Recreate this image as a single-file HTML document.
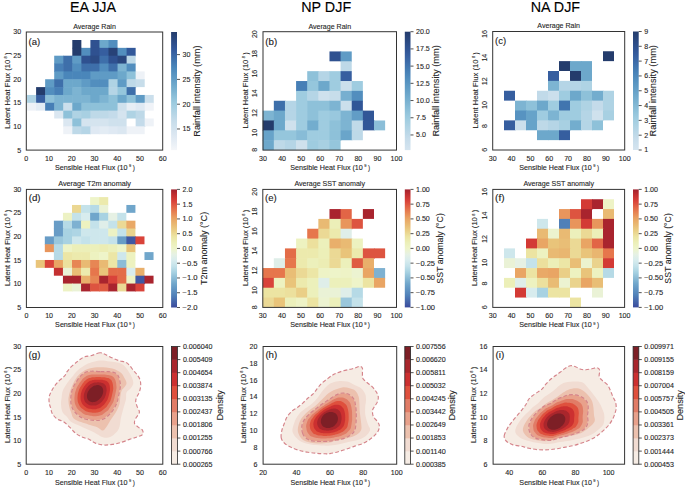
<!DOCTYPE html><html><head><meta charset="utf-8"><style>html,body{margin:0;padding:0;background:#fff;}svg{display:block;}</style></head><body><svg width="685" height="487" viewBox="0 0 685 487" font-family="'Liberation Sans', sans-serif"><rect x="0" y="0" width="685" height="487" fill="#ffffff"/>
<text x="93.00" y="12.30" font-size="14.35" text-anchor="middle" fill="#000000" stroke="#000000" stroke-width="0.1" >EA JJA</text>
<text x="326.20" y="12.30" font-size="14.35" text-anchor="middle" fill="#000000" stroke="#000000" stroke-width="0.1" >NP DJF</text>
<text x="555.40" y="12.30" font-size="14.35" text-anchor="middle" fill="#000000" stroke="#000000" stroke-width="0.1" >NA DJF</text>
<text x="94.50" y="28.90" font-size="6.58" text-anchor="middle" fill="#262626" stroke="#262626" stroke-width="0.1" textLength="42.71" lengthAdjust="spacingAndGlyphs" >Average Rain</text>
<text x="26.30" y="160.60" font-size="6.32" text-anchor="middle" fill="#262626" stroke="#262626" stroke-width="0.1" textLength="3.94" lengthAdjust="spacingAndGlyphs" >0</text>
<text x="49.03" y="160.60" font-size="6.32" text-anchor="middle" fill="#262626" stroke="#262626" stroke-width="0.1" textLength="7.89" lengthAdjust="spacingAndGlyphs" >10</text>
<text x="71.77" y="160.60" font-size="6.32" text-anchor="middle" fill="#262626" stroke="#262626" stroke-width="0.1" textLength="7.89" lengthAdjust="spacingAndGlyphs" >20</text>
<text x="94.50" y="160.60" font-size="6.32" text-anchor="middle" fill="#262626" stroke="#262626" stroke-width="0.1" textLength="7.89" lengthAdjust="spacingAndGlyphs" >30</text>
<text x="117.23" y="160.60" font-size="6.32" text-anchor="middle" fill="#262626" stroke="#262626" stroke-width="0.1" textLength="7.89" lengthAdjust="spacingAndGlyphs" >40</text>
<text x="139.97" y="160.60" font-size="6.32" text-anchor="middle" fill="#262626" stroke="#262626" stroke-width="0.1" textLength="7.89" lengthAdjust="spacingAndGlyphs" >50</text>
<text x="162.70" y="160.60" font-size="6.32" text-anchor="middle" fill="#262626" stroke="#262626" stroke-width="0.1" textLength="7.89" lengthAdjust="spacingAndGlyphs" >60</text>
<g><text x="55.00" y="170.00" font-size="6.32" fill="#262626" stroke="#262626" stroke-width="0.1" textLength="72.60" lengthAdjust="spacingAndGlyphs">Sensible Heat Flux (10</text><text x="129.00" y="167.47" font-size="3.92" fill="#262626" stroke="#262626" stroke-width="0.1">9</text><text x="132.70" y="170.00" font-size="6.32" fill="#262626" stroke="#262626" stroke-width="0.1">)</text></g>
<text x="21.20" y="152.50" font-size="6.32" text-anchor="end" fill="#262626" stroke="#262626" stroke-width="0.1" textLength="3.94" lengthAdjust="spacingAndGlyphs" >5</text>
<text x="21.20" y="128.88" font-size="6.32" text-anchor="end" fill="#262626" stroke="#262626" stroke-width="0.1" textLength="7.89" lengthAdjust="spacingAndGlyphs" >10</text>
<text x="21.20" y="105.26" font-size="6.32" text-anchor="end" fill="#262626" stroke="#262626" stroke-width="0.1" textLength="7.89" lengthAdjust="spacingAndGlyphs" >15</text>
<text x="21.20" y="81.64" font-size="6.32" text-anchor="end" fill="#262626" stroke="#262626" stroke-width="0.1" textLength="7.89" lengthAdjust="spacingAndGlyphs" >20</text>
<text x="21.20" y="58.02" font-size="6.32" text-anchor="end" fill="#262626" stroke="#262626" stroke-width="0.1" textLength="7.89" lengthAdjust="spacingAndGlyphs" >25</text>
<text x="21.20" y="34.40" font-size="6.32" text-anchor="end" fill="#262626" stroke="#262626" stroke-width="0.1" textLength="7.89" lengthAdjust="spacingAndGlyphs" >30</text>
<g transform="rotate(-90 9.80 91.05)"><text x="-27.85" y="91.05" font-size="6.32" fill="#262626" stroke="#262626" stroke-width="0.1" textLength="68.90" lengthAdjust="spacingAndGlyphs">Latent Heat Flux (10</text><text x="42.45" y="88.52" font-size="3.92" fill="#262626" stroke="#262626" stroke-width="0.1">8</text><text x="46.15" y="91.05" font-size="6.32" fill="#262626" stroke="#262626" stroke-width="0.1">)</text></g>
<text x="28.60" y="44.80" font-size="8.40" text-anchor="start" fill="#1a1a1a" stroke="#1a1a1a" stroke-width="0.1" textLength="11.70" lengthAdjust="spacingAndGlyphs" >(a)</text>
<rect x="72.30" y="40.00" width="9.05" height="8.45" fill="#243c6c"/>
<rect x="90.40" y="40.00" width="9.65" height="8.45" fill="#2f5190"/>
<rect x="99.45" y="40.00" width="9.65" height="8.45" fill="#6da8cb"/>
<rect x="108.50" y="40.00" width="9.05" height="8.45" fill="#528ebe"/>
<rect x="72.30" y="47.85" width="9.65" height="8.45" fill="#243c6c"/>
<rect x="81.35" y="47.85" width="9.65" height="8.45" fill="#528ebe"/>
<rect x="90.40" y="47.85" width="9.65" height="8.45" fill="#2f5190"/>
<rect x="99.45" y="47.85" width="9.65" height="8.45" fill="#365e9f"/>
<rect x="108.50" y="47.85" width="9.65" height="8.45" fill="#274277"/>
<rect x="117.55" y="47.85" width="9.65" height="8.45" fill="#528ebe"/>
<rect x="126.60" y="47.85" width="9.05" height="8.45" fill="#32589a"/>
<rect x="54.20" y="55.70" width="9.65" height="8.45" fill="#5f9bc5"/>
<rect x="63.25" y="55.70" width="9.65" height="8.45" fill="#3e6faa"/>
<rect x="72.30" y="55.70" width="9.65" height="8.45" fill="#5f9bc5"/>
<rect x="81.35" y="55.70" width="9.65" height="8.45" fill="#2f5190"/>
<rect x="90.40" y="55.70" width="9.65" height="8.45" fill="#2c4b85"/>
<rect x="99.45" y="55.70" width="9.65" height="8.45" fill="#3e6faa"/>
<rect x="108.50" y="55.70" width="9.65" height="8.45" fill="#2f5190"/>
<rect x="117.55" y="55.70" width="9.65" height="8.45" fill="#2a477e"/>
<rect x="126.60" y="55.70" width="9.05" height="8.45" fill="#bed9e8"/>
<rect x="54.20" y="63.55" width="9.65" height="8.45" fill="#477fb6"/>
<rect x="63.25" y="63.55" width="9.65" height="8.45" fill="#3e6faa"/>
<rect x="72.30" y="63.55" width="9.65" height="8.45" fill="#528ebe"/>
<rect x="81.35" y="63.55" width="9.65" height="8.45" fill="#3e6faa"/>
<rect x="90.40" y="63.55" width="9.65" height="8.45" fill="#3e6faa"/>
<rect x="99.45" y="63.55" width="9.65" height="8.45" fill="#528ebe"/>
<rect x="108.50" y="63.55" width="9.65" height="8.45" fill="#3e6faa"/>
<rect x="117.55" y="63.55" width="9.65" height="8.45" fill="#7db4d2"/>
<rect x="126.60" y="63.55" width="9.05" height="8.45" fill="#528ebe"/>
<rect x="54.20" y="71.40" width="9.65" height="8.45" fill="#5f9bc5"/>
<rect x="63.25" y="71.40" width="9.65" height="8.45" fill="#4a86ba"/>
<rect x="72.30" y="71.40" width="9.65" height="8.45" fill="#4a86ba"/>
<rect x="81.35" y="71.40" width="9.65" height="8.45" fill="#4a86ba"/>
<rect x="90.40" y="71.40" width="9.65" height="8.45" fill="#5f9bc5"/>
<rect x="99.45" y="71.40" width="9.65" height="8.45" fill="#5f9bc5"/>
<rect x="108.50" y="71.40" width="9.65" height="8.45" fill="#5f9bc5"/>
<rect x="117.55" y="71.40" width="9.65" height="8.45" fill="#6da8cb"/>
<rect x="126.60" y="71.40" width="9.65" height="8.45" fill="#8ec1d9"/>
<rect x="135.65" y="71.40" width="9.05" height="8.45" fill="#eef2f7"/>
<rect x="45.15" y="79.25" width="9.65" height="8.45" fill="#5f9bc5"/>
<rect x="54.20" y="79.25" width="9.65" height="8.45" fill="#3e6faa"/>
<rect x="63.25" y="79.25" width="9.65" height="8.45" fill="#6da8cb"/>
<rect x="72.30" y="79.25" width="9.65" height="8.45" fill="#6da8cb"/>
<rect x="81.35" y="79.25" width="9.65" height="8.45" fill="#5f9bc5"/>
<rect x="90.40" y="79.25" width="9.65" height="8.45" fill="#528ebe"/>
<rect x="99.45" y="79.25" width="9.65" height="8.45" fill="#528ebe"/>
<rect x="108.50" y="79.25" width="9.65" height="8.45" fill="#afd3e4"/>
<rect x="117.55" y="79.25" width="9.65" height="8.45" fill="#5f9bc5"/>
<rect x="126.60" y="79.25" width="9.65" height="8.45" fill="#bed9e8"/>
<rect x="135.65" y="79.25" width="9.05" height="7.85" fill="#c7ddea"/>
<rect x="36.10" y="87.10" width="9.65" height="8.45" fill="#243c6c"/>
<rect x="45.15" y="87.10" width="9.65" height="8.45" fill="#528ebe"/>
<rect x="54.20" y="87.10" width="9.65" height="8.45" fill="#477fb6"/>
<rect x="63.25" y="87.10" width="9.65" height="8.45" fill="#6da8cb"/>
<rect x="72.30" y="87.10" width="9.65" height="8.45" fill="#7db4d2"/>
<rect x="81.35" y="87.10" width="9.65" height="8.45" fill="#6da8cb"/>
<rect x="90.40" y="87.10" width="9.65" height="8.45" fill="#6da8cb"/>
<rect x="99.45" y="87.10" width="9.65" height="8.45" fill="#6da8cb"/>
<rect x="108.50" y="87.10" width="9.65" height="8.45" fill="#b5d5e6"/>
<rect x="117.55" y="87.10" width="9.65" height="8.45" fill="#95c6dc"/>
<rect x="126.60" y="87.10" width="9.05" height="8.45" fill="#3e6faa"/>
<rect x="27.05" y="94.95" width="9.65" height="8.45" fill="#afd3e4"/>
<rect x="36.10" y="94.95" width="9.65" height="8.45" fill="#365e9f"/>
<rect x="45.15" y="94.95" width="9.65" height="8.45" fill="#8ec1d9"/>
<rect x="54.20" y="94.95" width="9.65" height="8.45" fill="#7db4d2"/>
<rect x="63.25" y="94.95" width="9.65" height="8.45" fill="#7db4d2"/>
<rect x="72.30" y="94.95" width="9.65" height="8.45" fill="#7db4d2"/>
<rect x="81.35" y="94.95" width="9.65" height="8.45" fill="#7db4d2"/>
<rect x="90.40" y="94.95" width="9.65" height="8.45" fill="#6da8cb"/>
<rect x="99.45" y="94.95" width="9.65" height="8.45" fill="#7db4d2"/>
<rect x="108.50" y="94.95" width="9.65" height="8.45" fill="#8ec1d9"/>
<rect x="117.55" y="94.95" width="9.65" height="8.45" fill="#6da8cb"/>
<rect x="126.60" y="94.95" width="9.65" height="8.45" fill="#8ec1d9"/>
<rect x="135.65" y="94.95" width="9.65" height="8.45" fill="#5f9bc5"/>
<rect x="144.70" y="94.95" width="9.05" height="8.45" fill="#cbdfec"/>
<rect x="27.05" y="102.80" width="9.65" height="7.85" fill="#eef2f7"/>
<rect x="36.10" y="102.80" width="9.65" height="7.85" fill="#e3ecf4"/>
<rect x="45.15" y="102.80" width="9.65" height="7.85" fill="#477fb6"/>
<rect x="54.20" y="102.80" width="9.65" height="8.45" fill="#7db4d2"/>
<rect x="63.25" y="102.80" width="9.65" height="8.45" fill="#cbdfec"/>
<rect x="72.30" y="102.80" width="9.65" height="8.45" fill="#6da8cb"/>
<rect x="81.35" y="102.80" width="9.65" height="8.45" fill="#8ec1d9"/>
<rect x="90.40" y="102.80" width="9.65" height="8.45" fill="#8ec1d9"/>
<rect x="99.45" y="102.80" width="9.65" height="8.45" fill="#8ec1d9"/>
<rect x="108.50" y="102.80" width="9.65" height="8.45" fill="#8ec1d9"/>
<rect x="117.55" y="102.80" width="9.65" height="8.45" fill="#cfe1ed"/>
<rect x="126.60" y="102.80" width="9.65" height="8.45" fill="#e7eef5"/>
<rect x="135.65" y="102.80" width="9.65" height="8.45" fill="#dfe9f3"/>
<rect x="144.70" y="102.80" width="9.05" height="7.85" fill="#f0f3f8"/>
<rect x="54.20" y="110.65" width="9.65" height="7.85" fill="#dbe7f1"/>
<rect x="63.25" y="110.65" width="9.65" height="8.45" fill="#8ec1d9"/>
<rect x="72.30" y="110.65" width="9.65" height="8.45" fill="#afd3e4"/>
<rect x="81.35" y="110.65" width="9.65" height="8.45" fill="#a8d0e2"/>
<rect x="90.40" y="110.65" width="9.65" height="8.45" fill="#bed9e8"/>
<rect x="99.45" y="110.65" width="9.65" height="8.45" fill="#bed9e8"/>
<rect x="108.50" y="110.65" width="9.65" height="8.45" fill="#c4dbea"/>
<rect x="117.55" y="110.65" width="9.65" height="8.45" fill="#d5e4ef"/>
<rect x="126.60" y="110.65" width="9.65" height="7.85" fill="#afd3e4"/>
<rect x="135.65" y="110.65" width="9.05" height="8.45" fill="#bed9e8"/>
<rect x="63.25" y="118.50" width="9.65" height="8.45" fill="#dbe7f1"/>
<rect x="72.30" y="118.50" width="9.65" height="8.45" fill="#8ec1d9"/>
<rect x="81.35" y="118.50" width="9.65" height="8.45" fill="#d5e4ef"/>
<rect x="90.40" y="118.50" width="9.65" height="8.45" fill="#d5e4ef"/>
<rect x="99.45" y="118.50" width="9.65" height="8.45" fill="#d5e4ef"/>
<rect x="108.50" y="118.50" width="9.65" height="8.45" fill="#cfe1ed"/>
<rect x="117.55" y="118.50" width="9.05" height="8.45" fill="#cfe1ed"/>
<rect x="135.65" y="118.50" width="9.65" height="8.45" fill="#c4dbea"/>
<rect x="144.70" y="118.50" width="9.05" height="7.85" fill="#eef2f7"/>
<rect x="63.25" y="126.35" width="9.65" height="7.85" fill="#eef2f7"/>
<rect x="72.30" y="126.35" width="9.65" height="7.85" fill="#bed9e8"/>
<rect x="81.35" y="126.35" width="9.65" height="7.85" fill="#b5d5e6"/>
<rect x="90.40" y="126.35" width="9.65" height="7.85" fill="#dfe9f3"/>
<rect x="99.45" y="126.35" width="9.65" height="7.85" fill="#e3ecf4"/>
<rect x="108.50" y="126.35" width="9.65" height="7.85" fill="#dfe9f3"/>
<rect x="117.55" y="126.35" width="9.65" height="7.85" fill="#dbe7f1"/>
<rect x="126.60" y="126.35" width="9.65" height="7.85" fill="#eef2f7"/>
<rect x="135.65" y="126.35" width="9.05" height="7.85" fill="#eef2f7"/>
<rect x="26.30" y="32.00" width="136.40" height="118.10" fill="none" stroke="#333333" stroke-width="1"/>
<linearGradient id="g_a" x1="0" y1="1" x2="0" y2="0"><stop offset="0.000" stop-color="#f4f6f9"/><stop offset="0.050" stop-color="#eaf0f6"/><stop offset="0.100" stop-color="#e1eaf3"/><stop offset="0.150" stop-color="#d8e5f0"/><stop offset="0.200" stop-color="#cfe1ed"/><stop offset="0.250" stop-color="#c6dcea"/><stop offset="0.300" stop-color="#b8d6e6"/><stop offset="0.350" stop-color="#aad1e3"/><stop offset="0.400" stop-color="#9ccbdf"/><stop offset="0.450" stop-color="#8dc0d9"/><stop offset="0.500" stop-color="#7db4d2"/><stop offset="0.550" stop-color="#6ea9cc"/><stop offset="0.600" stop-color="#629dc6"/><stop offset="0.650" stop-color="#5692c0"/><stop offset="0.700" stop-color="#4a86ba"/><stop offset="0.750" stop-color="#4277b0"/><stop offset="0.800" stop-color="#3b68a6"/><stop offset="0.850" stop-color="#33599c"/><stop offset="0.900" stop-color="#2e4f8c"/><stop offset="0.950" stop-color="#29467c"/><stop offset="1.000" stop-color="#243c6c"/></linearGradient>
<rect x="171.10" y="32.00" width="5.90" height="118.10" fill="url(#g_a)"/>
<line x1="177.00" y1="128.98" x2="180.00" y2="128.98" stroke="#262626" stroke-width="0.8"/>
<text x="182.50" y="131.38" font-size="6.32" text-anchor="start" fill="#262626" stroke="#262626" stroke-width="0.1" textLength="7.89" lengthAdjust="spacingAndGlyphs" >15</text>
<line x1="177.00" y1="104.19" x2="180.00" y2="104.19" stroke="#262626" stroke-width="0.8"/>
<text x="182.50" y="106.59" font-size="6.32" text-anchor="start" fill="#262626" stroke="#262626" stroke-width="0.1" textLength="7.89" lengthAdjust="spacingAndGlyphs" >20</text>
<line x1="177.00" y1="79.40" x2="180.00" y2="79.40" stroke="#262626" stroke-width="0.8"/>
<text x="182.50" y="81.80" font-size="6.32" text-anchor="start" fill="#262626" stroke="#262626" stroke-width="0.1" textLength="7.89" lengthAdjust="spacingAndGlyphs" >25</text>
<line x1="177.00" y1="54.61" x2="180.00" y2="54.61" stroke="#262626" stroke-width="0.8"/>
<text x="182.50" y="57.01" font-size="6.32" text-anchor="start" fill="#262626" stroke="#262626" stroke-width="0.1" textLength="7.89" lengthAdjust="spacingAndGlyphs" >30</text>
<text x="199.60" y="91.05" font-size="8.16" text-anchor="middle" fill="#262626" stroke="#262626" stroke-width="0.1" textLength="91.34" lengthAdjust="spacingAndGlyphs" transform="rotate(-90 199.60 91.05)" >Rainfall intensity (mm)</text>
<text x="329.75" y="28.60" font-size="6.58" text-anchor="middle" fill="#262626" stroke="#262626" stroke-width="0.1" textLength="42.71" lengthAdjust="spacingAndGlyphs" >Average Rain</text>
<text x="263.00" y="160.60" font-size="6.32" text-anchor="middle" fill="#262626" stroke="#262626" stroke-width="0.1" textLength="7.89" lengthAdjust="spacingAndGlyphs" >30</text>
<text x="282.07" y="160.60" font-size="6.32" text-anchor="middle" fill="#262626" stroke="#262626" stroke-width="0.1" textLength="7.89" lengthAdjust="spacingAndGlyphs" >40</text>
<text x="301.14" y="160.60" font-size="6.32" text-anchor="middle" fill="#262626" stroke="#262626" stroke-width="0.1" textLength="7.89" lengthAdjust="spacingAndGlyphs" >50</text>
<text x="320.21" y="160.60" font-size="6.32" text-anchor="middle" fill="#262626" stroke="#262626" stroke-width="0.1" textLength="7.89" lengthAdjust="spacingAndGlyphs" >60</text>
<text x="339.29" y="160.60" font-size="6.32" text-anchor="middle" fill="#262626" stroke="#262626" stroke-width="0.1" textLength="7.89" lengthAdjust="spacingAndGlyphs" >70</text>
<text x="358.36" y="160.60" font-size="6.32" text-anchor="middle" fill="#262626" stroke="#262626" stroke-width="0.1" textLength="7.89" lengthAdjust="spacingAndGlyphs" >80</text>
<text x="377.43" y="160.60" font-size="6.32" text-anchor="middle" fill="#262626" stroke="#262626" stroke-width="0.1" textLength="7.89" lengthAdjust="spacingAndGlyphs" >90</text>
<text x="396.50" y="160.60" font-size="6.32" text-anchor="middle" fill="#262626" stroke="#262626" stroke-width="0.1" textLength="11.83" lengthAdjust="spacingAndGlyphs" >100</text>
<g><text x="290.25" y="170.00" font-size="6.32" fill="#262626" stroke="#262626" stroke-width="0.1" textLength="72.60" lengthAdjust="spacingAndGlyphs">Sensible Heat Flux (10</text><text x="364.25" y="167.47" font-size="3.92" fill="#262626" stroke="#262626" stroke-width="0.1">9</text><text x="367.95" y="170.00" font-size="6.32" fill="#262626" stroke="#262626" stroke-width="0.1">)</text></g>
<text x="257.30" y="149.90" font-size="6.32" text-anchor="middle" fill="#262626" stroke="#262626" stroke-width="0.1" textLength="3.94" lengthAdjust="spacingAndGlyphs" transform="rotate(-90 257.30 149.90)" >8</text>
<text x="257.30" y="132.82" font-size="6.32" text-anchor="middle" fill="#262626" stroke="#262626" stroke-width="0.1" textLength="7.89" lengthAdjust="spacingAndGlyphs" transform="rotate(-90 257.30 132.82)" >10</text>
<text x="257.30" y="113.08" font-size="6.32" text-anchor="middle" fill="#262626" stroke="#262626" stroke-width="0.1" textLength="7.89" lengthAdjust="spacingAndGlyphs" transform="rotate(-90 257.30 113.08)" >12</text>
<text x="257.30" y="93.35" font-size="6.32" text-anchor="middle" fill="#262626" stroke="#262626" stroke-width="0.1" textLength="7.89" lengthAdjust="spacingAndGlyphs" transform="rotate(-90 257.30 93.35)" >14</text>
<text x="257.30" y="73.62" font-size="6.32" text-anchor="middle" fill="#262626" stroke="#262626" stroke-width="0.1" textLength="7.89" lengthAdjust="spacingAndGlyphs" transform="rotate(-90 257.30 73.62)" >16</text>
<text x="257.30" y="53.88" font-size="6.32" text-anchor="middle" fill="#262626" stroke="#262626" stroke-width="0.1" textLength="7.89" lengthAdjust="spacingAndGlyphs" transform="rotate(-90 257.30 53.88)" >18</text>
<text x="257.30" y="34.15" font-size="6.32" text-anchor="middle" fill="#262626" stroke="#262626" stroke-width="0.1" textLength="7.89" lengthAdjust="spacingAndGlyphs" transform="rotate(-90 257.30 34.15)" >20</text>
<g transform="rotate(-90 248.00 90.90)"><text x="210.35" y="90.90" font-size="6.32" fill="#262626" stroke="#262626" stroke-width="0.1" textLength="68.90" lengthAdjust="spacingAndGlyphs">Latent Heat Flux (10</text><text x="280.65" y="88.37" font-size="3.92" fill="#262626" stroke="#262626" stroke-width="0.1">8</text><text x="284.35" y="90.90" font-size="6.32" fill="#262626" stroke="#262626" stroke-width="0.1">)</text></g>
<text x="265.30" y="44.50" font-size="8.40" text-anchor="start" fill="#1a1a1a" stroke="#1a1a1a" stroke-width="0.1" textLength="11.89" lengthAdjust="spacingAndGlyphs" >(b)</text>
<rect x="329.48" y="51.43" width="11.73" height="9.87" fill="#2f5190"/>
<rect x="340.61" y="51.43" width="11.13" height="10.47" fill="#5f9bc5"/>
<rect x="340.61" y="61.30" width="11.13" height="10.47" fill="#bed9e8"/>
<rect x="307.22" y="71.16" width="11.73" height="10.47" fill="#8ec1d9"/>
<rect x="318.35" y="71.16" width="11.73" height="10.47" fill="#b5d5e6"/>
<rect x="329.48" y="71.16" width="11.73" height="10.47" fill="#9fcce0"/>
<rect x="340.61" y="71.16" width="11.13" height="10.47" fill="#365e9f"/>
<rect x="296.09" y="81.03" width="11.73" height="10.47" fill="#477fb6"/>
<rect x="307.22" y="81.03" width="11.73" height="10.47" fill="#95c6dc"/>
<rect x="318.35" y="81.03" width="11.73" height="10.47" fill="#6da8cb"/>
<rect x="329.48" y="81.03" width="11.73" height="10.47" fill="#9fcce0"/>
<rect x="340.61" y="81.03" width="11.73" height="10.47" fill="#cbdfec"/>
<rect x="351.74" y="81.03" width="11.13" height="10.47" fill="#9fcce0"/>
<rect x="296.09" y="90.90" width="11.73" height="10.47" fill="#9fcce0"/>
<rect x="307.22" y="90.90" width="11.73" height="10.47" fill="#b5d5e6"/>
<rect x="318.35" y="90.90" width="11.73" height="10.47" fill="#cfe1ed"/>
<rect x="329.48" y="90.90" width="11.73" height="10.47" fill="#c7ddea"/>
<rect x="340.61" y="90.90" width="11.73" height="10.47" fill="#77afd0"/>
<rect x="351.74" y="90.90" width="11.13" height="10.47" fill="#528ebe"/>
<rect x="273.83" y="100.76" width="11.73" height="10.47" fill="#3e6faa"/>
<rect x="284.96" y="100.76" width="11.73" height="10.47" fill="#b5d5e6"/>
<rect x="296.09" y="100.76" width="11.73" height="10.47" fill="#9fcce0"/>
<rect x="307.22" y="100.76" width="11.73" height="10.47" fill="#8ec1d9"/>
<rect x="318.35" y="100.76" width="11.73" height="10.47" fill="#8ec1d9"/>
<rect x="329.48" y="100.76" width="11.73" height="10.47" fill="#7db4d2"/>
<rect x="340.61" y="100.76" width="11.73" height="10.47" fill="#cbdfec"/>
<rect x="351.74" y="100.76" width="11.13" height="10.47" fill="#315697"/>
<rect x="262.70" y="110.63" width="11.73" height="10.47" fill="#7db4d2"/>
<rect x="273.83" y="110.63" width="11.73" height="10.47" fill="#6da8cb"/>
<rect x="284.96" y="110.63" width="11.73" height="10.47" fill="#b5d5e6"/>
<rect x="296.09" y="110.63" width="11.73" height="10.47" fill="#9fcce0"/>
<rect x="307.22" y="110.63" width="11.73" height="10.47" fill="#8ec1d9"/>
<rect x="318.35" y="110.63" width="11.73" height="10.47" fill="#9fcce0"/>
<rect x="329.48" y="110.63" width="11.73" height="10.47" fill="#99c8de"/>
<rect x="340.61" y="110.63" width="11.73" height="10.47" fill="#7db4d2"/>
<rect x="351.74" y="110.63" width="11.73" height="10.47" fill="#629dc6"/>
<rect x="362.87" y="110.63" width="11.13" height="10.47" fill="#315697"/>
<rect x="262.70" y="120.49" width="11.73" height="10.47" fill="#243c6c"/>
<rect x="273.83" y="120.49" width="11.73" height="10.47" fill="#6da8cb"/>
<rect x="284.96" y="120.49" width="11.73" height="10.47" fill="#cfe1ed"/>
<rect x="296.09" y="120.49" width="11.73" height="10.47" fill="#9fcce0"/>
<rect x="307.22" y="120.49" width="11.73" height="10.47" fill="#73adce"/>
<rect x="318.35" y="120.49" width="11.73" height="10.47" fill="#9fcce0"/>
<rect x="329.48" y="120.49" width="11.73" height="10.47" fill="#8ec1d9"/>
<rect x="340.61" y="120.49" width="11.73" height="10.47" fill="#7db4d2"/>
<rect x="351.74" y="120.49" width="11.73" height="10.47" fill="#c1dae9"/>
<rect x="362.87" y="120.49" width="11.73" height="9.87" fill="#315697"/>
<rect x="374.00" y="120.49" width="11.13" height="9.87" fill="#8bbed8"/>
<rect x="262.70" y="130.36" width="11.73" height="10.47" fill="#67a3c9"/>
<rect x="273.83" y="130.36" width="11.73" height="10.47" fill="#95c6dc"/>
<rect x="284.96" y="130.36" width="11.73" height="10.47" fill="#95c6dc"/>
<rect x="296.09" y="130.36" width="11.73" height="10.47" fill="#88bcd7"/>
<rect x="307.22" y="130.36" width="11.73" height="10.47" fill="#9fcce0"/>
<rect x="318.35" y="130.36" width="11.73" height="10.47" fill="#9fcce0"/>
<rect x="329.48" y="130.36" width="11.73" height="10.47" fill="#8ec1d9"/>
<rect x="340.61" y="130.36" width="11.73" height="9.87" fill="#6aa5ca"/>
<rect x="351.74" y="130.36" width="11.13" height="9.87" fill="#bed9e8"/>
<rect x="262.70" y="140.23" width="11.73" height="9.87" fill="#6da8cb"/>
<rect x="273.83" y="140.23" width="11.73" height="9.87" fill="#bed9e8"/>
<rect x="284.96" y="140.23" width="11.73" height="9.87" fill="#b5d5e6"/>
<rect x="296.09" y="140.23" width="11.73" height="9.87" fill="#cfe1ed"/>
<rect x="307.22" y="140.23" width="11.73" height="9.87" fill="#9fcce0"/>
<rect x="318.35" y="140.23" width="11.73" height="9.87" fill="#a8d0e2"/>
<rect x="329.48" y="140.23" width="11.13" height="9.87" fill="#95c6dc"/>
<rect x="263.00" y="31.70" width="133.50" height="118.40" fill="none" stroke="#333333" stroke-width="1"/>
<linearGradient id="g_b" x1="0" y1="1" x2="0" y2="0"><stop offset="0.000" stop-color="#d5e4ef"/><stop offset="0.050" stop-color="#cde0ed"/><stop offset="0.100" stop-color="#c6dcea"/><stop offset="0.150" stop-color="#bad7e7"/><stop offset="0.200" stop-color="#afd3e4"/><stop offset="0.250" stop-color="#a3cee1"/><stop offset="0.300" stop-color="#97c7dd"/><stop offset="0.350" stop-color="#8abed8"/><stop offset="0.400" stop-color="#7db4d2"/><stop offset="0.450" stop-color="#71abcd"/><stop offset="0.500" stop-color="#66a1c8"/><stop offset="0.550" stop-color="#5c98c3"/><stop offset="0.600" stop-color="#528ebe"/><stop offset="0.650" stop-color="#4983b8"/><stop offset="0.700" stop-color="#4277b0"/><stop offset="0.750" stop-color="#3c6aa8"/><stop offset="0.800" stop-color="#365e9f"/><stop offset="0.850" stop-color="#305494"/><stop offset="0.900" stop-color="#2c4c87"/><stop offset="0.950" stop-color="#284479"/><stop offset="1.000" stop-color="#243c6c"/></linearGradient>
<rect x="404.80" y="31.70" width="5.70" height="118.40" fill="url(#g_b)"/>
<line x1="410.50" y1="134.96" x2="413.50" y2="134.96" stroke="#262626" stroke-width="0.8"/>
<text x="416.00" y="137.36" font-size="6.32" text-anchor="start" fill="#262626" stroke="#262626" stroke-width="0.1" textLength="9.86" lengthAdjust="spacingAndGlyphs" >5.0</text>
<line x1="410.50" y1="117.75" x2="413.50" y2="117.75" stroke="#262626" stroke-width="0.8"/>
<text x="416.00" y="120.15" font-size="6.32" text-anchor="start" fill="#262626" stroke="#262626" stroke-width="0.1" textLength="9.86" lengthAdjust="spacingAndGlyphs" >7.5</text>
<line x1="410.50" y1="100.54" x2="413.50" y2="100.54" stroke="#262626" stroke-width="0.8"/>
<text x="416.00" y="102.94" font-size="6.32" text-anchor="start" fill="#262626" stroke="#262626" stroke-width="0.1" textLength="13.81" lengthAdjust="spacingAndGlyphs" >10.0</text>
<line x1="410.50" y1="83.33" x2="413.50" y2="83.33" stroke="#262626" stroke-width="0.8"/>
<text x="416.00" y="85.73" font-size="6.32" text-anchor="start" fill="#262626" stroke="#262626" stroke-width="0.1" textLength="13.81" lengthAdjust="spacingAndGlyphs" >12.5</text>
<line x1="410.50" y1="66.12" x2="413.50" y2="66.12" stroke="#262626" stroke-width="0.8"/>
<text x="416.00" y="68.52" font-size="6.32" text-anchor="start" fill="#262626" stroke="#262626" stroke-width="0.1" textLength="13.81" lengthAdjust="spacingAndGlyphs" >15.0</text>
<line x1="410.50" y1="48.91" x2="413.50" y2="48.91" stroke="#262626" stroke-width="0.8"/>
<text x="416.00" y="51.31" font-size="6.32" text-anchor="start" fill="#262626" stroke="#262626" stroke-width="0.1" textLength="13.81" lengthAdjust="spacingAndGlyphs" >17.5</text>
<line x1="410.50" y1="31.70" x2="413.50" y2="31.70" stroke="#262626" stroke-width="0.8"/>
<text x="416.00" y="34.10" font-size="6.32" text-anchor="start" fill="#262626" stroke="#262626" stroke-width="0.1" textLength="13.81" lengthAdjust="spacingAndGlyphs" >20.0</text>
<text x="439.20" y="90.90" font-size="8.16" text-anchor="middle" fill="#262626" stroke="#262626" stroke-width="0.1" textLength="91.34" lengthAdjust="spacingAndGlyphs" transform="rotate(-90 439.20 90.90)" >Rainfall intensity (mm)</text>
<text x="558.70" y="28.40" font-size="6.58" text-anchor="middle" fill="#262626" stroke="#262626" stroke-width="0.1" textLength="42.71" lengthAdjust="spacingAndGlyphs" >Average Rain</text>
<text x="492.70" y="160.50" font-size="6.32" text-anchor="middle" fill="#262626" stroke="#262626" stroke-width="0.1" textLength="7.89" lengthAdjust="spacingAndGlyphs" >30</text>
<text x="511.56" y="160.50" font-size="6.32" text-anchor="middle" fill="#262626" stroke="#262626" stroke-width="0.1" textLength="7.89" lengthAdjust="spacingAndGlyphs" >40</text>
<text x="530.41" y="160.50" font-size="6.32" text-anchor="middle" fill="#262626" stroke="#262626" stroke-width="0.1" textLength="7.89" lengthAdjust="spacingAndGlyphs" >50</text>
<text x="549.27" y="160.50" font-size="6.32" text-anchor="middle" fill="#262626" stroke="#262626" stroke-width="0.1" textLength="7.89" lengthAdjust="spacingAndGlyphs" >60</text>
<text x="568.13" y="160.50" font-size="6.32" text-anchor="middle" fill="#262626" stroke="#262626" stroke-width="0.1" textLength="7.89" lengthAdjust="spacingAndGlyphs" >70</text>
<text x="586.99" y="160.50" font-size="6.32" text-anchor="middle" fill="#262626" stroke="#262626" stroke-width="0.1" textLength="7.89" lengthAdjust="spacingAndGlyphs" >80</text>
<text x="605.84" y="160.50" font-size="6.32" text-anchor="middle" fill="#262626" stroke="#262626" stroke-width="0.1" textLength="7.89" lengthAdjust="spacingAndGlyphs" >90</text>
<text x="624.70" y="160.50" font-size="6.32" text-anchor="middle" fill="#262626" stroke="#262626" stroke-width="0.1" textLength="11.83" lengthAdjust="spacingAndGlyphs" >100</text>
<g><text x="519.20" y="169.90" font-size="6.32" fill="#262626" stroke="#262626" stroke-width="0.1" textLength="72.60" lengthAdjust="spacingAndGlyphs">Sensible Heat Flux (10</text><text x="593.20" y="167.37" font-size="3.92" fill="#262626" stroke="#262626" stroke-width="0.1">9</text><text x="596.90" y="169.90" font-size="6.32" fill="#262626" stroke="#262626" stroke-width="0.1">)</text></g>
<text x="487.00" y="149.80" font-size="6.32" text-anchor="middle" fill="#262626" stroke="#262626" stroke-width="0.1" textLength="3.94" lengthAdjust="spacingAndGlyphs" transform="rotate(-90 487.00 149.80)" >6</text>
<text x="487.00" y="126.10" font-size="6.32" text-anchor="middle" fill="#262626" stroke="#262626" stroke-width="0.1" textLength="3.94" lengthAdjust="spacingAndGlyphs" transform="rotate(-90 487.00 126.10)" >8</text>
<text x="487.00" y="105.05" font-size="6.32" text-anchor="middle" fill="#262626" stroke="#262626" stroke-width="0.1" textLength="7.89" lengthAdjust="spacingAndGlyphs" transform="rotate(-90 487.00 105.05)" >10</text>
<text x="487.00" y="81.35" font-size="6.32" text-anchor="middle" fill="#262626" stroke="#262626" stroke-width="0.1" textLength="7.89" lengthAdjust="spacingAndGlyphs" transform="rotate(-90 487.00 81.35)" >12</text>
<text x="487.00" y="57.65" font-size="6.32" text-anchor="middle" fill="#262626" stroke="#262626" stroke-width="0.1" textLength="7.89" lengthAdjust="spacingAndGlyphs" transform="rotate(-90 487.00 57.65)" >14</text>
<text x="487.00" y="33.95" font-size="6.32" text-anchor="middle" fill="#262626" stroke="#262626" stroke-width="0.1" textLength="7.89" lengthAdjust="spacingAndGlyphs" transform="rotate(-90 487.00 33.95)" >16</text>
<g transform="rotate(-90 477.50 90.75)"><text x="439.85" y="90.75" font-size="6.32" fill="#262626" stroke="#262626" stroke-width="0.1" textLength="68.90" lengthAdjust="spacingAndGlyphs">Latent Heat Flux (10</text><text x="510.15" y="88.22" font-size="3.92" fill="#262626" stroke="#262626" stroke-width="0.1">8</text><text x="513.85" y="90.75" font-size="6.32" fill="#262626" stroke="#262626" stroke-width="0.1">)</text></g>
<text x="495.00" y="44.30" font-size="8.40" text-anchor="start" fill="#1a1a1a" stroke="#1a1a1a" stroke-width="0.1" textLength="11.17" lengthAdjust="spacingAndGlyphs" >(c)</text>
<rect x="603.00" y="51.25" width="11.00" height="9.88" fill="#243c6c"/>
<rect x="559.00" y="61.12" width="11.60" height="9.88" fill="#243c6c"/>
<rect x="570.00" y="61.12" width="11.60" height="10.47" fill="#6da8cb"/>
<rect x="581.00" y="61.12" width="11.00" height="10.47" fill="#6da8cb"/>
<rect x="548.00" y="71.00" width="11.00" height="10.47" fill="#365e9f"/>
<rect x="570.00" y="71.00" width="11.60" height="10.47" fill="#243c6c"/>
<rect x="581.00" y="71.00" width="11.00" height="10.47" fill="#6da8cb"/>
<rect x="548.00" y="80.88" width="11.60" height="10.47" fill="#7db4d2"/>
<rect x="559.00" y="80.88" width="11.60" height="10.47" fill="#b5d5e6"/>
<rect x="570.00" y="80.88" width="11.60" height="10.47" fill="#b5d5e6"/>
<rect x="581.00" y="80.88" width="11.00" height="10.47" fill="#afd3e4"/>
<rect x="504.00" y="90.75" width="11.00" height="9.88" fill="#365e9f"/>
<rect x="537.00" y="90.75" width="11.60" height="10.47" fill="#c1dae9"/>
<rect x="548.00" y="90.75" width="11.60" height="10.47" fill="#cbdfec"/>
<rect x="559.00" y="90.75" width="11.60" height="10.47" fill="#9fcce0"/>
<rect x="570.00" y="90.75" width="11.60" height="10.47" fill="#6da8cb"/>
<rect x="581.00" y="90.75" width="11.60" height="10.47" fill="#8ec1d9"/>
<rect x="592.00" y="90.75" width="11.60" height="10.47" fill="#73adce"/>
<rect x="603.00" y="90.75" width="11.00" height="10.47" fill="#afd3e4"/>
<rect x="515.00" y="100.62" width="11.60" height="10.47" fill="#7db4d2"/>
<rect x="526.00" y="100.62" width="11.60" height="10.47" fill="#8ec1d9"/>
<rect x="537.00" y="100.62" width="11.60" height="10.47" fill="#6da8cb"/>
<rect x="548.00" y="100.62" width="11.60" height="10.47" fill="#9fcce0"/>
<rect x="559.00" y="100.62" width="11.60" height="10.47" fill="#4175af"/>
<rect x="570.00" y="100.62" width="11.60" height="10.47" fill="#9fcce0"/>
<rect x="581.00" y="100.62" width="11.60" height="10.47" fill="#afd3e4"/>
<rect x="592.00" y="100.62" width="11.60" height="10.47" fill="#c4dbea"/>
<rect x="603.00" y="100.62" width="11.00" height="10.47" fill="#afd3e4"/>
<rect x="515.00" y="110.50" width="11.60" height="10.47" fill="#5793c1"/>
<rect x="526.00" y="110.50" width="11.60" height="10.47" fill="#67a3c9"/>
<rect x="537.00" y="110.50" width="11.60" height="10.47" fill="#9fcce0"/>
<rect x="548.00" y="110.50" width="11.60" height="10.47" fill="#7db4d2"/>
<rect x="559.00" y="110.50" width="11.60" height="10.47" fill="#9fcce0"/>
<rect x="570.00" y="110.50" width="11.60" height="10.47" fill="#9fcce0"/>
<rect x="581.00" y="110.50" width="11.60" height="10.47" fill="#b5d5e6"/>
<rect x="592.00" y="110.50" width="11.60" height="10.47" fill="#cfe1ed"/>
<rect x="603.00" y="110.50" width="11.00" height="9.88" fill="#a8d0e2"/>
<rect x="504.00" y="120.38" width="11.60" height="9.88" fill="#365e9f"/>
<rect x="515.00" y="120.38" width="11.60" height="9.88" fill="#cbdfec"/>
<rect x="526.00" y="120.38" width="11.60" height="9.88" fill="#67a3c9"/>
<rect x="537.00" y="120.38" width="11.60" height="10.47" fill="#bed9e8"/>
<rect x="548.00" y="120.38" width="11.60" height="10.47" fill="#b5d5e6"/>
<rect x="559.00" y="120.38" width="11.60" height="10.47" fill="#a8d0e2"/>
<rect x="570.00" y="120.38" width="11.60" height="9.88" fill="#73adce"/>
<rect x="581.00" y="120.38" width="11.60" height="9.88" fill="#b5d5e6"/>
<rect x="592.00" y="120.38" width="11.00" height="9.88" fill="#8ec1d9"/>
<rect x="537.00" y="130.25" width="11.60" height="9.88" fill="#6da8cb"/>
<rect x="548.00" y="130.25" width="11.60" height="9.88" fill="#6da8cb"/>
<rect x="559.00" y="130.25" width="11.00" height="9.88" fill="#365e9f"/>
<rect x="492.70" y="31.50" width="132.00" height="118.50" fill="none" stroke="#333333" stroke-width="1"/>
<linearGradient id="g_c" x1="0" y1="1" x2="0" y2="0"><stop offset="0.000" stop-color="#d5e4ef"/><stop offset="0.050" stop-color="#cde0ed"/><stop offset="0.100" stop-color="#c6dcea"/><stop offset="0.150" stop-color="#bad7e7"/><stop offset="0.200" stop-color="#afd3e4"/><stop offset="0.250" stop-color="#a3cee1"/><stop offset="0.300" stop-color="#97c7dd"/><stop offset="0.350" stop-color="#8abed8"/><stop offset="0.400" stop-color="#7db4d2"/><stop offset="0.450" stop-color="#71abcd"/><stop offset="0.500" stop-color="#66a1c8"/><stop offset="0.550" stop-color="#5c98c3"/><stop offset="0.600" stop-color="#528ebe"/><stop offset="0.650" stop-color="#4983b8"/><stop offset="0.700" stop-color="#4277b0"/><stop offset="0.750" stop-color="#3c6aa8"/><stop offset="0.800" stop-color="#365e9f"/><stop offset="0.850" stop-color="#305494"/><stop offset="0.900" stop-color="#2c4c87"/><stop offset="0.950" stop-color="#284479"/><stop offset="1.000" stop-color="#243c6c"/></linearGradient>
<rect x="633.00" y="31.50" width="5.70" height="118.50" fill="url(#g_c)"/>
<line x1="638.70" y1="150.00" x2="641.70" y2="150.00" stroke="#262626" stroke-width="0.8"/>
<text x="644.20" y="152.40" font-size="6.32" text-anchor="start" fill="#262626" stroke="#262626" stroke-width="0.1" textLength="3.94" lengthAdjust="spacingAndGlyphs" >1</text>
<line x1="638.70" y1="135.19" x2="641.70" y2="135.19" stroke="#262626" stroke-width="0.8"/>
<text x="644.20" y="137.59" font-size="6.32" text-anchor="start" fill="#262626" stroke="#262626" stroke-width="0.1" textLength="3.94" lengthAdjust="spacingAndGlyphs" >2</text>
<line x1="638.70" y1="120.38" x2="641.70" y2="120.38" stroke="#262626" stroke-width="0.8"/>
<text x="644.20" y="122.78" font-size="6.32" text-anchor="start" fill="#262626" stroke="#262626" stroke-width="0.1" textLength="3.94" lengthAdjust="spacingAndGlyphs" >3</text>
<line x1="638.70" y1="105.56" x2="641.70" y2="105.56" stroke="#262626" stroke-width="0.8"/>
<text x="644.20" y="107.96" font-size="6.32" text-anchor="start" fill="#262626" stroke="#262626" stroke-width="0.1" textLength="3.94" lengthAdjust="spacingAndGlyphs" >4</text>
<line x1="638.70" y1="90.75" x2="641.70" y2="90.75" stroke="#262626" stroke-width="0.8"/>
<text x="644.20" y="93.15" font-size="6.32" text-anchor="start" fill="#262626" stroke="#262626" stroke-width="0.1" textLength="3.94" lengthAdjust="spacingAndGlyphs" >5</text>
<line x1="638.70" y1="75.94" x2="641.70" y2="75.94" stroke="#262626" stroke-width="0.8"/>
<text x="644.20" y="78.34" font-size="6.32" text-anchor="start" fill="#262626" stroke="#262626" stroke-width="0.1" textLength="3.94" lengthAdjust="spacingAndGlyphs" >6</text>
<line x1="638.70" y1="61.12" x2="641.70" y2="61.12" stroke="#262626" stroke-width="0.8"/>
<text x="644.20" y="63.52" font-size="6.32" text-anchor="start" fill="#262626" stroke="#262626" stroke-width="0.1" textLength="3.94" lengthAdjust="spacingAndGlyphs" >7</text>
<line x1="638.70" y1="46.31" x2="641.70" y2="46.31" stroke="#262626" stroke-width="0.8"/>
<text x="644.20" y="48.71" font-size="6.32" text-anchor="start" fill="#262626" stroke="#262626" stroke-width="0.1" textLength="3.94" lengthAdjust="spacingAndGlyphs" >8</text>
<line x1="638.70" y1="31.50" x2="641.70" y2="31.50" stroke="#262626" stroke-width="0.8"/>
<text x="644.20" y="33.90" font-size="6.32" text-anchor="start" fill="#262626" stroke="#262626" stroke-width="0.1" textLength="3.94" lengthAdjust="spacingAndGlyphs" >9</text>
<text x="656.30" y="90.75" font-size="8.16" text-anchor="middle" fill="#262626" stroke="#262626" stroke-width="0.1" textLength="91.34" lengthAdjust="spacingAndGlyphs" transform="rotate(-90 656.30 90.75)" >Rainfall intensity (mm)</text>
<text x="94.60" y="186.30" font-size="6.58" text-anchor="middle" fill="#262626" stroke="#262626" stroke-width="0.1" textLength="72.75" lengthAdjust="spacingAndGlyphs" >Average T2m anomaly</text>
<text x="26.40" y="318.00" font-size="6.32" text-anchor="middle" fill="#262626" stroke="#262626" stroke-width="0.1" textLength="3.94" lengthAdjust="spacingAndGlyphs" >0</text>
<text x="49.13" y="318.00" font-size="6.32" text-anchor="middle" fill="#262626" stroke="#262626" stroke-width="0.1" textLength="7.89" lengthAdjust="spacingAndGlyphs" >10</text>
<text x="71.87" y="318.00" font-size="6.32" text-anchor="middle" fill="#262626" stroke="#262626" stroke-width="0.1" textLength="7.89" lengthAdjust="spacingAndGlyphs" >20</text>
<text x="94.60" y="318.00" font-size="6.32" text-anchor="middle" fill="#262626" stroke="#262626" stroke-width="0.1" textLength="7.89" lengthAdjust="spacingAndGlyphs" >30</text>
<text x="117.33" y="318.00" font-size="6.32" text-anchor="middle" fill="#262626" stroke="#262626" stroke-width="0.1" textLength="7.89" lengthAdjust="spacingAndGlyphs" >40</text>
<text x="140.07" y="318.00" font-size="6.32" text-anchor="middle" fill="#262626" stroke="#262626" stroke-width="0.1" textLength="7.89" lengthAdjust="spacingAndGlyphs" >50</text>
<text x="162.80" y="318.00" font-size="6.32" text-anchor="middle" fill="#262626" stroke="#262626" stroke-width="0.1" textLength="7.89" lengthAdjust="spacingAndGlyphs" >60</text>
<g><text x="55.10" y="327.40" font-size="6.32" fill="#262626" stroke="#262626" stroke-width="0.1" textLength="72.60" lengthAdjust="spacingAndGlyphs">Sensible Heat Flux (10</text><text x="129.10" y="324.87" font-size="3.92" fill="#262626" stroke="#262626" stroke-width="0.1">9</text><text x="132.80" y="327.40" font-size="6.32" fill="#262626" stroke="#262626" stroke-width="0.1">)</text></g>
<text x="21.30" y="309.90" font-size="6.32" text-anchor="end" fill="#262626" stroke="#262626" stroke-width="0.1" textLength="3.94" lengthAdjust="spacingAndGlyphs" >5</text>
<text x="21.30" y="286.28" font-size="6.32" text-anchor="end" fill="#262626" stroke="#262626" stroke-width="0.1" textLength="7.89" lengthAdjust="spacingAndGlyphs" >10</text>
<text x="21.30" y="262.66" font-size="6.32" text-anchor="end" fill="#262626" stroke="#262626" stroke-width="0.1" textLength="7.89" lengthAdjust="spacingAndGlyphs" >15</text>
<text x="21.30" y="239.04" font-size="6.32" text-anchor="end" fill="#262626" stroke="#262626" stroke-width="0.1" textLength="7.89" lengthAdjust="spacingAndGlyphs" >20</text>
<text x="21.30" y="215.42" font-size="6.32" text-anchor="end" fill="#262626" stroke="#262626" stroke-width="0.1" textLength="7.89" lengthAdjust="spacingAndGlyphs" >25</text>
<text x="21.30" y="191.80" font-size="6.32" text-anchor="end" fill="#262626" stroke="#262626" stroke-width="0.1" textLength="7.89" lengthAdjust="spacingAndGlyphs" >30</text>
<g transform="rotate(-90 9.80 248.45)"><text x="-27.85" y="248.45" font-size="6.32" fill="#262626" stroke="#262626" stroke-width="0.1" textLength="68.90" lengthAdjust="spacingAndGlyphs">Latent Heat Flux (10</text><text x="42.45" y="245.92" font-size="3.92" fill="#262626" stroke="#262626" stroke-width="0.1">8</text><text x="46.15" y="248.45" font-size="6.32" fill="#262626" stroke="#262626" stroke-width="0.1">)</text></g>
<text x="28.70" y="201.20" font-size="8.40" text-anchor="start" fill="#1a1a1a" stroke="#1a1a1a" stroke-width="0.1" textLength="11.89" lengthAdjust="spacingAndGlyphs" >(d)</text>
<rect x="90.12" y="197.10" width="9.66" height="8.46" fill="#eef4c9"/>
<rect x="99.18" y="197.10" width="9.06" height="8.46" fill="#eceaad"/>
<rect x="72.00" y="204.96" width="9.66" height="8.46" fill="#ebd792"/>
<rect x="81.06" y="204.96" width="9.66" height="8.46" fill="#c4e2ea"/>
<rect x="90.12" y="204.96" width="9.66" height="8.46" fill="#b6dae6"/>
<rect x="99.18" y="204.96" width="9.06" height="8.46" fill="#eaf2d6"/>
<rect x="126.36" y="204.96" width="9.06" height="7.86" fill="#70a6cb"/>
<rect x="62.94" y="212.82" width="9.66" height="8.46" fill="#edf2c4"/>
<rect x="72.00" y="212.82" width="9.66" height="8.46" fill="#c4e2ea"/>
<rect x="81.06" y="212.82" width="9.66" height="8.46" fill="#d8ecee"/>
<rect x="90.12" y="212.82" width="9.66" height="8.46" fill="#70a6cb"/>
<rect x="99.18" y="212.82" width="9.66" height="8.46" fill="#a8d2e2"/>
<rect x="108.24" y="212.82" width="9.66" height="8.46" fill="#e6f1e4"/>
<rect x="117.30" y="212.82" width="9.06" height="8.46" fill="#c4e2ea"/>
<rect x="53.88" y="220.68" width="9.66" height="8.46" fill="#689cc6"/>
<rect x="62.94" y="220.68" width="9.66" height="8.46" fill="#b6dae6"/>
<rect x="72.00" y="220.68" width="9.66" height="8.46" fill="#7eb1d1"/>
<rect x="81.06" y="220.68" width="9.66" height="8.46" fill="#edf2c0"/>
<rect x="90.12" y="220.68" width="9.66" height="8.46" fill="#c4e2ea"/>
<rect x="99.18" y="220.68" width="9.66" height="8.46" fill="#dfeee9"/>
<rect x="108.24" y="220.68" width="9.66" height="8.46" fill="#c4e2ea"/>
<rect x="117.30" y="220.68" width="9.66" height="8.46" fill="#ebd995"/>
<rect x="126.36" y="220.68" width="9.06" height="8.46" fill="#e9a967"/>
<rect x="53.88" y="228.54" width="9.66" height="8.46" fill="#689cc6"/>
<rect x="62.94" y="228.54" width="9.66" height="8.46" fill="#a8d2e2"/>
<rect x="72.00" y="228.54" width="9.66" height="8.46" fill="#aed5e4"/>
<rect x="81.06" y="228.54" width="9.66" height="8.46" fill="#cee7ec"/>
<rect x="90.12" y="228.54" width="9.66" height="8.46" fill="#cee7ec"/>
<rect x="99.18" y="228.54" width="9.66" height="8.46" fill="#cee7ec"/>
<rect x="108.24" y="228.54" width="9.66" height="8.46" fill="#edf2c4"/>
<rect x="117.30" y="228.54" width="9.66" height="8.46" fill="#c4e2ea"/>
<rect x="126.36" y="228.54" width="9.06" height="8.46" fill="#ead38d"/>
<rect x="44.82" y="236.40" width="9.66" height="8.46" fill="#689cc6"/>
<rect x="53.88" y="236.40" width="9.66" height="8.46" fill="#9ac7dc"/>
<rect x="62.94" y="236.40" width="9.66" height="8.46" fill="#a8d2e2"/>
<rect x="72.00" y="236.40" width="9.66" height="8.46" fill="#cee7ec"/>
<rect x="81.06" y="236.40" width="9.66" height="8.46" fill="#c4e2ea"/>
<rect x="90.12" y="236.40" width="9.66" height="8.46" fill="#cee7ec"/>
<rect x="99.18" y="236.40" width="9.66" height="8.46" fill="#cee7ec"/>
<rect x="108.24" y="236.40" width="9.66" height="8.46" fill="#c4e2ea"/>
<rect x="117.30" y="236.40" width="9.66" height="8.46" fill="#689cc6"/>
<rect x="126.36" y="236.40" width="9.66" height="8.46" fill="#4058a3"/>
<rect x="135.42" y="236.40" width="9.06" height="7.86" fill="#d9433a"/>
<rect x="44.82" y="244.26" width="9.66" height="7.86" fill="#e8955c"/>
<rect x="53.88" y="244.26" width="9.66" height="8.46" fill="#b6dae6"/>
<rect x="62.94" y="244.26" width="9.66" height="8.46" fill="#eef3c6"/>
<rect x="72.00" y="244.26" width="9.66" height="8.46" fill="#ecefb8"/>
<rect x="81.06" y="244.26" width="9.66" height="8.46" fill="#ecefb8"/>
<rect x="90.12" y="244.26" width="9.66" height="8.46" fill="#ecf0bb"/>
<rect x="99.18" y="244.26" width="9.66" height="8.46" fill="#ecedb4"/>
<rect x="108.24" y="244.26" width="9.66" height="8.46" fill="#ecf0bb"/>
<rect x="117.30" y="244.26" width="9.66" height="8.46" fill="#eef4c9"/>
<rect x="126.36" y="244.26" width="9.06" height="8.46" fill="#e9c47a"/>
<rect x="53.88" y="252.12" width="9.66" height="8.46" fill="#b6dae6"/>
<rect x="62.94" y="252.12" width="9.66" height="8.46" fill="#ece6a6"/>
<rect x="72.00" y="252.12" width="9.66" height="8.46" fill="#eceaad"/>
<rect x="81.06" y="252.12" width="9.66" height="8.46" fill="#eceaad"/>
<rect x="90.12" y="252.12" width="9.66" height="8.46" fill="#edf2c0"/>
<rect x="99.18" y="252.12" width="9.66" height="8.46" fill="#eef4c9"/>
<rect x="108.24" y="252.12" width="9.66" height="8.46" fill="#ece6a6"/>
<rect x="117.30" y="252.12" width="9.66" height="8.46" fill="#cee7ec"/>
<rect x="126.36" y="252.12" width="9.06" height="8.46" fill="#edf2c0"/>
<rect x="144.48" y="252.12" width="9.06" height="7.86" fill="#70a6cb"/>
<rect x="35.76" y="259.98" width="9.66" height="7.86" fill="#e9c47a"/>
<rect x="44.82" y="259.98" width="9.66" height="7.86" fill="#d9433a"/>
<rect x="53.88" y="259.98" width="9.66" height="8.46" fill="#e9a564"/>
<rect x="62.94" y="259.98" width="9.66" height="8.46" fill="#ece09d"/>
<rect x="72.00" y="259.98" width="9.66" height="8.46" fill="#e78654"/>
<rect x="81.06" y="259.98" width="9.66" height="8.46" fill="#e9ba73"/>
<rect x="90.12" y="259.98" width="9.66" height="8.46" fill="#e78654"/>
<rect x="99.18" y="259.98" width="9.66" height="8.46" fill="#e9ba73"/>
<rect x="108.24" y="259.98" width="9.66" height="8.46" fill="#ece6a6"/>
<rect x="117.30" y="259.98" width="9.66" height="8.46" fill="#8cbcd6"/>
<rect x="126.36" y="259.98" width="9.06" height="8.46" fill="#edf2c0"/>
<rect x="53.88" y="267.84" width="9.66" height="7.86" fill="#c43031"/>
<rect x="62.94" y="267.84" width="9.66" height="8.46" fill="#eaf2d6"/>
<rect x="72.00" y="267.84" width="9.66" height="8.46" fill="#e9be76"/>
<rect x="81.06" y="267.84" width="9.66" height="8.46" fill="#eceaad"/>
<rect x="90.12" y="267.84" width="9.66" height="8.46" fill="#e6764c"/>
<rect x="99.18" y="267.84" width="9.66" height="8.46" fill="#e9c47a"/>
<rect x="108.24" y="267.84" width="9.66" height="8.46" fill="#e36c48"/>
<rect x="117.30" y="267.84" width="9.66" height="8.46" fill="#e36c48"/>
<rect x="126.36" y="267.84" width="9.66" height="8.46" fill="#d8ecee"/>
<rect x="135.42" y="267.84" width="9.06" height="8.46" fill="#e9af6b"/>
<rect x="62.94" y="275.70" width="9.66" height="8.46" fill="#a9242e"/>
<rect x="72.00" y="275.70" width="9.66" height="8.46" fill="#a9242e"/>
<rect x="81.06" y="275.70" width="9.66" height="8.46" fill="#e9af6b"/>
<rect x="90.12" y="275.70" width="9.66" height="8.46" fill="#e78654"/>
<rect x="99.18" y="275.70" width="9.66" height="8.46" fill="#a9242e"/>
<rect x="108.24" y="275.70" width="9.66" height="8.46" fill="#d9433a"/>
<rect x="117.30" y="275.70" width="9.66" height="8.46" fill="#e36c48"/>
<rect x="126.36" y="275.70" width="9.66" height="8.46" fill="#edf2c4"/>
<rect x="135.42" y="275.70" width="9.66" height="8.46" fill="#4058a3"/>
<rect x="144.48" y="275.70" width="9.06" height="7.86" fill="#a9242e"/>
<rect x="62.94" y="283.56" width="9.66" height="7.86" fill="#edf2c4"/>
<rect x="72.00" y="283.56" width="9.66" height="7.86" fill="#eaf2d6"/>
<rect x="81.06" y="283.56" width="9.66" height="7.86" fill="#a9242e"/>
<rect x="90.12" y="283.56" width="9.66" height="7.86" fill="#dd5440"/>
<rect x="99.18" y="283.56" width="9.66" height="7.86" fill="#df5b42"/>
<rect x="108.24" y="283.56" width="9.66" height="7.86" fill="#a9242e"/>
<rect x="117.30" y="283.56" width="9.66" height="7.86" fill="#ebd995"/>
<rect x="126.36" y="283.56" width="9.66" height="7.86" fill="#a9242e"/>
<rect x="135.42" y="283.56" width="9.06" height="7.86" fill="#d9433a"/>
<rect x="26.40" y="189.40" width="136.40" height="118.10" fill="none" stroke="#333333" stroke-width="1"/>
<linearGradient id="g_d" x1="0" y1="1" x2="0" y2="0"><stop offset="0.000" stop-color="#3a4a9c"/><stop offset="0.050" stop-color="#4565aa"/><stop offset="0.100" stop-color="#5080b8"/><stop offset="0.150" stop-color="#6093c2"/><stop offset="0.200" stop-color="#70a6cb"/><stop offset="0.250" stop-color="#8cbcd6"/><stop offset="0.300" stop-color="#a8d2e2"/><stop offset="0.350" stop-color="#c4e2ea"/><stop offset="0.400" stop-color="#d8ecee"/><stop offset="0.450" stop-color="#e6f1e4"/><stop offset="0.500" stop-color="#eef4c9"/><stop offset="0.550" stop-color="#ecefb8"/><stop offset="0.600" stop-color="#ece4a2"/><stop offset="0.650" stop-color="#eacf87"/><stop offset="0.700" stop-color="#e9ba73"/><stop offset="0.750" stop-color="#e9a564"/><stop offset="0.800" stop-color="#e78654"/><stop offset="0.850" stop-color="#e26546"/><stop offset="0.900" stop-color="#d9433a"/><stop offset="0.950" stop-color="#c43031"/><stop offset="1.000" stop-color="#a2222e"/></linearGradient>
<rect x="171.10" y="189.40" width="5.90" height="118.10" fill="url(#g_d)"/>
<line x1="177.00" y1="307.50" x2="180.00" y2="307.50" stroke="#262626" stroke-width="0.8"/>
<text x="182.50" y="309.90" font-size="6.32" text-anchor="start" fill="#262626" stroke="#262626" stroke-width="0.1" textLength="15.06" lengthAdjust="spacingAndGlyphs" >−2.0</text>
<line x1="177.00" y1="292.74" x2="180.00" y2="292.74" stroke="#262626" stroke-width="0.8"/>
<text x="182.50" y="295.14" font-size="6.32" text-anchor="start" fill="#262626" stroke="#262626" stroke-width="0.1" textLength="15.06" lengthAdjust="spacingAndGlyphs" >−1.5</text>
<line x1="177.00" y1="277.98" x2="180.00" y2="277.98" stroke="#262626" stroke-width="0.8"/>
<text x="182.50" y="280.38" font-size="6.32" text-anchor="start" fill="#262626" stroke="#262626" stroke-width="0.1" textLength="15.06" lengthAdjust="spacingAndGlyphs" >−1.0</text>
<line x1="177.00" y1="263.21" x2="180.00" y2="263.21" stroke="#262626" stroke-width="0.8"/>
<text x="182.50" y="265.61" font-size="6.32" text-anchor="start" fill="#262626" stroke="#262626" stroke-width="0.1" textLength="15.06" lengthAdjust="spacingAndGlyphs" >−0.5</text>
<line x1="177.00" y1="248.45" x2="180.00" y2="248.45" stroke="#262626" stroke-width="0.8"/>
<text x="182.50" y="250.85" font-size="6.32" text-anchor="start" fill="#262626" stroke="#262626" stroke-width="0.1" textLength="9.86" lengthAdjust="spacingAndGlyphs" >0.0</text>
<line x1="177.00" y1="233.69" x2="180.00" y2="233.69" stroke="#262626" stroke-width="0.8"/>
<text x="182.50" y="236.09" font-size="6.32" text-anchor="start" fill="#262626" stroke="#262626" stroke-width="0.1" textLength="9.86" lengthAdjust="spacingAndGlyphs" >0.5</text>
<line x1="177.00" y1="218.93" x2="180.00" y2="218.93" stroke="#262626" stroke-width="0.8"/>
<text x="182.50" y="221.33" font-size="6.32" text-anchor="start" fill="#262626" stroke="#262626" stroke-width="0.1" textLength="9.86" lengthAdjust="spacingAndGlyphs" >1.0</text>
<line x1="177.00" y1="204.16" x2="180.00" y2="204.16" stroke="#262626" stroke-width="0.8"/>
<text x="182.50" y="206.56" font-size="6.32" text-anchor="start" fill="#262626" stroke="#262626" stroke-width="0.1" textLength="9.86" lengthAdjust="spacingAndGlyphs" >1.5</text>
<line x1="177.00" y1="189.40" x2="180.00" y2="189.40" stroke="#262626" stroke-width="0.8"/>
<text x="182.50" y="191.80" font-size="6.32" text-anchor="start" fill="#262626" stroke="#262626" stroke-width="0.1" textLength="9.86" lengthAdjust="spacingAndGlyphs" >2.0</text>
<text x="207.50" y="248.45" font-size="8.16" text-anchor="middle" fill="#262626" stroke="#262626" stroke-width="0.1" textLength="73.20" lengthAdjust="spacingAndGlyphs" transform="rotate(-90 207.50 248.45)" >T2m anomaly (°C)</text>
<text x="329.65" y="186.30" font-size="6.58" text-anchor="middle" fill="#262626" stroke="#262626" stroke-width="0.1" textLength="70.55" lengthAdjust="spacingAndGlyphs" >Average SST anomaly</text>
<text x="262.80" y="317.90" font-size="6.32" text-anchor="middle" fill="#262626" stroke="#262626" stroke-width="0.1" textLength="7.89" lengthAdjust="spacingAndGlyphs" >30</text>
<text x="281.90" y="317.90" font-size="6.32" text-anchor="middle" fill="#262626" stroke="#262626" stroke-width="0.1" textLength="7.89" lengthAdjust="spacingAndGlyphs" >40</text>
<text x="301.00" y="317.90" font-size="6.32" text-anchor="middle" fill="#262626" stroke="#262626" stroke-width="0.1" textLength="7.89" lengthAdjust="spacingAndGlyphs" >50</text>
<text x="320.10" y="317.90" font-size="6.32" text-anchor="middle" fill="#262626" stroke="#262626" stroke-width="0.1" textLength="7.89" lengthAdjust="spacingAndGlyphs" >60</text>
<text x="339.20" y="317.90" font-size="6.32" text-anchor="middle" fill="#262626" stroke="#262626" stroke-width="0.1" textLength="7.89" lengthAdjust="spacingAndGlyphs" >70</text>
<text x="358.30" y="317.90" font-size="6.32" text-anchor="middle" fill="#262626" stroke="#262626" stroke-width="0.1" textLength="7.89" lengthAdjust="spacingAndGlyphs" >80</text>
<text x="377.40" y="317.90" font-size="6.32" text-anchor="middle" fill="#262626" stroke="#262626" stroke-width="0.1" textLength="7.89" lengthAdjust="spacingAndGlyphs" >90</text>
<text x="396.50" y="317.90" font-size="6.32" text-anchor="middle" fill="#262626" stroke="#262626" stroke-width="0.1" textLength="11.83" lengthAdjust="spacingAndGlyphs" >100</text>
<g><text x="290.15" y="327.30" font-size="6.32" fill="#262626" stroke="#262626" stroke-width="0.1" textLength="72.60" lengthAdjust="spacingAndGlyphs">Sensible Heat Flux (10</text><text x="364.15" y="324.77" font-size="3.92" fill="#262626" stroke="#262626" stroke-width="0.1">9</text><text x="367.85" y="327.30" font-size="6.32" fill="#262626" stroke="#262626" stroke-width="0.1">)</text></g>
<text x="257.10" y="307.20" font-size="6.32" text-anchor="middle" fill="#262626" stroke="#262626" stroke-width="0.1" textLength="3.94" lengthAdjust="spacingAndGlyphs" transform="rotate(-90 257.10 307.20)" >8</text>
<text x="257.10" y="290.18" font-size="6.32" text-anchor="middle" fill="#262626" stroke="#262626" stroke-width="0.1" textLength="7.89" lengthAdjust="spacingAndGlyphs" transform="rotate(-90 257.10 290.18)" >10</text>
<text x="257.10" y="270.52" font-size="6.32" text-anchor="middle" fill="#262626" stroke="#262626" stroke-width="0.1" textLength="7.89" lengthAdjust="spacingAndGlyphs" transform="rotate(-90 257.10 270.52)" >12</text>
<text x="257.10" y="250.85" font-size="6.32" text-anchor="middle" fill="#262626" stroke="#262626" stroke-width="0.1" textLength="7.89" lengthAdjust="spacingAndGlyphs" transform="rotate(-90 257.10 250.85)" >14</text>
<text x="257.10" y="231.18" font-size="6.32" text-anchor="middle" fill="#262626" stroke="#262626" stroke-width="0.1" textLength="7.89" lengthAdjust="spacingAndGlyphs" transform="rotate(-90 257.10 231.18)" >16</text>
<text x="257.10" y="211.52" font-size="6.32" text-anchor="middle" fill="#262626" stroke="#262626" stroke-width="0.1" textLength="7.89" lengthAdjust="spacingAndGlyphs" transform="rotate(-90 257.10 211.52)" >18</text>
<text x="257.10" y="191.85" font-size="6.32" text-anchor="middle" fill="#262626" stroke="#262626" stroke-width="0.1" textLength="7.89" lengthAdjust="spacingAndGlyphs" transform="rotate(-90 257.10 191.85)" >20</text>
<g transform="rotate(-90 248.00 248.40)"><text x="210.35" y="248.40" font-size="6.32" fill="#262626" stroke="#262626" stroke-width="0.1" textLength="68.90" lengthAdjust="spacingAndGlyphs">Latent Heat Flux (10</text><text x="280.65" y="245.87" font-size="3.92" fill="#262626" stroke="#262626" stroke-width="0.1">8</text><text x="284.35" y="248.40" font-size="6.32" fill="#262626" stroke="#262626" stroke-width="0.1">)</text></g>
<text x="265.10" y="201.20" font-size="8.40" text-anchor="start" fill="#1a1a1a" stroke="#1a1a1a" stroke-width="0.1" textLength="11.72" lengthAdjust="spacingAndGlyphs" >(e)</text>
<rect x="329.48" y="209.07" width="11.73" height="10.43" fill="#a9242e"/>
<rect x="340.61" y="209.07" width="11.13" height="10.43" fill="#e26546"/>
<rect x="362.87" y="209.07" width="11.13" height="9.83" fill="#a9242e"/>
<rect x="318.35" y="218.90" width="11.73" height="10.43" fill="#e9ba73"/>
<rect x="329.48" y="218.90" width="11.73" height="10.43" fill="#ecefb8"/>
<rect x="340.61" y="218.90" width="11.73" height="10.43" fill="#e8955c"/>
<rect x="351.74" y="218.90" width="11.13" height="9.83" fill="#dd5440"/>
<rect x="307.22" y="228.73" width="11.73" height="10.43" fill="#e6764c"/>
<rect x="318.35" y="228.73" width="11.73" height="10.43" fill="#ebd995"/>
<rect x="329.48" y="228.73" width="11.73" height="10.43" fill="#eceaad"/>
<rect x="340.61" y="228.73" width="11.13" height="10.43" fill="#dfeee9"/>
<rect x="296.09" y="238.56" width="11.73" height="10.43" fill="#edf2c0"/>
<rect x="307.22" y="238.56" width="11.73" height="10.43" fill="#ece09d"/>
<rect x="318.35" y="238.56" width="11.73" height="10.43" fill="#ecf0bb"/>
<rect x="329.48" y="238.56" width="11.73" height="10.43" fill="#e9af6b"/>
<rect x="340.61" y="238.56" width="11.73" height="10.43" fill="#e9ba73"/>
<rect x="351.74" y="238.56" width="11.13" height="10.43" fill="#edf2c0"/>
<rect x="284.96" y="248.40" width="11.73" height="10.43" fill="#e36c48"/>
<rect x="296.09" y="248.40" width="11.73" height="10.43" fill="#eceaad"/>
<rect x="307.22" y="248.40" width="11.73" height="10.43" fill="#eceaad"/>
<rect x="318.35" y="248.40" width="11.73" height="10.43" fill="#ecefb8"/>
<rect x="329.48" y="248.40" width="11.73" height="10.43" fill="#ebd995"/>
<rect x="340.61" y="248.40" width="11.73" height="10.43" fill="#e9c47a"/>
<rect x="351.74" y="248.40" width="11.73" height="10.43" fill="#eceaad"/>
<rect x="362.87" y="248.40" width="11.73" height="10.43" fill="#dd5440"/>
<rect x="374.00" y="248.40" width="11.13" height="9.83" fill="#dd5440"/>
<rect x="273.83" y="258.23" width="11.73" height="10.43" fill="#dfeee9"/>
<rect x="284.96" y="258.23" width="11.73" height="10.43" fill="#e6764c"/>
<rect x="296.09" y="258.23" width="11.73" height="10.43" fill="#eceaad"/>
<rect x="307.22" y="258.23" width="11.73" height="10.43" fill="#ecf0bb"/>
<rect x="318.35" y="258.23" width="11.73" height="10.43" fill="#ecedb4"/>
<rect x="329.48" y="258.23" width="11.73" height="10.43" fill="#ebd995"/>
<rect x="340.61" y="258.23" width="11.73" height="10.43" fill="#ecf0bb"/>
<rect x="351.74" y="258.23" width="11.73" height="10.43" fill="#df5b42"/>
<rect x="362.87" y="258.23" width="11.13" height="10.43" fill="#e9af6b"/>
<rect x="262.70" y="268.06" width="11.73" height="10.43" fill="#e6764c"/>
<rect x="273.83" y="268.06" width="11.73" height="10.43" fill="#e6764c"/>
<rect x="284.96" y="268.06" width="11.73" height="10.43" fill="#e9be76"/>
<rect x="296.09" y="268.06" width="11.73" height="10.43" fill="#ebd995"/>
<rect x="307.22" y="268.06" width="11.73" height="10.43" fill="#ece6a6"/>
<rect x="318.35" y="268.06" width="11.73" height="10.43" fill="#eef3c6"/>
<rect x="329.48" y="268.06" width="11.73" height="10.43" fill="#eef4c9"/>
<rect x="340.61" y="268.06" width="11.73" height="10.43" fill="#eef3c6"/>
<rect x="351.74" y="268.06" width="11.73" height="10.43" fill="#ecf3d1"/>
<rect x="362.87" y="268.06" width="11.73" height="10.43" fill="#e9a564"/>
<rect x="374.00" y="268.06" width="11.13" height="10.43" fill="#7eb1d1"/>
<rect x="262.70" y="277.90" width="11.73" height="10.43" fill="#d9433a"/>
<rect x="273.83" y="277.90" width="11.73" height="10.43" fill="#edf2c0"/>
<rect x="284.96" y="277.90" width="11.73" height="10.43" fill="#e9c47a"/>
<rect x="296.09" y="277.90" width="11.73" height="10.43" fill="#eceaad"/>
<rect x="307.22" y="277.90" width="11.73" height="10.43" fill="#ecf0bb"/>
<rect x="318.35" y="277.90" width="11.73" height="10.43" fill="#dfeee9"/>
<rect x="329.48" y="277.90" width="11.73" height="10.43" fill="#ecf0bb"/>
<rect x="340.61" y="277.90" width="11.73" height="10.43" fill="#ecf0bb"/>
<rect x="351.74" y="277.90" width="11.73" height="10.43" fill="#eef4c9"/>
<rect x="362.87" y="277.90" width="11.73" height="9.83" fill="#ece4a2"/>
<rect x="374.00" y="277.90" width="11.13" height="9.83" fill="#e9a564"/>
<rect x="262.70" y="287.73" width="11.73" height="10.43" fill="#ece4a2"/>
<rect x="273.83" y="287.73" width="11.73" height="10.43" fill="#ece4a2"/>
<rect x="284.96" y="287.73" width="11.73" height="10.43" fill="#ece09d"/>
<rect x="296.09" y="287.73" width="11.73" height="10.43" fill="#eacf87"/>
<rect x="307.22" y="287.73" width="11.73" height="10.43" fill="#ecf0bb"/>
<rect x="318.35" y="287.73" width="11.73" height="10.43" fill="#eaf2d6"/>
<rect x="329.48" y="287.73" width="11.73" height="10.43" fill="#eaf2d6"/>
<rect x="340.61" y="287.73" width="11.73" height="10.43" fill="#dfeee9"/>
<rect x="351.74" y="287.73" width="11.13" height="10.43" fill="#b6dae6"/>
<rect x="262.70" y="297.56" width="11.73" height="9.83" fill="#ebd995"/>
<rect x="273.83" y="297.56" width="11.73" height="9.83" fill="#e9c47a"/>
<rect x="284.96" y="297.56" width="11.73" height="9.83" fill="#ecf0bb"/>
<rect x="296.09" y="297.56" width="11.73" height="9.83" fill="#eef3c6"/>
<rect x="307.22" y="297.56" width="11.73" height="9.83" fill="#ece4a2"/>
<rect x="318.35" y="297.56" width="11.73" height="9.83" fill="#ecf3d1"/>
<rect x="329.48" y="297.56" width="11.73" height="9.83" fill="#ecf0bb"/>
<rect x="340.61" y="297.56" width="11.73" height="9.83" fill="#9ac7dc"/>
<rect x="351.74" y="297.56" width="11.13" height="9.83" fill="#c4e2ea"/>
<rect x="262.80" y="189.40" width="133.70" height="118.00" fill="none" stroke="#333333" stroke-width="1"/>
<linearGradient id="g_e" x1="0" y1="1" x2="0" y2="0"><stop offset="0.000" stop-color="#3a4a9c"/><stop offset="0.050" stop-color="#4565aa"/><stop offset="0.100" stop-color="#5080b8"/><stop offset="0.150" stop-color="#6093c2"/><stop offset="0.200" stop-color="#70a6cb"/><stop offset="0.250" stop-color="#8cbcd6"/><stop offset="0.300" stop-color="#a8d2e2"/><stop offset="0.350" stop-color="#c4e2ea"/><stop offset="0.400" stop-color="#d8ecee"/><stop offset="0.450" stop-color="#e6f1e4"/><stop offset="0.500" stop-color="#eef4c9"/><stop offset="0.550" stop-color="#ecefb8"/><stop offset="0.600" stop-color="#ece4a2"/><stop offset="0.650" stop-color="#eacf87"/><stop offset="0.700" stop-color="#e9ba73"/><stop offset="0.750" stop-color="#e9a564"/><stop offset="0.800" stop-color="#e78654"/><stop offset="0.850" stop-color="#e26546"/><stop offset="0.900" stop-color="#d9433a"/><stop offset="0.950" stop-color="#c43031"/><stop offset="1.000" stop-color="#a2222e"/></linearGradient>
<rect x="404.80" y="189.40" width="5.70" height="118.00" fill="url(#g_e)"/>
<line x1="410.50" y1="307.40" x2="413.50" y2="307.40" stroke="#262626" stroke-width="0.8"/>
<text x="416.00" y="309.80" font-size="6.32" text-anchor="start" fill="#262626" stroke="#262626" stroke-width="0.1" textLength="19.00" lengthAdjust="spacingAndGlyphs" >−1.00</text>
<line x1="410.50" y1="292.65" x2="413.50" y2="292.65" stroke="#262626" stroke-width="0.8"/>
<text x="416.00" y="295.05" font-size="6.32" text-anchor="start" fill="#262626" stroke="#262626" stroke-width="0.1" textLength="19.00" lengthAdjust="spacingAndGlyphs" >−0.75</text>
<line x1="410.50" y1="277.90" x2="413.50" y2="277.90" stroke="#262626" stroke-width="0.8"/>
<text x="416.00" y="280.30" font-size="6.32" text-anchor="start" fill="#262626" stroke="#262626" stroke-width="0.1" textLength="19.00" lengthAdjust="spacingAndGlyphs" >−0.50</text>
<line x1="410.50" y1="263.15" x2="413.50" y2="263.15" stroke="#262626" stroke-width="0.8"/>
<text x="416.00" y="265.55" font-size="6.32" text-anchor="start" fill="#262626" stroke="#262626" stroke-width="0.1" textLength="19.00" lengthAdjust="spacingAndGlyphs" >−0.25</text>
<line x1="410.50" y1="248.40" x2="413.50" y2="248.40" stroke="#262626" stroke-width="0.8"/>
<text x="416.00" y="250.80" font-size="6.32" text-anchor="start" fill="#262626" stroke="#262626" stroke-width="0.1" textLength="13.81" lengthAdjust="spacingAndGlyphs" >0.00</text>
<line x1="410.50" y1="233.65" x2="413.50" y2="233.65" stroke="#262626" stroke-width="0.8"/>
<text x="416.00" y="236.05" font-size="6.32" text-anchor="start" fill="#262626" stroke="#262626" stroke-width="0.1" textLength="13.81" lengthAdjust="spacingAndGlyphs" >0.25</text>
<line x1="410.50" y1="218.90" x2="413.50" y2="218.90" stroke="#262626" stroke-width="0.8"/>
<text x="416.00" y="221.30" font-size="6.32" text-anchor="start" fill="#262626" stroke="#262626" stroke-width="0.1" textLength="13.81" lengthAdjust="spacingAndGlyphs" >0.50</text>
<line x1="410.50" y1="204.15" x2="413.50" y2="204.15" stroke="#262626" stroke-width="0.8"/>
<text x="416.00" y="206.55" font-size="6.32" text-anchor="start" fill="#262626" stroke="#262626" stroke-width="0.1" textLength="13.81" lengthAdjust="spacingAndGlyphs" >0.75</text>
<line x1="410.50" y1="189.40" x2="413.50" y2="189.40" stroke="#262626" stroke-width="0.8"/>
<text x="416.00" y="191.80" font-size="6.32" text-anchor="start" fill="#262626" stroke="#262626" stroke-width="0.1" textLength="13.81" lengthAdjust="spacingAndGlyphs" >1.00</text>
<text x="443.00" y="248.40" font-size="8.16" text-anchor="middle" fill="#262626" stroke="#262626" stroke-width="0.1" textLength="70.48" lengthAdjust="spacingAndGlyphs" transform="rotate(-90 443.00 248.40)" >SST anomaly (°C)</text>
<text x="558.70" y="186.30" font-size="6.58" text-anchor="middle" fill="#262626" stroke="#262626" stroke-width="0.1" textLength="70.55" lengthAdjust="spacingAndGlyphs" >Average SST anomaly</text>
<text x="492.80" y="317.90" font-size="6.32" text-anchor="middle" fill="#262626" stroke="#262626" stroke-width="0.1" textLength="7.89" lengthAdjust="spacingAndGlyphs" >30</text>
<text x="511.63" y="317.90" font-size="6.32" text-anchor="middle" fill="#262626" stroke="#262626" stroke-width="0.1" textLength="7.89" lengthAdjust="spacingAndGlyphs" >40</text>
<text x="530.46" y="317.90" font-size="6.32" text-anchor="middle" fill="#262626" stroke="#262626" stroke-width="0.1" textLength="7.89" lengthAdjust="spacingAndGlyphs" >50</text>
<text x="549.29" y="317.90" font-size="6.32" text-anchor="middle" fill="#262626" stroke="#262626" stroke-width="0.1" textLength="7.89" lengthAdjust="spacingAndGlyphs" >60</text>
<text x="568.11" y="317.90" font-size="6.32" text-anchor="middle" fill="#262626" stroke="#262626" stroke-width="0.1" textLength="7.89" lengthAdjust="spacingAndGlyphs" >70</text>
<text x="586.94" y="317.90" font-size="6.32" text-anchor="middle" fill="#262626" stroke="#262626" stroke-width="0.1" textLength="7.89" lengthAdjust="spacingAndGlyphs" >80</text>
<text x="605.77" y="317.90" font-size="6.32" text-anchor="middle" fill="#262626" stroke="#262626" stroke-width="0.1" textLength="7.89" lengthAdjust="spacingAndGlyphs" >90</text>
<text x="624.60" y="317.90" font-size="6.32" text-anchor="middle" fill="#262626" stroke="#262626" stroke-width="0.1" textLength="11.83" lengthAdjust="spacingAndGlyphs" >100</text>
<g><text x="519.20" y="327.30" font-size="6.32" fill="#262626" stroke="#262626" stroke-width="0.1" textLength="72.60" lengthAdjust="spacingAndGlyphs">Sensible Heat Flux (10</text><text x="593.20" y="324.77" font-size="3.92" fill="#262626" stroke="#262626" stroke-width="0.1">9</text><text x="596.90" y="327.30" font-size="6.32" fill="#262626" stroke="#262626" stroke-width="0.1">)</text></g>
<text x="487.10" y="307.20" font-size="6.32" text-anchor="middle" fill="#262626" stroke="#262626" stroke-width="0.1" textLength="3.94" lengthAdjust="spacingAndGlyphs" transform="rotate(-90 487.10 307.20)" >6</text>
<text x="487.10" y="283.60" font-size="6.32" text-anchor="middle" fill="#262626" stroke="#262626" stroke-width="0.1" textLength="3.94" lengthAdjust="spacingAndGlyphs" transform="rotate(-90 487.10 283.60)" >8</text>
<text x="487.10" y="262.65" font-size="6.32" text-anchor="middle" fill="#262626" stroke="#262626" stroke-width="0.1" textLength="7.89" lengthAdjust="spacingAndGlyphs" transform="rotate(-90 487.10 262.65)" >10</text>
<text x="487.10" y="239.05" font-size="6.32" text-anchor="middle" fill="#262626" stroke="#262626" stroke-width="0.1" textLength="7.89" lengthAdjust="spacingAndGlyphs" transform="rotate(-90 487.10 239.05)" >12</text>
<text x="487.10" y="215.45" font-size="6.32" text-anchor="middle" fill="#262626" stroke="#262626" stroke-width="0.1" textLength="7.89" lengthAdjust="spacingAndGlyphs" transform="rotate(-90 487.10 215.45)" >14</text>
<text x="487.10" y="191.85" font-size="6.32" text-anchor="middle" fill="#262626" stroke="#262626" stroke-width="0.1" textLength="7.89" lengthAdjust="spacingAndGlyphs" transform="rotate(-90 487.10 191.85)" >16</text>
<g transform="rotate(-90 477.50 248.40)"><text x="439.85" y="248.40" font-size="6.32" fill="#262626" stroke="#262626" stroke-width="0.1" textLength="68.90" lengthAdjust="spacingAndGlyphs">Latent Heat Flux (10</text><text x="510.15" y="245.87" font-size="3.92" fill="#262626" stroke="#262626" stroke-width="0.1">8</text><text x="513.85" y="248.40" font-size="6.32" fill="#262626" stroke="#262626" stroke-width="0.1">)</text></g>
<text x="495.10" y="201.20" font-size="8.40" text-anchor="start" fill="#1a1a1a" stroke="#1a1a1a" stroke-width="0.1" textLength="9.51" lengthAdjust="spacingAndGlyphs" >(f)</text>
<rect x="581.00" y="199.23" width="11.60" height="10.43" fill="#d33a35"/>
<rect x="592.00" y="199.23" width="11.60" height="9.83" fill="#a9242e"/>
<rect x="603.00" y="199.23" width="11.00" height="10.43" fill="#eef3c6"/>
<rect x="559.00" y="209.07" width="11.60" height="10.43" fill="#e8955c"/>
<rect x="570.00" y="209.07" width="11.60" height="10.43" fill="#dd5440"/>
<rect x="581.00" y="209.07" width="11.00" height="10.43" fill="#a9242e"/>
<rect x="603.00" y="209.07" width="11.00" height="10.43" fill="#e9ba73"/>
<rect x="537.00" y="218.90" width="11.00" height="10.43" fill="#cee7ec"/>
<rect x="559.00" y="218.90" width="11.60" height="10.43" fill="#5080b8"/>
<rect x="570.00" y="218.90" width="11.60" height="10.43" fill="#e8955c"/>
<rect x="581.00" y="218.90" width="11.60" height="10.43" fill="#d33a35"/>
<rect x="592.00" y="218.90" width="11.60" height="10.43" fill="#e8955c"/>
<rect x="603.00" y="218.90" width="11.00" height="10.43" fill="#a9242e"/>
<rect x="537.00" y="228.73" width="11.60" height="10.43" fill="#e9ba73"/>
<rect x="548.00" y="228.73" width="11.60" height="10.43" fill="#ecf3ce"/>
<rect x="559.00" y="228.73" width="11.60" height="10.43" fill="#e9ba73"/>
<rect x="570.00" y="228.73" width="11.60" height="10.43" fill="#ecf0bb"/>
<rect x="581.00" y="228.73" width="11.60" height="10.43" fill="#ebd995"/>
<rect x="592.00" y="228.73" width="11.60" height="10.43" fill="#ecefb8"/>
<rect x="603.00" y="228.73" width="11.00" height="10.43" fill="#a9242e"/>
<rect x="526.00" y="238.56" width="11.60" height="10.43" fill="#d33a35"/>
<rect x="537.00" y="238.56" width="11.60" height="10.43" fill="#e9a564"/>
<rect x="548.00" y="238.56" width="11.60" height="10.43" fill="#e9c47a"/>
<rect x="559.00" y="238.56" width="11.60" height="10.43" fill="#e9be76"/>
<rect x="570.00" y="238.56" width="11.60" height="10.43" fill="#ebd995"/>
<rect x="581.00" y="238.56" width="11.60" height="10.43" fill="#e9a564"/>
<rect x="592.00" y="238.56" width="11.60" height="10.43" fill="#e26546"/>
<rect x="603.00" y="238.56" width="11.00" height="10.43" fill="#a9242e"/>
<rect x="504.00" y="248.40" width="11.00" height="10.43" fill="#cee7ec"/>
<rect x="526.00" y="248.40" width="11.60" height="10.43" fill="#ece4a2"/>
<rect x="537.00" y="248.40" width="11.60" height="10.43" fill="#edf2c0"/>
<rect x="548.00" y="248.40" width="11.60" height="10.43" fill="#e9ba73"/>
<rect x="559.00" y="248.40" width="11.60" height="10.43" fill="#e9b670"/>
<rect x="570.00" y="248.40" width="11.60" height="10.43" fill="#ebd995"/>
<rect x="581.00" y="248.40" width="11.60" height="10.43" fill="#e9c47a"/>
<rect x="592.00" y="248.40" width="11.60" height="10.43" fill="#e9b670"/>
<rect x="603.00" y="248.40" width="11.00" height="10.43" fill="#e6764c"/>
<rect x="504.00" y="258.23" width="11.60" height="9.83" fill="#eaf2d6"/>
<rect x="515.00" y="258.23" width="11.60" height="10.43" fill="#e6f1e4"/>
<rect x="526.00" y="258.23" width="11.60" height="10.43" fill="#c4e2ea"/>
<rect x="537.00" y="258.23" width="11.60" height="10.43" fill="#ece09d"/>
<rect x="548.00" y="258.23" width="11.60" height="10.43" fill="#ecefb8"/>
<rect x="559.00" y="258.23" width="11.60" height="10.43" fill="#ece6a6"/>
<rect x="570.00" y="258.23" width="11.60" height="10.43" fill="#e9be76"/>
<rect x="581.00" y="258.23" width="11.60" height="10.43" fill="#ecf3ce"/>
<rect x="592.00" y="258.23" width="11.60" height="10.43" fill="#ead38d"/>
<rect x="603.00" y="258.23" width="11.00" height="10.43" fill="#d33a35"/>
<rect x="515.00" y="268.06" width="11.60" height="10.43" fill="#e9a564"/>
<rect x="526.00" y="268.06" width="11.60" height="10.43" fill="#ece4a2"/>
<rect x="537.00" y="268.06" width="11.60" height="10.43" fill="#e9a967"/>
<rect x="548.00" y="268.06" width="11.60" height="10.43" fill="#e9a564"/>
<rect x="559.00" y="268.06" width="11.60" height="10.43" fill="#eacf87"/>
<rect x="570.00" y="268.06" width="11.60" height="10.43" fill="#edf2c0"/>
<rect x="581.00" y="268.06" width="11.60" height="10.43" fill="#e9c47a"/>
<rect x="592.00" y="268.06" width="11.60" height="10.43" fill="#edf2c0"/>
<rect x="603.00" y="268.06" width="11.00" height="9.83" fill="#b6dae6"/>
<rect x="504.00" y="277.90" width="11.60" height="9.83" fill="#ecefb8"/>
<rect x="515.00" y="277.90" width="11.60" height="10.43" fill="#dfeee9"/>
<rect x="526.00" y="277.90" width="11.60" height="10.43" fill="#edf2c0"/>
<rect x="537.00" y="277.90" width="11.60" height="10.43" fill="#ece09d"/>
<rect x="548.00" y="277.90" width="11.60" height="10.43" fill="#e9bc74"/>
<rect x="559.00" y="277.90" width="11.60" height="10.43" fill="#ecf3d1"/>
<rect x="570.00" y="277.90" width="11.60" height="9.83" fill="#ead38d"/>
<rect x="581.00" y="277.90" width="11.60" height="9.83" fill="#e9a564"/>
<rect x="592.00" y="277.90" width="11.00" height="10.43" fill="#e9be76"/>
<rect x="515.00" y="287.73" width="11.60" height="9.83" fill="#d33a35"/>
<rect x="526.00" y="287.73" width="11.60" height="9.83" fill="#d8ecee"/>
<rect x="537.00" y="287.73" width="11.60" height="9.83" fill="#a8d2e2"/>
<rect x="548.00" y="287.73" width="11.60" height="9.83" fill="#ece4a2"/>
<rect x="559.00" y="287.73" width="11.00" height="9.83" fill="#ece4a2"/>
<rect x="592.00" y="287.73" width="11.00" height="9.83" fill="#eaf2d6"/>
<rect x="570.00" y="297.56" width="11.00" height="9.83" fill="#ece4a2"/>
<rect x="492.80" y="189.40" width="131.80" height="118.00" fill="none" stroke="#333333" stroke-width="1"/>
<linearGradient id="g_f" x1="0" y1="1" x2="0" y2="0"><stop offset="0.000" stop-color="#3a4a9c"/><stop offset="0.050" stop-color="#4565aa"/><stop offset="0.100" stop-color="#5080b8"/><stop offset="0.150" stop-color="#6093c2"/><stop offset="0.200" stop-color="#70a6cb"/><stop offset="0.250" stop-color="#8cbcd6"/><stop offset="0.300" stop-color="#a8d2e2"/><stop offset="0.350" stop-color="#c4e2ea"/><stop offset="0.400" stop-color="#d8ecee"/><stop offset="0.450" stop-color="#e6f1e4"/><stop offset="0.500" stop-color="#eef4c9"/><stop offset="0.550" stop-color="#ecefb8"/><stop offset="0.600" stop-color="#ece4a2"/><stop offset="0.650" stop-color="#eacf87"/><stop offset="0.700" stop-color="#e9ba73"/><stop offset="0.750" stop-color="#e9a564"/><stop offset="0.800" stop-color="#e78654"/><stop offset="0.850" stop-color="#e26546"/><stop offset="0.900" stop-color="#d9433a"/><stop offset="0.950" stop-color="#c43031"/><stop offset="1.000" stop-color="#a2222e"/></linearGradient>
<rect x="633.00" y="189.40" width="5.70" height="118.00" fill="url(#g_f)"/>
<line x1="638.70" y1="307.40" x2="641.70" y2="307.40" stroke="#262626" stroke-width="0.8"/>
<text x="644.20" y="309.80" font-size="6.32" text-anchor="start" fill="#262626" stroke="#262626" stroke-width="0.1" textLength="19.00" lengthAdjust="spacingAndGlyphs" >−1.00</text>
<line x1="638.70" y1="292.65" x2="641.70" y2="292.65" stroke="#262626" stroke-width="0.8"/>
<text x="644.20" y="295.05" font-size="6.32" text-anchor="start" fill="#262626" stroke="#262626" stroke-width="0.1" textLength="19.00" lengthAdjust="spacingAndGlyphs" >−0.75</text>
<line x1="638.70" y1="277.90" x2="641.70" y2="277.90" stroke="#262626" stroke-width="0.8"/>
<text x="644.20" y="280.30" font-size="6.32" text-anchor="start" fill="#262626" stroke="#262626" stroke-width="0.1" textLength="19.00" lengthAdjust="spacingAndGlyphs" >−0.50</text>
<line x1="638.70" y1="263.15" x2="641.70" y2="263.15" stroke="#262626" stroke-width="0.8"/>
<text x="644.20" y="265.55" font-size="6.32" text-anchor="start" fill="#262626" stroke="#262626" stroke-width="0.1" textLength="19.00" lengthAdjust="spacingAndGlyphs" >−0.25</text>
<line x1="638.70" y1="248.40" x2="641.70" y2="248.40" stroke="#262626" stroke-width="0.8"/>
<text x="644.20" y="250.80" font-size="6.32" text-anchor="start" fill="#262626" stroke="#262626" stroke-width="0.1" textLength="13.81" lengthAdjust="spacingAndGlyphs" >0.00</text>
<line x1="638.70" y1="233.65" x2="641.70" y2="233.65" stroke="#262626" stroke-width="0.8"/>
<text x="644.20" y="236.05" font-size="6.32" text-anchor="start" fill="#262626" stroke="#262626" stroke-width="0.1" textLength="13.81" lengthAdjust="spacingAndGlyphs" >0.25</text>
<line x1="638.70" y1="218.90" x2="641.70" y2="218.90" stroke="#262626" stroke-width="0.8"/>
<text x="644.20" y="221.30" font-size="6.32" text-anchor="start" fill="#262626" stroke="#262626" stroke-width="0.1" textLength="13.81" lengthAdjust="spacingAndGlyphs" >0.50</text>
<line x1="638.70" y1="204.15" x2="641.70" y2="204.15" stroke="#262626" stroke-width="0.8"/>
<text x="644.20" y="206.55" font-size="6.32" text-anchor="start" fill="#262626" stroke="#262626" stroke-width="0.1" textLength="13.81" lengthAdjust="spacingAndGlyphs" >0.75</text>
<line x1="638.70" y1="189.40" x2="641.70" y2="189.40" stroke="#262626" stroke-width="0.8"/>
<text x="644.20" y="191.80" font-size="6.32" text-anchor="start" fill="#262626" stroke="#262626" stroke-width="0.1" textLength="13.81" lengthAdjust="spacingAndGlyphs" >1.00</text>
<text x="671.00" y="248.40" font-size="8.16" text-anchor="middle" fill="#262626" stroke="#262626" stroke-width="0.1" textLength="70.48" lengthAdjust="spacingAndGlyphs" transform="rotate(-90 671.00 248.40)" >SST anomaly (°C)</text>
<text x="26.20" y="475.30" font-size="6.32" text-anchor="middle" fill="#262626" stroke="#262626" stroke-width="0.1" textLength="3.94" lengthAdjust="spacingAndGlyphs" >0</text>
<text x="48.97" y="475.30" font-size="6.32" text-anchor="middle" fill="#262626" stroke="#262626" stroke-width="0.1" textLength="7.89" lengthAdjust="spacingAndGlyphs" >10</text>
<text x="71.73" y="475.30" font-size="6.32" text-anchor="middle" fill="#262626" stroke="#262626" stroke-width="0.1" textLength="7.89" lengthAdjust="spacingAndGlyphs" >20</text>
<text x="94.50" y="475.30" font-size="6.32" text-anchor="middle" fill="#262626" stroke="#262626" stroke-width="0.1" textLength="7.89" lengthAdjust="spacingAndGlyphs" >30</text>
<text x="117.27" y="475.30" font-size="6.32" text-anchor="middle" fill="#262626" stroke="#262626" stroke-width="0.1" textLength="7.89" lengthAdjust="spacingAndGlyphs" >40</text>
<text x="140.03" y="475.30" font-size="6.32" text-anchor="middle" fill="#262626" stroke="#262626" stroke-width="0.1" textLength="7.89" lengthAdjust="spacingAndGlyphs" >50</text>
<text x="162.80" y="475.30" font-size="6.32" text-anchor="middle" fill="#262626" stroke="#262626" stroke-width="0.1" textLength="7.89" lengthAdjust="spacingAndGlyphs" >60</text>
<g><text x="55.00" y="484.90" font-size="6.32" fill="#262626" stroke="#262626" stroke-width="0.1" textLength="72.60" lengthAdjust="spacingAndGlyphs">Sensible Heat Flux (10</text><text x="129.00" y="482.37" font-size="3.92" fill="#262626" stroke="#262626" stroke-width="0.1">9</text><text x="132.70" y="484.90" font-size="6.32" fill="#262626" stroke="#262626" stroke-width="0.1">)</text></g>
<text x="21.10" y="466.60" font-size="6.32" text-anchor="end" fill="#262626" stroke="#262626" stroke-width="0.1" textLength="3.94" lengthAdjust="spacingAndGlyphs" >5</text>
<text x="21.10" y="443.06" font-size="6.32" text-anchor="end" fill="#262626" stroke="#262626" stroke-width="0.1" textLength="7.89" lengthAdjust="spacingAndGlyphs" >10</text>
<text x="21.10" y="419.52" font-size="6.32" text-anchor="end" fill="#262626" stroke="#262626" stroke-width="0.1" textLength="7.89" lengthAdjust="spacingAndGlyphs" >15</text>
<text x="21.10" y="395.98" font-size="6.32" text-anchor="end" fill="#262626" stroke="#262626" stroke-width="0.1" textLength="7.89" lengthAdjust="spacingAndGlyphs" >20</text>
<text x="21.10" y="372.44" font-size="6.32" text-anchor="end" fill="#262626" stroke="#262626" stroke-width="0.1" textLength="7.89" lengthAdjust="spacingAndGlyphs" >25</text>
<text x="21.10" y="348.90" font-size="6.32" text-anchor="end" fill="#262626" stroke="#262626" stroke-width="0.1" textLength="7.89" lengthAdjust="spacingAndGlyphs" >30</text>
<g transform="rotate(-90 9.80 405.35)"><text x="-27.85" y="405.35" font-size="6.32" fill="#262626" stroke="#262626" stroke-width="0.1" textLength="68.90" lengthAdjust="spacingAndGlyphs">Latent Heat Flux (10</text><text x="42.45" y="402.82" font-size="3.92" fill="#262626" stroke="#262626" stroke-width="0.1">8</text><text x="46.15" y="405.35" font-size="6.32" fill="#262626" stroke="#262626" stroke-width="0.1">)</text></g>
<text x="28.50" y="358.30" font-size="8.40" text-anchor="start" fill="#1a1a1a" stroke="#1a1a1a" stroke-width="0.1" textLength="11.89" lengthAdjust="spacingAndGlyphs" >(g)</text>
<path d="M100.00,352.80 C97.80,353.00 94.30,354.83 91.70,355.50 C89.10,356.17 86.45,356.07 84.40,356.80 C82.35,357.53 80.85,358.88 79.40,359.90 C77.95,360.92 77.13,361.68 75.70,362.90 C74.27,364.12 72.23,365.75 70.80,367.20 C69.37,368.65 68.13,370.15 67.10,371.60 C66.07,373.05 65.83,374.47 64.60,375.90 C63.37,377.33 61.33,378.57 59.70,380.20 C58.07,381.83 56.23,383.75 54.80,385.70 C53.37,387.65 52.03,390.05 51.10,391.90 C50.17,393.75 49.52,394.95 49.20,396.80 C48.88,398.65 48.98,401.23 49.20,403.00 C49.42,404.77 49.98,405.63 50.50,407.40 C51.02,409.17 51.18,411.65 52.30,413.60 C53.42,415.55 55.35,417.77 57.20,419.10 C59.05,420.43 61.33,420.27 63.40,421.60 C65.47,422.93 67.55,425.15 69.60,427.10 C71.65,429.05 73.65,431.65 75.70,433.30 C77.75,434.95 79.63,435.98 81.90,437.00 C84.17,438.02 87.05,438.38 89.30,439.40 C91.55,440.42 93.00,442.17 95.40,443.10 C97.80,444.03 100.88,444.78 103.70,445.00 C106.52,445.22 109.43,444.82 112.30,444.40 C115.17,443.98 118.02,443.33 120.90,442.50 C123.78,441.67 126.92,440.32 129.60,439.40 C132.28,438.48 134.85,437.82 137.00,437.00 C139.15,436.18 141.58,435.63 142.50,434.50 C143.42,433.37 143.22,431.43 142.50,430.20 C141.78,428.97 139.53,428.23 138.20,427.10 C136.87,425.97 134.92,424.83 134.50,423.40 C134.08,421.97 134.88,420.35 135.70,418.50 C136.52,416.65 139.18,414.35 139.40,412.30 C139.62,410.25 137.62,408.08 137.00,406.20 C136.38,404.32 135.70,402.57 135.70,401.00 C135.70,399.43 136.38,398.32 137.00,396.80 C137.62,395.28 138.78,393.75 139.40,391.90 C140.02,390.05 140.60,387.75 140.70,385.70 C140.80,383.65 140.62,381.45 140.00,379.60 C139.38,377.75 138.12,376.15 137.00,374.60 C135.88,373.05 134.53,371.83 133.30,370.30 C132.07,368.77 130.83,366.73 129.60,365.40 C128.37,364.07 127.75,363.12 125.90,362.30 C124.05,361.48 120.97,361.32 118.50,360.50 C116.03,359.68 113.37,358.43 111.10,357.40 C108.83,356.37 106.75,355.07 104.90,354.30 C103.05,353.53 102.20,352.60 100.00,352.80Z" fill="#f6ece4"/>
<path d="M100.00,360.50 C96.95,360.63 94.30,361.48 91.70,362.30 C89.10,363.12 86.85,363.97 84.40,365.40 C81.95,366.83 79.07,368.95 77.00,370.90 C74.93,372.85 73.65,375.03 72.00,377.10 C70.35,379.17 68.63,381.03 67.10,383.30 C65.57,385.57 63.72,388.25 62.80,390.70 C61.88,393.15 61.90,395.75 61.60,398.00 C61.30,400.25 60.85,401.87 61.00,404.20 C61.15,406.53 61.48,409.87 62.50,412.00 C63.52,414.13 65.63,415.32 67.10,417.00 C68.57,418.68 68.72,420.40 71.30,422.10 C73.88,423.80 78.83,425.50 82.60,427.20 C86.37,428.90 90.52,430.62 93.90,432.30 C97.28,433.98 100.08,436.55 102.90,437.30 C105.72,438.05 108.17,438.20 110.80,436.80 C113.43,435.40 117.00,432.10 118.70,428.90 C120.40,425.70 120.20,421.08 121.00,417.60 C121.80,414.12 122.67,411.05 123.50,408.00 C124.33,404.95 125.50,401.88 126.00,399.30 C126.50,396.72 125.70,394.35 126.50,392.50 C127.30,390.65 129.67,389.73 130.80,388.20 C131.93,386.67 133.20,385.25 133.30,383.30 C133.40,381.35 132.53,378.97 131.40,376.50 C130.27,374.03 128.25,370.67 126.50,368.50 C124.75,366.33 123.65,364.67 120.90,363.50 C118.15,362.33 113.48,362.00 110.00,361.50 C106.52,361.00 103.05,360.37 100.00,360.50Z" fill="#f1dcd2"/>
<path d="M100.00,367.20 C96.17,367.20 92.32,367.67 89.30,368.50 C86.28,369.33 83.95,370.77 81.90,372.20 C79.85,373.63 78.43,375.25 77.00,377.10 C75.57,378.95 74.43,381.03 73.30,383.30 C72.17,385.57 71.00,388.25 70.20,390.70 C69.40,393.15 68.70,395.55 68.50,398.00 C68.30,400.45 68.58,403.07 69.00,405.40 C69.42,407.73 70.05,409.68 71.00,412.00 C71.95,414.32 71.83,417.23 74.70,419.30 C77.57,421.37 84.43,423.08 88.20,424.40 C91.97,425.72 94.85,426.17 97.30,427.20 C99.75,428.23 101.22,430.88 102.90,430.60 C104.58,430.32 106.08,427.30 107.40,425.50 C108.72,423.70 109.37,422.05 110.80,419.80 C112.23,417.55 114.55,414.63 116.00,412.00 C117.45,409.37 118.78,406.53 119.50,404.00 C120.22,401.47 119.95,399.02 120.30,396.80 C120.65,394.58 120.88,392.33 121.60,390.70 C122.32,389.07 123.78,388.23 124.60,387.00 C125.42,385.77 126.50,384.75 126.50,383.30 C126.50,381.85 125.53,380.05 124.60,378.30 C123.67,376.55 122.95,374.43 120.90,372.80 C118.85,371.17 115.78,369.43 112.30,368.50 C108.82,367.57 103.83,367.20 100.00,367.20Z" fill="#ecc1ae"/>
<path d="M118.82,393.60 C118.68,394.29 118.55,394.97 118.41,395.64 C118.27,396.31 118.13,396.97 117.97,397.63 C117.82,398.29 117.64,398.94 117.47,399.59 C117.30,400.25 117.13,400.90 116.96,401.56 C116.79,402.22 116.70,402.92 116.45,403.55 C116.20,404.19 115.80,404.76 115.46,405.35 C115.11,405.94 114.73,406.51 114.37,407.09 C114.00,407.67 113.64,408.25 113.27,408.84 C112.90,409.44 112.52,410.03 112.14,410.64 C111.76,411.25 111.43,411.95 110.97,412.51 C110.51,413.07 109.93,413.52 109.38,413.99 C108.82,414.46 108.23,414.89 107.65,415.34 C107.07,415.80 106.49,416.26 105.89,416.73 C105.28,417.20 104.70,417.76 104.04,418.17 C103.39,418.59 102.70,419.00 101.97,419.22 C101.24,419.45 100.43,419.41 99.67,419.51 C98.91,419.60 98.15,419.69 97.39,419.79 C96.63,419.88 95.87,420.03 95.10,420.07 C94.33,420.10 93.55,420.08 92.79,419.99 C92.03,419.90 91.28,419.68 90.53,419.53 C89.77,419.38 89.03,419.23 88.27,419.07 C87.52,418.92 86.77,418.77 86.00,418.61 C85.23,418.46 84.40,418.40 83.66,418.14 C82.92,417.88 82.22,417.48 81.56,417.06 C80.90,416.63 80.31,416.08 79.70,415.60 C79.08,415.11 78.47,414.64 77.85,414.15 C77.24,413.67 76.58,413.23 76.00,412.70 C75.43,412.17 74.86,411.60 74.42,410.96 C73.97,410.31 73.69,409.53 73.34,408.84 C72.99,408.14 72.60,407.47 72.29,406.77 C71.98,406.06 71.66,405.36 71.49,404.61 C71.32,403.86 71.33,403.04 71.26,402.28 C71.18,401.52 71.07,400.79 71.04,400.05 C71.01,399.31 71.06,398.56 71.10,397.83 C71.15,397.10 71.24,396.39 71.31,395.68 C71.38,394.98 71.39,394.28 71.51,393.60 C71.63,392.92 71.85,392.24 72.03,391.58 C72.22,390.92 72.44,390.28 72.64,389.64 C72.84,389.00 72.99,388.35 73.23,387.74 C73.47,387.13 73.79,386.53 74.10,385.96 C74.41,385.38 74.77,384.83 75.10,384.27 C75.43,383.72 75.76,383.17 76.09,382.62 C76.42,382.07 76.72,381.51 77.07,380.98 C77.43,380.44 77.83,379.95 78.22,379.44 C78.61,378.92 78.99,378.41 79.39,377.89 C79.78,377.37 80.13,376.78 80.59,376.30 C81.04,375.83 81.59,375.45 82.10,375.04 C82.62,374.63 83.16,374.24 83.69,373.84 C84.23,373.43 84.72,372.91 85.31,372.61 C85.91,372.32 86.61,372.23 87.27,372.08 C87.92,371.94 88.59,371.86 89.25,371.76 C89.90,371.65 90.54,371.49 91.19,371.43 C91.84,371.38 92.51,371.40 93.16,371.41 C93.81,371.43 94.46,371.47 95.10,371.50 C95.74,371.53 96.38,371.56 97.03,371.60 C97.67,371.63 98.31,371.66 98.96,371.69 C99.62,371.71 100.28,371.73 100.96,371.73 C101.64,371.74 102.34,371.73 103.06,371.74 C103.78,371.74 104.52,371.74 105.30,371.74 C106.07,371.74 106.91,371.68 107.72,371.74 C108.54,371.79 109.34,371.93 110.18,372.06 C111.02,372.20 111.90,372.34 112.75,372.56 C113.60,372.79 114.52,373.02 115.27,373.43 C116.02,373.84 116.72,374.38 117.24,375.02 C117.77,375.66 118.08,376.50 118.42,377.27 C118.76,378.04 119.08,378.82 119.29,379.63 C119.50,380.44 119.59,381.31 119.70,382.13 C119.80,382.95 119.84,383.78 119.91,384.57 C119.98,385.36 120.15,386.11 120.12,386.90 C120.08,387.68 119.83,388.50 119.69,389.26 C119.54,390.03 119.39,390.77 119.24,391.49 C119.10,392.21 118.96,392.91 118.82,393.60Z" fill="#e8a18b"/>
<path d="M115.43,393.60 C115.31,394.19 115.19,394.77 115.07,395.35 C114.94,395.92 114.81,396.49 114.67,397.05 C114.53,397.61 114.37,398.17 114.22,398.72 C114.06,399.28 113.91,399.83 113.75,400.39 C113.60,400.95 113.50,401.54 113.28,402.08 C113.06,402.61 112.73,403.11 112.43,403.61 C112.13,404.11 111.81,404.59 111.49,405.08 C111.18,405.57 110.87,406.07 110.55,406.57 C110.23,407.06 109.91,407.56 109.57,408.07 C109.24,408.59 108.95,409.17 108.56,409.64 C108.17,410.11 107.68,410.50 107.21,410.90 C106.74,411.30 106.24,411.66 105.75,412.05 C105.26,412.43 104.76,412.83 104.25,413.23 C103.74,413.62 103.24,414.09 102.68,414.44 C102.13,414.79 101.54,415.14 100.93,415.34 C100.31,415.54 99.63,415.54 98.98,415.63 C98.34,415.73 97.70,415.82 97.05,415.91 C96.40,416.00 95.75,416.14 95.10,416.19 C94.45,416.23 93.78,416.22 93.13,416.16 C92.47,416.10 91.83,415.94 91.18,415.83 C90.53,415.72 89.89,415.60 89.24,415.48 C88.59,415.36 87.94,415.24 87.27,415.11 C86.61,414.98 85.90,414.93 85.26,414.71 C84.62,414.49 84.01,414.15 83.44,413.80 C82.87,413.44 82.35,412.98 81.82,412.57 C81.28,412.16 80.75,411.76 80.22,411.34 C79.69,410.92 79.13,410.53 78.64,410.06 C78.15,409.60 77.67,409.10 77.28,408.55 C76.90,407.99 76.65,407.33 76.35,406.73 C76.05,406.13 75.73,405.54 75.47,404.93 C75.21,404.32 74.94,403.71 74.80,403.07 C74.65,402.42 74.66,401.72 74.60,401.06 C74.54,400.41 74.45,399.78 74.43,399.14 C74.41,398.50 74.44,397.86 74.48,397.24 C74.53,396.61 74.61,395.99 74.68,395.39 C74.74,394.78 74.76,394.19 74.87,393.60 C74.98,393.01 75.16,392.44 75.33,391.87 C75.49,391.30 75.68,390.75 75.86,390.21 C76.03,389.66 76.16,389.11 76.38,388.58 C76.59,388.06 76.86,387.55 77.12,387.06 C77.39,386.56 77.69,386.09 77.98,385.62 C78.26,385.14 78.55,384.67 78.83,384.21 C79.11,383.74 79.38,383.26 79.68,382.80 C79.99,382.35 80.33,381.92 80.66,381.49 C81.00,381.05 81.33,380.62 81.67,380.17 C82.01,379.73 82.32,379.24 82.71,378.83 C83.09,378.43 83.56,378.09 84.00,377.74 C84.44,377.39 84.89,377.06 85.35,376.71 C85.81,376.37 86.23,375.92 86.74,375.66 C87.24,375.40 87.84,375.31 88.39,375.17 C88.95,375.03 89.52,374.95 90.07,374.84 C90.63,374.73 91.18,374.58 91.73,374.52 C92.29,374.45 92.86,374.45 93.42,374.44 C93.98,374.43 94.54,374.45 95.10,374.46 C95.66,374.47 96.21,374.48 96.77,374.49 C97.33,374.51 97.89,374.52 98.46,374.54 C99.03,374.55 99.61,374.56 100.20,374.56 C100.79,374.57 101.40,374.57 102.03,374.57 C102.65,374.58 103.29,374.58 103.96,374.60 C104.63,374.61 105.34,374.59 106.04,374.66 C106.73,374.72 107.42,374.85 108.13,374.99 C108.84,375.13 109.59,375.27 110.30,375.48 C111.02,375.70 111.78,375.92 112.41,376.29 C113.04,376.66 113.62,377.13 114.07,377.69 C114.51,378.24 114.79,378.95 115.08,379.61 C115.37,380.27 115.64,380.94 115.82,381.64 C116.00,382.33 116.09,383.07 116.18,383.77 C116.27,384.48 116.31,385.18 116.37,385.86 C116.42,386.54 116.56,387.19 116.53,387.86 C116.49,388.53 116.30,389.23 116.18,389.88 C116.06,390.54 115.92,391.17 115.80,391.79 C115.67,392.41 115.55,393.01 115.43,393.60Z" fill="#e17c66"/>
<path d="M112.37,393.60 C112.26,394.10 112.15,394.59 112.04,395.08 C111.92,395.57 111.81,396.05 111.68,396.52 C111.55,397.00 111.42,397.47 111.28,397.93 C111.14,398.40 110.99,398.86 110.85,399.33 C110.71,399.80 110.61,400.30 110.42,400.74 C110.23,401.19 109.95,401.60 109.69,402.02 C109.44,402.44 109.16,402.85 108.90,403.26 C108.63,403.67 108.37,404.09 108.09,404.50 C107.82,404.92 107.54,405.33 107.25,405.75 C106.97,406.18 106.72,406.65 106.38,407.05 C106.05,407.44 105.65,407.76 105.25,408.10 C104.86,408.44 104.44,408.74 104.03,409.07 C103.62,409.39 103.20,409.72 102.77,410.06 C102.34,410.39 101.92,410.76 101.45,411.06 C100.99,411.35 100.50,411.65 99.98,411.83 C99.47,412.00 98.91,412.03 98.37,412.13 C97.83,412.22 97.29,412.31 96.75,412.40 C96.20,412.49 95.65,412.63 95.10,412.67 C94.55,412.72 93.98,412.73 93.43,412.70 C92.87,412.67 92.32,412.56 91.77,412.48 C91.22,412.40 90.67,412.32 90.11,412.23 C89.55,412.14 88.99,412.04 88.43,411.94 C87.86,411.83 87.25,411.79 86.70,411.61 C86.16,411.43 85.64,411.15 85.14,410.85 C84.65,410.55 84.20,410.18 83.73,409.83 C83.27,409.49 82.81,409.15 82.35,408.79 C81.90,408.43 81.43,408.08 81.02,407.68 C80.61,407.28 80.20,406.85 79.88,406.37 C79.55,405.90 79.33,405.34 79.07,404.82 C78.82,404.31 78.56,403.80 78.35,403.27 C78.13,402.75 77.91,402.22 77.79,401.67 C77.67,401.12 77.67,400.52 77.62,399.96 C77.57,399.40 77.50,398.86 77.49,398.32 C77.48,397.77 77.51,397.23 77.55,396.70 C77.59,396.16 77.66,395.64 77.73,395.12 C77.79,394.60 77.81,394.10 77.91,393.60 C78.01,393.10 78.16,392.61 78.31,392.13 C78.45,391.65 78.61,391.18 78.76,390.72 C78.92,390.26 79.04,389.79 79.22,389.35 C79.40,388.90 79.64,388.47 79.86,388.05 C80.09,387.63 80.34,387.23 80.58,386.83 C80.82,386.43 81.07,386.03 81.31,385.64 C81.55,385.24 81.78,384.84 82.04,384.46 C82.30,384.07 82.59,383.71 82.87,383.34 C83.16,382.97 83.45,382.61 83.74,382.24 C84.03,381.87 84.30,381.46 84.63,381.12 C84.95,380.77 85.34,380.49 85.71,380.19 C86.08,379.89 86.47,379.61 86.85,379.31 C87.24,379.02 87.60,378.65 88.02,378.42 C88.45,378.20 88.94,378.09 89.41,377.96 C89.87,377.83 90.35,377.74 90.82,377.63 C91.29,377.52 91.75,377.38 92.23,377.30 C92.70,377.23 93.18,377.21 93.66,377.18 C94.14,377.15 94.62,377.14 95.10,377.13 C95.58,377.12 96.06,377.12 96.54,377.11 C97.03,377.11 97.51,377.11 98.01,377.11 C98.50,377.11 99.00,377.12 99.52,377.12 C100.03,377.13 100.55,377.13 101.09,377.14 C101.63,377.15 102.18,377.16 102.75,377.19 C103.32,377.21 103.92,377.22 104.51,377.30 C105.10,377.38 105.68,377.50 106.27,377.64 C106.87,377.78 107.50,377.92 108.09,378.12 C108.68,378.33 109.30,378.55 109.82,378.88 C110.34,379.21 110.82,379.62 111.19,380.10 C111.56,380.57 111.81,381.17 112.06,381.73 C112.31,382.28 112.52,382.86 112.68,383.45 C112.83,384.04 112.91,384.66 112.99,385.26 C113.07,385.85 113.11,386.45 113.16,387.03 C113.20,387.61 113.30,388.16 113.28,388.73 C113.25,389.30 113.10,389.89 113.00,390.44 C112.90,391.00 112.79,391.54 112.68,392.06 C112.58,392.59 112.48,393.10 112.37,393.60Z" fill="#df503d"/>
<path d="M109.31,393.60 C109.21,394.01 109.12,394.42 109.01,394.82 C108.91,395.22 108.81,395.61 108.69,396.00 C108.58,396.39 108.46,396.77 108.34,397.15 C108.21,397.53 108.08,397.90 107.95,398.28 C107.82,398.65 107.72,399.05 107.56,399.41 C107.39,399.77 107.16,400.10 106.95,400.44 C106.74,400.78 106.52,401.11 106.30,401.44 C106.08,401.77 105.86,402.11 105.64,402.44 C105.41,402.77 105.17,403.10 104.93,403.43 C104.69,403.76 104.48,404.14 104.20,404.45 C103.93,404.76 103.61,405.03 103.29,405.30 C102.98,405.58 102.64,405.82 102.31,406.08 C101.97,406.35 101.64,406.62 101.29,406.88 C100.95,407.15 100.60,407.44 100.22,407.68 C99.85,407.92 99.45,408.15 99.04,408.31 C98.63,408.47 98.18,408.52 97.75,408.62 C97.31,408.72 96.88,408.80 96.44,408.90 C96.00,408.99 95.55,409.11 95.10,409.16 C94.65,409.22 94.19,409.24 93.73,409.24 C93.28,409.23 92.82,409.18 92.36,409.13 C91.90,409.09 91.44,409.04 90.98,408.98 C90.52,408.92 90.05,408.84 89.58,408.76 C89.11,408.69 88.61,408.65 88.15,408.51 C87.69,408.36 87.26,408.14 86.84,407.90 C86.43,407.67 86.04,407.37 85.65,407.10 C85.26,406.82 84.87,406.54 84.49,406.24 C84.12,405.94 83.74,405.63 83.41,405.29 C83.07,404.95 82.74,404.59 82.47,404.19 C82.21,403.80 82.00,403.35 81.80,402.92 C81.59,402.49 81.39,402.05 81.22,401.61 C81.05,401.17 80.89,400.73 80.79,400.27 C80.69,399.82 80.68,399.32 80.64,398.86 C80.60,398.40 80.56,397.95 80.56,397.50 C80.55,397.05 80.57,396.60 80.61,396.16 C80.65,395.71 80.72,395.28 80.77,394.85 C80.83,394.43 80.86,394.01 80.95,393.60 C81.03,393.19 81.16,392.79 81.29,392.39 C81.41,392.00 81.54,391.61 81.67,391.23 C81.80,390.85 81.91,390.47 82.07,390.11 C82.22,389.74 82.41,389.39 82.60,389.05 C82.79,388.71 82.99,388.37 83.19,388.04 C83.38,387.71 83.59,387.39 83.79,387.07 C83.99,386.75 84.19,386.42 84.40,386.11 C84.62,385.80 84.85,385.50 85.08,385.20 C85.32,384.90 85.56,384.61 85.81,384.31 C86.05,384.01 86.27,383.68 86.54,383.40 C86.81,383.12 87.12,382.88 87.42,382.63 C87.72,382.39 88.04,382.16 88.35,381.92 C88.67,381.67 88.96,381.37 89.31,381.18 C89.65,380.99 90.05,380.88 90.42,380.75 C90.80,380.63 91.18,380.53 91.57,380.42 C91.95,380.31 92.33,380.17 92.72,380.09 C93.11,380.01 93.51,379.97 93.90,379.92 C94.30,379.87 94.70,379.84 95.10,379.80 C95.50,379.77 95.90,379.75 96.31,379.74 C96.72,379.72 97.13,379.70 97.55,379.69 C97.97,379.68 98.40,379.68 98.83,379.68 C99.26,379.68 99.70,379.69 100.16,379.71 C100.61,379.72 101.08,379.73 101.55,379.77 C102.02,379.81 102.51,379.86 102.99,379.94 C103.46,380.03 103.94,380.15 104.42,380.29 C104.90,380.43 105.40,380.57 105.87,380.76 C106.34,380.96 106.82,381.18 107.23,381.47 C107.64,381.76 108.01,382.12 108.32,382.51 C108.62,382.91 108.83,383.38 109.04,383.84 C109.24,384.30 109.41,384.78 109.54,385.27 C109.66,385.75 109.74,386.25 109.81,386.74 C109.88,387.23 109.91,387.72 109.95,388.20 C109.99,388.67 110.05,389.13 110.03,389.60 C110.01,390.07 109.90,390.55 109.83,391.00 C109.75,391.46 109.66,391.90 109.57,392.33 C109.48,392.77 109.40,393.19 109.31,393.60Z" fill="#cc3030"/>
<path d="M106.08,393.60 C106.00,393.92 105.92,394.23 105.83,394.54 C105.74,394.85 105.64,395.15 105.55,395.44 C105.45,395.74 105.35,396.03 105.24,396.32 C105.13,396.60 105.01,396.88 104.89,397.16 C104.78,397.44 104.68,397.74 104.55,398.00 C104.41,398.27 104.23,398.53 104.07,398.78 C103.90,399.03 103.73,399.27 103.56,399.52 C103.39,399.77 103.23,400.03 103.05,400.27 C102.87,400.51 102.68,400.74 102.49,400.99 C102.30,401.23 102.12,401.49 101.91,401.72 C101.70,401.95 101.47,402.15 101.23,402.36 C101.00,402.56 100.74,402.75 100.50,402.95 C100.25,403.14 100.00,403.35 99.74,403.55 C99.48,403.74 99.21,403.95 98.93,404.12 C98.65,404.30 98.36,404.48 98.05,404.61 C97.75,404.75 97.42,404.83 97.10,404.93 C96.77,405.03 96.45,405.11 96.12,405.20 C95.78,405.29 95.44,405.40 95.10,405.47 C94.76,405.53 94.40,405.57 94.05,405.59 C93.70,405.61 93.34,405.61 92.98,405.61 C92.62,405.60 92.26,405.59 91.90,405.55 C91.53,405.52 91.17,405.48 90.80,405.43 C90.42,405.37 90.03,405.35 89.67,405.24 C89.31,405.14 88.97,404.97 88.63,404.80 C88.30,404.63 87.98,404.42 87.67,404.21 C87.35,404.01 87.04,403.80 86.74,403.56 C86.45,403.32 86.17,403.06 85.92,402.78 C85.66,402.51 85.42,402.21 85.21,401.90 C85.00,401.59 84.82,401.25 84.66,400.91 C84.50,400.57 84.37,400.21 84.25,399.86 C84.13,399.51 84.01,399.16 83.94,398.80 C83.87,398.44 83.85,398.07 83.82,397.70 C83.80,397.34 83.78,396.99 83.78,396.63 C83.78,396.28 83.80,395.93 83.83,395.59 C83.87,395.24 83.93,394.90 83.98,394.57 C84.03,394.24 84.07,393.92 84.15,393.60 C84.22,393.28 84.32,392.97 84.42,392.67 C84.52,392.36 84.63,392.07 84.74,391.77 C84.84,391.48 84.94,391.19 85.06,390.91 C85.18,390.63 85.34,390.36 85.48,390.10 C85.63,389.83 85.77,389.58 85.93,389.32 C86.08,389.07 86.24,388.82 86.40,388.58 C86.56,388.33 86.72,388.09 86.89,387.85 C87.06,387.61 87.23,387.38 87.41,387.15 C87.59,386.92 87.79,386.71 87.98,386.48 C88.18,386.26 88.36,386.02 88.56,385.81 C88.77,385.60 89.00,385.40 89.23,385.21 C89.45,385.02 89.70,384.84 89.94,384.65 C90.17,384.47 90.40,384.25 90.66,384.08 C90.92,383.92 91.21,383.82 91.49,383.69 C91.78,383.57 92.06,383.46 92.35,383.35 C92.64,383.24 92.94,383.12 93.24,383.03 C93.54,382.94 93.84,382.87 94.16,382.80 C94.47,382.74 94.78,382.67 95.10,382.62 C95.42,382.57 95.74,382.53 96.07,382.49 C96.40,382.46 96.73,382.42 97.07,382.40 C97.41,382.38 97.76,382.37 98.11,382.37 C98.46,382.38 98.81,382.39 99.17,382.41 C99.53,382.43 99.91,382.45 100.28,382.50 C100.64,382.55 101.02,382.63 101.38,382.72 C101.75,382.82 102.11,382.94 102.47,383.08 C102.83,383.22 103.20,383.36 103.54,383.54 C103.88,383.73 104.21,383.95 104.50,384.20 C104.79,384.45 105.06,384.74 105.29,385.05 C105.51,385.36 105.70,385.72 105.85,386.07 C106.01,386.42 106.13,386.80 106.23,387.17 C106.33,387.55 106.40,387.93 106.46,388.30 C106.51,388.68 106.55,389.06 106.57,389.42 C106.60,389.79 106.63,390.15 106.61,390.52 C106.60,390.88 106.54,391.24 106.49,391.59 C106.43,391.94 106.36,392.29 106.29,392.62 C106.22,392.96 106.16,393.28 106.08,393.60Z" fill="#a9262c"/>
<path d="M101.21,386.32 C101.52,386.58 101.80,386.88 102.04,387.21 C102.29,387.54 102.50,387.91 102.67,388.30 C102.84,388.69 102.98,389.11 103.07,389.55 C103.16,389.98 103.21,390.45 103.22,390.92 C103.24,391.39 103.20,391.88 103.13,392.37 C103.06,392.86 102.95,393.36 102.80,393.86 C102.65,394.35 102.45,394.85 102.23,395.34 C102.00,395.82 101.74,396.31 101.44,396.77 C101.15,397.23 100.82,397.68 100.46,398.10 C100.11,398.52 99.72,398.93 99.32,399.29 C98.92,399.66 98.49,400.01 98.05,400.32 C97.61,400.62 97.15,400.90 96.69,401.14 C96.23,401.37 95.75,401.57 95.28,401.72 C94.81,401.88 94.33,402.00 93.87,402.07 C93.40,402.14 92.94,402.17 92.49,402.15 C92.05,402.14 91.61,402.08 91.20,401.98 C90.78,401.88 90.38,401.73 90.02,401.55 C89.65,401.36 89.30,401.14 88.99,400.88 C88.68,400.62 88.40,400.32 88.16,399.99 C87.91,399.66 87.70,399.29 87.53,398.90 C87.36,398.51 87.22,398.09 87.13,397.65 C87.04,397.22 86.99,396.75 86.98,396.28 C86.96,395.81 87.00,395.32 87.07,394.83 C87.14,394.34 87.25,393.84 87.40,393.34 C87.55,392.85 87.75,392.35 87.97,391.86 C88.20,391.38 88.46,390.89 88.76,390.43 C89.05,389.97 89.38,389.52 89.74,389.10 C90.09,388.68 90.48,388.27 90.88,387.91 C91.28,387.54 91.71,387.19 92.15,386.88 C92.59,386.58 93.05,386.30 93.51,386.06 C93.97,385.83 94.45,385.63 94.92,385.48 C95.39,385.32 95.87,385.20 96.33,385.13 C96.80,385.06 97.26,385.03 97.71,385.05 C98.15,385.06 98.59,385.12 99.00,385.22 C99.42,385.32 99.82,385.47 100.18,385.65 C100.55,385.84 100.90,386.06 101.21,386.32Z" fill="#7d1f26"/>
<path d="M100.00,352.80 C97.80,353.00 94.30,354.83 91.70,355.50 C89.10,356.17 86.45,356.07 84.40,356.80 C82.35,357.53 80.85,358.88 79.40,359.90 C77.95,360.92 77.13,361.68 75.70,362.90 C74.27,364.12 72.23,365.75 70.80,367.20 C69.37,368.65 68.13,370.15 67.10,371.60 C66.07,373.05 65.83,374.47 64.60,375.90 C63.37,377.33 61.33,378.57 59.70,380.20 C58.07,381.83 56.23,383.75 54.80,385.70 C53.37,387.65 52.03,390.05 51.10,391.90 C50.17,393.75 49.52,394.95 49.20,396.80 C48.88,398.65 48.98,401.23 49.20,403.00 C49.42,404.77 49.98,405.63 50.50,407.40 C51.02,409.17 51.18,411.65 52.30,413.60 C53.42,415.55 55.35,417.77 57.20,419.10 C59.05,420.43 61.33,420.27 63.40,421.60 C65.47,422.93 67.55,425.15 69.60,427.10 C71.65,429.05 73.65,431.65 75.70,433.30 C77.75,434.95 79.63,435.98 81.90,437.00 C84.17,438.02 87.05,438.38 89.30,439.40 C91.55,440.42 93.00,442.17 95.40,443.10 C97.80,444.03 100.88,444.78 103.70,445.00 C106.52,445.22 109.43,444.82 112.30,444.40 C115.17,443.98 118.02,443.33 120.90,442.50 C123.78,441.67 126.92,440.32 129.60,439.40 C132.28,438.48 134.85,437.82 137.00,437.00 C139.15,436.18 141.58,435.63 142.50,434.50 C143.42,433.37 143.22,431.43 142.50,430.20 C141.78,428.97 139.53,428.23 138.20,427.10 C136.87,425.97 134.92,424.83 134.50,423.40 C134.08,421.97 134.88,420.35 135.70,418.50 C136.52,416.65 139.18,414.35 139.40,412.30 C139.62,410.25 137.62,408.08 137.00,406.20 C136.38,404.32 135.70,402.57 135.70,401.00 C135.70,399.43 136.38,398.32 137.00,396.80 C137.62,395.28 138.78,393.75 139.40,391.90 C140.02,390.05 140.60,387.75 140.70,385.70 C140.80,383.65 140.62,381.45 140.00,379.60 C139.38,377.75 138.12,376.15 137.00,374.60 C135.88,373.05 134.53,371.83 133.30,370.30 C132.07,368.77 130.83,366.73 129.60,365.40 C128.37,364.07 127.75,363.12 125.90,362.30 C124.05,361.48 120.97,361.32 118.50,360.50 C116.03,359.68 113.37,358.43 111.10,357.40 C108.83,356.37 106.75,355.07 104.90,354.30 C103.05,353.53 102.20,352.60 100.00,352.80Z" fill="none" stroke="#d5848b" stroke-width="1.15" stroke-dasharray="3.8 2.2"/>
<path d="M100.00,371.60 C97.18,371.53 94.10,371.10 91.70,371.20 C89.30,371.30 87.43,371.42 85.60,372.20 C83.77,372.98 82.13,374.47 80.70,375.90 C79.27,377.33 78.23,378.95 77.00,380.80 C75.77,382.65 74.23,384.95 73.30,387.00 C72.37,389.05 71.82,391.05 71.40,393.10 C70.98,395.15 70.80,397.25 70.80,399.30 C70.80,401.35 70.75,403.30 71.40,405.40 C72.05,407.50 72.83,409.78 74.70,411.90 C76.57,414.02 79.40,416.68 82.60,418.10 C85.80,419.52 90.52,420.20 93.90,420.40 C97.28,420.60 100.08,420.52 102.90,419.30 C105.72,418.08 108.53,415.65 110.80,413.10 C113.07,410.55 115.25,406.68 116.50,404.00 C117.75,401.32 117.67,399.83 118.30,397.00 C118.93,394.17 120.07,389.80 120.30,387.00 C120.53,384.20 120.10,382.15 119.70,380.20 C119.30,378.25 118.72,376.53 117.90,375.30 C117.08,374.07 116.35,373.42 114.80,372.80 C113.25,372.18 111.07,371.80 108.60,371.60 C106.13,371.40 102.82,371.67 100.00,371.60Z" fill="none" stroke="#d5848b" stroke-width="1.15" stroke-dasharray="3.8 2.2"/>
<rect x="26.20" y="346.50" width="136.60" height="117.70" fill="none" stroke="#333333" stroke-width="1"/>
<rect x="171.40" y="451.12" width="6.00" height="13.38" fill="#f6ece4"/>
<rect x="171.40" y="438.04" width="6.00" height="13.38" fill="#f1dcd2"/>
<rect x="171.40" y="424.97" width="6.00" height="13.38" fill="#ecc1ae"/>
<rect x="171.40" y="411.89" width="6.00" height="13.38" fill="#e8a18b"/>
<rect x="171.40" y="398.81" width="6.00" height="13.38" fill="#e17c66"/>
<rect x="171.40" y="385.73" width="6.00" height="13.38" fill="#df503d"/>
<rect x="171.40" y="372.66" width="6.00" height="13.38" fill="#cc3030"/>
<rect x="171.40" y="359.58" width="6.00" height="13.38" fill="#a9262c"/>
<rect x="171.40" y="346.50" width="6.00" height="13.38" fill="#7d1f26"/>
<rect x="171.40" y="346.50" width="6.00" height="117.70" fill="none" stroke="#262626" stroke-width="0.8"/>
<line x1="177.40" y1="464.20" x2="180.40" y2="464.20" stroke="#262626" stroke-width="0.8"/>
<text x="182.90" y="466.60" font-size="6.32" text-anchor="start" fill="#262626" stroke="#262626" stroke-width="0.1" textLength="29.58" lengthAdjust="spacingAndGlyphs" >0.000265</text>
<line x1="177.40" y1="451.12" x2="180.40" y2="451.12" stroke="#262626" stroke-width="0.8"/>
<text x="182.90" y="453.52" font-size="6.32" text-anchor="start" fill="#262626" stroke="#262626" stroke-width="0.1" textLength="29.58" lengthAdjust="spacingAndGlyphs" >0.000766</text>
<line x1="177.40" y1="438.04" x2="180.40" y2="438.04" stroke="#262626" stroke-width="0.8"/>
<text x="182.90" y="440.44" font-size="6.32" text-anchor="start" fill="#262626" stroke="#262626" stroke-width="0.1" textLength="29.58" lengthAdjust="spacingAndGlyphs" >0.001255</text>
<line x1="177.40" y1="424.97" x2="180.40" y2="424.97" stroke="#262626" stroke-width="0.8"/>
<text x="182.90" y="427.37" font-size="6.32" text-anchor="start" fill="#262626" stroke="#262626" stroke-width="0.1" textLength="29.58" lengthAdjust="spacingAndGlyphs" >0.001806</text>
<line x1="177.40" y1="411.89" x2="180.40" y2="411.89" stroke="#262626" stroke-width="0.8"/>
<text x="182.90" y="414.29" font-size="6.32" text-anchor="start" fill="#262626" stroke="#262626" stroke-width="0.1" textLength="29.58" lengthAdjust="spacingAndGlyphs" >0.002437</text>
<line x1="177.40" y1="398.81" x2="180.40" y2="398.81" stroke="#262626" stroke-width="0.8"/>
<text x="182.90" y="401.21" font-size="6.32" text-anchor="start" fill="#262626" stroke="#262626" stroke-width="0.1" textLength="29.58" lengthAdjust="spacingAndGlyphs" >0.003135</text>
<line x1="177.40" y1="385.73" x2="180.40" y2="385.73" stroke="#262626" stroke-width="0.8"/>
<text x="182.90" y="388.13" font-size="6.32" text-anchor="start" fill="#262626" stroke="#262626" stroke-width="0.1" textLength="29.58" lengthAdjust="spacingAndGlyphs" >0.003874</text>
<line x1="177.40" y1="372.66" x2="180.40" y2="372.66" stroke="#262626" stroke-width="0.8"/>
<text x="182.90" y="375.06" font-size="6.32" text-anchor="start" fill="#262626" stroke="#262626" stroke-width="0.1" textLength="29.58" lengthAdjust="spacingAndGlyphs" >0.004654</text>
<line x1="177.40" y1="359.58" x2="180.40" y2="359.58" stroke="#262626" stroke-width="0.8"/>
<text x="182.90" y="361.98" font-size="6.32" text-anchor="start" fill="#262626" stroke="#262626" stroke-width="0.1" textLength="29.58" lengthAdjust="spacingAndGlyphs" >0.005409</text>
<line x1="177.40" y1="346.50" x2="180.40" y2="346.50" stroke="#262626" stroke-width="0.8"/>
<text x="182.90" y="348.90" font-size="6.32" text-anchor="start" fill="#262626" stroke="#262626" stroke-width="0.1" textLength="29.58" lengthAdjust="spacingAndGlyphs" >0.006040</text>
<text x="223.00" y="405.35" font-size="8.16" text-anchor="middle" fill="#262626" stroke="#262626" stroke-width="0.1" textLength="30.41" lengthAdjust="spacingAndGlyphs" transform="rotate(-90 223.00 405.35)" >Density</text>
<text x="263.10" y="475.30" font-size="6.32" text-anchor="middle" fill="#262626" stroke="#262626" stroke-width="0.1" textLength="7.89" lengthAdjust="spacingAndGlyphs" >20</text>
<text x="296.50" y="475.30" font-size="6.32" text-anchor="middle" fill="#262626" stroke="#262626" stroke-width="0.1" textLength="7.89" lengthAdjust="spacingAndGlyphs" >40</text>
<text x="329.90" y="475.30" font-size="6.32" text-anchor="middle" fill="#262626" stroke="#262626" stroke-width="0.1" textLength="7.89" lengthAdjust="spacingAndGlyphs" >60</text>
<text x="363.30" y="475.30" font-size="6.32" text-anchor="middle" fill="#262626" stroke="#262626" stroke-width="0.1" textLength="7.89" lengthAdjust="spacingAndGlyphs" >80</text>
<text x="396.70" y="475.30" font-size="6.32" text-anchor="middle" fill="#262626" stroke="#262626" stroke-width="0.1" textLength="11.83" lengthAdjust="spacingAndGlyphs" >100</text>
<g><text x="290.40" y="484.90" font-size="6.32" fill="#262626" stroke="#262626" stroke-width="0.1" textLength="72.60" lengthAdjust="spacingAndGlyphs">Sensible Heat Flux (10</text><text x="364.40" y="482.37" font-size="3.92" fill="#262626" stroke="#262626" stroke-width="0.1">9</text><text x="368.10" y="484.90" font-size="6.32" fill="#262626" stroke="#262626" stroke-width="0.1">)</text></g>
<text x="257.40" y="466.60" font-size="6.32" text-anchor="end" fill="#262626" stroke="#262626" stroke-width="0.1" textLength="3.94" lengthAdjust="spacingAndGlyphs" >6</text>
<text x="257.40" y="449.79" font-size="6.32" text-anchor="end" fill="#262626" stroke="#262626" stroke-width="0.1" textLength="3.94" lengthAdjust="spacingAndGlyphs" >8</text>
<text x="257.40" y="432.97" font-size="6.32" text-anchor="end" fill="#262626" stroke="#262626" stroke-width="0.1" textLength="7.89" lengthAdjust="spacingAndGlyphs" >10</text>
<text x="257.40" y="416.16" font-size="6.32" text-anchor="end" fill="#262626" stroke="#262626" stroke-width="0.1" textLength="7.89" lengthAdjust="spacingAndGlyphs" >12</text>
<text x="257.40" y="399.34" font-size="6.32" text-anchor="end" fill="#262626" stroke="#262626" stroke-width="0.1" textLength="7.89" lengthAdjust="spacingAndGlyphs" >14</text>
<text x="257.40" y="382.53" font-size="6.32" text-anchor="end" fill="#262626" stroke="#262626" stroke-width="0.1" textLength="7.89" lengthAdjust="spacingAndGlyphs" >16</text>
<text x="257.40" y="365.71" font-size="6.32" text-anchor="end" fill="#262626" stroke="#262626" stroke-width="0.1" textLength="7.89" lengthAdjust="spacingAndGlyphs" >18</text>
<text x="257.40" y="348.90" font-size="6.32" text-anchor="end" fill="#262626" stroke="#262626" stroke-width="0.1" textLength="7.89" lengthAdjust="spacingAndGlyphs" >20</text>
<g transform="rotate(-90 245.60 405.35)"><text x="207.95" y="405.35" font-size="6.32" fill="#262626" stroke="#262626" stroke-width="0.1" textLength="68.90" lengthAdjust="spacingAndGlyphs">Latent Heat Flux (10</text><text x="278.25" y="402.82" font-size="3.92" fill="#262626" stroke="#262626" stroke-width="0.1">8</text><text x="281.95" y="405.35" font-size="6.32" fill="#262626" stroke="#262626" stroke-width="0.1">)</text></g>
<text x="265.40" y="358.30" font-size="8.40" text-anchor="start" fill="#1a1a1a" stroke="#1a1a1a" stroke-width="0.1" textLength="11.88" lengthAdjust="spacingAndGlyphs" >(h)</text>
<path d="M281.20,437.90 C280.78,435.85 281.28,433.10 281.80,430.70 C282.32,428.30 283.37,425.90 284.30,423.50 C285.23,421.10 286.03,418.45 287.40,416.30 C288.77,414.15 290.78,412.12 292.50,410.60 C294.22,409.08 295.98,408.45 297.70,407.20 C299.42,405.95 301.08,404.63 302.80,403.10 C304.52,401.57 306.28,399.53 308.00,398.00 C309.72,396.47 311.57,395.45 313.10,393.90 C314.63,392.35 315.83,390.42 317.20,388.70 C318.57,386.98 319.75,385.13 321.30,383.60 C322.85,382.07 324.72,380.87 326.50,379.50 C328.28,378.13 330.38,376.43 332.00,375.40 C333.62,374.37 334.30,374.08 336.20,373.30 C338.10,372.52 341.02,371.38 343.40,370.70 C345.78,370.02 348.45,369.70 350.50,369.20 C352.55,368.70 354.15,368.18 355.70,367.70 C357.25,367.22 358.68,366.22 359.80,366.30 C360.92,366.38 361.97,367.03 362.40,368.20 C362.83,369.37 362.32,371.60 362.40,373.30 C362.48,375.00 362.13,376.87 362.90,378.40 C363.67,379.93 365.47,381.12 367.00,382.50 C368.53,383.88 370.57,385.15 372.10,386.70 C373.63,388.25 375.17,390.10 376.20,391.80 C377.23,393.50 378.12,395.18 378.30,396.90 C378.48,398.62 377.92,400.50 377.30,402.10 C376.68,403.70 375.38,405.17 374.60,406.50 C373.82,407.83 372.83,408.47 372.60,410.10 C372.37,411.73 372.42,414.42 373.20,416.30 C373.98,418.18 376.28,419.87 377.30,421.40 C378.32,422.93 379.13,423.95 379.30,425.50 C379.47,427.05 379.15,428.98 378.30,430.70 C377.45,432.42 375.75,434.27 374.20,435.80 C372.65,437.33 370.88,438.62 369.00,439.90 C367.12,441.18 365.28,442.47 362.90,443.50 C360.52,444.53 357.45,445.15 354.70,446.10 C351.95,447.05 349.15,448.27 346.40,449.20 C343.65,450.13 340.93,450.97 338.20,451.70 C335.47,452.43 332.13,453.25 330.00,453.60 C327.87,453.95 327.53,453.85 325.40,453.80 C323.27,453.75 320.10,453.55 317.20,453.30 C314.30,453.05 311.08,452.82 308.00,452.30 C304.92,451.78 301.62,451.07 298.70,450.20 C295.78,449.33 292.90,448.30 290.50,447.10 C288.10,445.90 285.85,444.53 284.30,443.00 C282.75,441.47 281.62,439.95 281.20,437.90Z" fill="#f6ece4"/>
<path d="M292.50,431.70 C292.08,429.98 292.58,428.65 293.10,426.60 C293.62,424.55 294.50,421.63 295.60,419.40 C296.70,417.17 297.98,415.08 299.70,413.20 C301.42,411.32 304.02,409.55 305.90,408.10 C307.78,406.65 309.15,406.10 311.00,404.50 C312.85,402.90 315.17,400.67 317.00,398.50 C318.83,396.33 320.42,393.50 322.00,391.50 C323.58,389.50 325.05,387.87 326.50,386.50 C327.95,385.13 328.77,384.18 330.70,383.30 C332.63,382.42 335.37,381.48 338.10,381.20 C340.83,380.92 344.37,380.98 347.10,381.60 C349.83,382.22 352.17,383.80 354.50,384.90 C356.83,386.00 359.32,386.68 361.10,388.20 C362.88,389.72 364.38,391.95 365.20,394.00 C366.02,396.05 366.00,398.33 366.00,400.50 C366.00,402.67 365.30,404.53 365.20,407.00 C365.10,409.47 364.93,412.38 365.40,415.30 C365.87,418.22 367.22,422.10 368.00,424.50 C368.78,426.90 370.27,427.98 370.10,429.70 C369.93,431.42 368.55,433.27 367.00,434.80 C365.45,436.33 363.55,437.78 360.80,438.90 C358.05,440.02 353.92,440.65 350.50,441.50 C347.08,442.35 343.72,443.32 340.30,444.00 C336.88,444.68 333.17,445.33 330.00,445.60 C326.83,445.87 324.47,445.77 321.30,445.60 C318.13,445.43 314.25,445.20 311.00,444.60 C307.75,444.00 304.37,443.28 301.80,442.00 C299.23,440.72 297.15,438.62 295.60,436.90 C294.05,435.18 292.92,433.42 292.50,431.70Z" fill="#f1dcd2"/>
<path d="M298.20,432.70 C297.60,430.65 297.77,428.82 298.20,426.60 C298.63,424.38 299.52,421.63 300.80,419.40 C302.08,417.17 304.20,414.93 305.90,413.20 C307.60,411.47 309.45,410.20 311.00,409.00 C312.55,407.80 313.45,407.50 315.20,406.00 C316.95,404.50 319.53,401.92 321.50,400.00 C323.47,398.08 325.00,396.12 327.00,394.50 C329.00,392.88 330.97,391.48 333.50,390.30 C336.03,389.12 339.52,387.75 342.20,387.40 C344.88,387.05 347.42,387.65 349.60,388.20 C351.78,388.75 353.80,389.33 355.30,390.70 C356.80,392.07 357.92,394.35 358.60,396.40 C359.28,398.45 359.20,400.40 359.40,403.00 C359.60,405.60 359.48,408.42 359.80,412.00 C360.12,415.58 361.13,421.38 361.30,424.50 C361.47,427.62 361.90,428.82 360.80,430.70 C359.70,432.58 357.43,434.43 354.70,435.80 C351.97,437.17 347.83,438.03 344.40,438.90 C340.97,439.77 336.50,440.40 334.10,441.00 C331.70,441.60 332.82,442.08 330.00,442.50 C327.18,442.92 320.87,443.58 317.20,443.50 C313.53,443.42 310.57,442.77 308.00,442.00 C305.43,441.23 303.43,440.45 301.80,438.90 C300.17,437.35 298.80,434.75 298.20,432.70Z" fill="#ecc1ae"/>
<path d="M356.02,420.00 C355.97,420.77 355.80,421.54 355.69,422.30 C355.58,423.06 355.47,423.82 355.36,424.58 C355.25,425.34 355.14,426.10 355.03,426.87 C354.92,427.64 354.92,428.47 354.69,429.21 C354.47,429.95 354.11,430.67 353.65,431.31 C353.20,431.95 352.52,432.47 351.97,433.03 C351.42,433.59 350.93,434.17 350.36,434.67 C349.78,435.18 349.19,435.66 348.53,436.05 C347.86,436.43 347.07,436.68 346.38,436.98 C345.68,437.28 345.02,437.56 344.37,437.84 C343.72,438.12 343.13,438.45 342.47,438.66 C341.81,438.87 341.09,438.97 340.43,439.10 C339.76,439.23 339.11,439.34 338.47,439.46 C337.84,439.58 337.22,439.69 336.61,439.80 C336.00,439.92 335.40,440.03 334.80,440.14 C334.20,440.25 333.60,440.36 333.01,440.46 C332.41,440.57 331.82,440.69 331.22,440.79 C330.62,440.89 330.01,441.02 329.40,441.08 C328.79,441.14 328.17,441.12 327.55,441.14 C326.93,441.17 326.30,441.19 325.66,441.21 C325.02,441.23 324.37,441.26 323.70,441.28 C323.03,441.30 322.33,441.36 321.63,441.35 C320.93,441.35 320.23,441.29 319.49,441.25 C318.76,441.21 318.01,441.16 317.21,441.11 C316.42,441.06 315.57,441.05 314.73,440.95 C313.89,440.85 313.02,440.73 312.19,440.51 C311.35,440.30 310.58,439.97 309.72,439.68 C308.87,439.38 307.76,439.24 307.05,438.76 C306.33,438.27 305.98,437.44 305.45,436.77 C304.91,436.10 304.28,435.49 303.84,434.76 C303.39,434.03 303.04,433.23 302.80,432.40 C302.57,431.58 302.56,430.66 302.44,429.81 C302.33,428.96 302.07,428.16 302.10,427.32 C302.12,426.47 302.39,425.56 302.61,424.72 C302.83,423.88 303.14,423.06 303.44,422.27 C303.74,421.48 303.96,420.72 304.40,420.00 C304.84,419.28 305.54,418.60 306.07,417.96 C306.60,417.32 307.08,416.72 307.56,416.15 C308.03,415.57 308.41,415.01 308.90,414.51 C309.40,414.00 310.00,413.56 310.52,413.13 C311.05,412.70 311.57,412.30 312.06,411.91 C312.55,411.53 313.01,411.16 313.46,410.80 C313.92,410.44 314.35,410.10 314.78,409.76 C315.20,409.42 315.61,409.10 316.02,408.77 C316.43,408.45 316.83,408.14 317.22,407.82 C317.62,407.51 318.01,407.20 318.40,406.89 C318.79,406.58 319.17,406.26 319.57,405.96 C319.97,405.66 320.38,405.37 320.79,405.09 C321.20,404.80 321.62,404.52 322.05,404.24 C322.48,403.95 322.90,403.66 323.35,403.37 C323.79,403.07 324.23,402.77 324.70,402.46 C325.16,402.15 325.64,401.83 326.14,401.51 C326.64,401.18 327.15,400.84 327.69,400.48 C328.24,400.12 328.80,399.76 329.40,399.36 C330.00,398.96 330.63,398.54 331.32,398.08 C332.01,397.62 332.74,397.07 333.53,396.59 C334.31,396.12 335.15,395.65 336.04,395.22 C336.93,394.79 337.91,394.30 338.86,394.02 C339.81,393.73 340.77,393.62 341.75,393.52 C342.73,393.41 343.82,393.26 344.76,393.39 C345.71,393.52 346.54,393.93 347.41,394.29 C348.27,394.64 349.21,394.96 349.96,395.49 C350.72,396.02 351.31,396.78 351.94,397.46 C352.56,398.15 353.26,398.79 353.71,399.61 C354.15,400.42 354.35,401.44 354.61,402.35 C354.86,403.26 355.09,404.16 355.26,405.07 C355.42,405.98 355.48,406.91 355.59,407.79 C355.70,408.67 355.84,409.50 355.90,410.35 C355.96,411.20 355.93,412.06 355.94,412.89 C355.95,413.71 355.96,414.52 355.97,415.32 C355.98,416.11 355.98,416.89 355.99,417.67 C356.00,418.45 356.07,419.23 356.02,420.00Z" fill="#e8a18b"/>
<path d="M352.15,420.00 C352.11,420.66 351.95,421.31 351.85,421.96 C351.75,422.62 351.66,423.26 351.56,423.91 C351.45,424.55 351.34,425.20 351.23,425.85 C351.12,426.50 351.11,427.20 350.91,427.83 C350.70,428.45 350.39,429.06 350.00,429.61 C349.62,430.15 349.06,430.60 348.59,431.08 C348.13,431.56 347.72,432.05 347.23,432.49 C346.75,432.92 346.25,433.34 345.70,433.67 C345.14,434.01 344.48,434.24 343.90,434.50 C343.32,434.77 342.76,435.02 342.22,435.27 C341.67,435.52 341.16,435.82 340.61,436.01 C340.05,436.20 339.45,436.30 338.88,436.42 C338.32,436.55 337.77,436.66 337.22,436.78 C336.68,436.89 336.15,437.00 335.63,437.11 C335.10,437.22 334.59,437.32 334.07,437.43 C333.55,437.53 333.04,437.63 332.53,437.73 C332.01,437.83 331.50,437.93 330.98,438.02 C330.46,438.11 329.93,438.23 329.40,438.28 C328.87,438.34 328.34,438.33 327.79,438.35 C327.25,438.37 326.71,438.40 326.15,438.41 C325.60,438.43 325.04,438.44 324.45,438.46 C323.87,438.47 323.27,438.51 322.67,438.50 C322.06,438.49 321.46,438.42 320.83,438.38 C320.20,438.33 319.56,438.28 318.88,438.22 C318.20,438.16 317.48,438.13 316.78,438.03 C316.07,437.93 315.34,437.80 314.63,437.60 C313.93,437.40 313.28,437.11 312.56,436.84 C311.84,436.57 310.93,436.42 310.33,436.00 C309.73,435.58 309.42,434.88 308.97,434.31 C308.51,433.74 307.99,433.20 307.61,432.58 C307.24,431.96 306.93,431.27 306.73,430.57 C306.53,429.87 306.50,429.09 306.40,428.37 C306.29,427.65 306.08,426.97 306.10,426.24 C306.11,425.52 306.31,424.76 306.48,424.04 C306.66,423.32 306.91,422.62 307.15,421.95 C307.39,421.27 307.56,420.62 307.92,420.00 C308.27,419.38 308.85,418.80 309.28,418.24 C309.71,417.68 310.10,417.17 310.49,416.67 C310.88,416.16 311.20,415.68 311.61,415.23 C312.02,414.79 312.51,414.40 312.95,414.01 C313.39,413.63 313.83,413.28 314.24,412.93 C314.66,412.59 315.04,412.26 315.43,411.93 C315.82,411.61 316.19,411.31 316.56,411.01 C316.92,410.70 317.28,410.41 317.63,410.13 C317.99,409.84 318.33,409.56 318.68,409.28 C319.02,409.00 319.37,408.73 319.71,408.46 C320.06,408.18 320.39,407.90 320.74,407.64 C321.10,407.37 321.46,407.13 321.82,406.88 C322.19,406.63 322.56,406.38 322.94,406.14 C323.31,405.89 323.69,405.64 324.08,405.39 C324.47,405.14 324.87,404.88 325.28,404.62 C325.69,404.36 326.11,404.09 326.55,403.82 C326.99,403.55 327.44,403.27 327.91,402.98 C328.39,402.69 328.88,402.38 329.40,402.06 C329.92,401.74 330.47,401.41 331.06,401.04 C331.65,400.67 332.28,400.23 332.95,399.86 C333.62,399.48 334.33,399.12 335.08,398.79 C335.84,398.45 336.66,398.07 337.46,397.85 C338.26,397.64 339.07,397.57 339.89,397.50 C340.72,397.43 341.63,397.32 342.42,397.44 C343.22,397.56 343.92,397.92 344.65,398.22 C345.38,398.52 346.17,398.81 346.81,399.25 C347.45,399.70 347.96,400.33 348.49,400.91 C349.03,401.48 349.62,402.03 350.00,402.71 C350.39,403.39 350.59,404.24 350.82,405.00 C351.06,405.76 351.26,406.52 351.42,407.29 C351.57,408.05 351.64,408.83 351.75,409.58 C351.85,410.32 351.99,411.04 352.04,411.76 C352.10,412.48 352.09,413.21 352.10,413.92 C352.12,414.62 352.13,415.31 352.14,415.99 C352.15,416.67 352.15,417.34 352.15,418.01 C352.15,418.68 352.20,419.34 352.15,420.00Z" fill="#e17c66"/>
<path d="M348.66,420.00 C348.61,420.56 348.48,421.11 348.39,421.66 C348.29,422.21 348.21,422.75 348.11,423.30 C348.01,423.84 347.90,424.38 347.79,424.93 C347.69,425.48 347.66,426.06 347.48,426.58 C347.29,427.10 347.02,427.61 346.70,428.07 C346.38,428.52 345.93,428.91 345.54,429.32 C345.16,429.73 344.81,430.14 344.41,430.51 C344.01,430.88 343.59,431.23 343.14,431.53 C342.68,431.82 342.14,432.03 341.67,432.27 C341.19,432.50 340.72,432.73 340.27,432.95 C339.81,433.17 339.39,433.43 338.93,433.60 C338.46,433.78 337.96,433.88 337.48,434.00 C337.01,434.13 336.55,434.24 336.09,434.35 C335.63,434.46 335.19,434.57 334.74,434.67 C334.29,434.77 333.85,434.87 333.41,434.97 C332.97,435.07 332.53,435.17 332.09,435.26 C331.65,435.35 331.21,435.44 330.76,435.52 C330.31,435.60 329.86,435.71 329.40,435.76 C328.94,435.81 328.48,435.80 328.02,435.82 C327.55,435.84 327.08,435.87 326.60,435.88 C326.12,435.90 325.64,435.90 325.14,435.90 C324.64,435.91 324.12,435.94 323.61,435.92 C323.09,435.90 322.58,435.83 322.04,435.78 C321.51,435.73 320.96,435.68 320.39,435.61 C319.82,435.54 319.22,435.49 318.63,435.38 C318.04,435.27 317.43,435.15 316.84,434.96 C316.26,434.78 315.72,434.52 315.13,434.27 C314.54,434.03 313.80,433.87 313.31,433.50 C312.81,433.14 312.53,432.56 312.15,432.08 C311.77,431.60 311.34,431.13 311.03,430.60 C310.72,430.08 310.46,429.50 310.28,428.91 C310.11,428.32 310.07,427.68 309.98,427.07 C309.88,426.46 309.71,425.88 309.72,425.27 C309.72,424.67 309.86,424.03 309.99,423.42 C310.12,422.82 310.32,422.22 310.50,421.65 C310.69,421.08 310.82,420.53 311.10,420.00 C311.38,419.47 311.84,418.97 312.18,418.49 C312.52,418.02 312.83,417.57 313.14,417.13 C313.46,416.70 313.73,416.28 314.07,415.89 C314.40,415.50 314.79,415.15 315.15,414.81 C315.51,414.47 315.87,414.16 316.22,413.85 C316.56,413.54 316.88,413.25 317.21,412.96 C317.53,412.67 317.85,412.40 318.17,412.13 C318.48,411.86 318.78,411.60 319.09,411.35 C319.39,411.09 319.69,410.84 319.99,410.59 C320.30,410.35 320.60,410.11 320.90,409.87 C321.20,409.63 321.50,409.38 321.80,409.15 C322.11,408.92 322.44,408.71 322.76,408.49 C323.08,408.28 323.40,408.07 323.74,407.85 C324.07,407.64 324.40,407.43 324.75,407.22 C325.09,407.01 325.44,406.79 325.80,406.57 C326.16,406.36 326.53,406.14 326.92,405.91 C327.30,405.69 327.69,405.47 328.11,405.24 C328.52,405.00 328.95,404.76 329.40,404.50 C329.85,404.25 330.32,404.00 330.82,403.72 C331.33,403.44 331.87,403.09 332.43,402.81 C333.00,402.53 333.59,402.26 334.22,402.01 C334.85,401.76 335.53,401.47 336.20,401.32 C336.86,401.17 337.53,401.13 338.21,401.10 C338.90,401.06 339.65,401.00 340.31,401.11 C340.96,401.22 341.55,401.52 342.16,401.78 C342.77,402.04 343.42,402.28 343.95,402.66 C344.49,403.03 344.93,403.54 345.38,404.02 C345.83,404.50 346.32,404.96 346.66,405.52 C346.99,406.08 347.19,406.77 347.40,407.40 C347.61,408.03 347.80,408.66 347.94,409.29 C348.09,409.93 348.17,410.58 348.27,411.20 C348.38,411.82 348.49,412.42 348.55,413.03 C348.61,413.64 348.61,414.25 348.63,414.85 C348.65,415.44 348.67,416.02 348.68,416.60 C348.69,417.18 348.68,417.75 348.67,418.31 C348.67,418.88 348.71,419.44 348.66,420.00Z" fill="#df503d"/>
<path d="M345.17,420.00 C345.12,420.46 345.00,420.91 344.92,421.36 C344.83,421.81 344.76,422.25 344.67,422.69 C344.58,423.13 344.46,423.57 344.36,424.01 C344.25,424.45 344.21,424.91 344.05,425.33 C343.89,425.75 343.66,426.16 343.40,426.53 C343.14,426.90 342.80,427.23 342.49,427.56 C342.19,427.89 341.90,428.23 341.58,428.53 C341.26,428.83 340.94,429.13 340.58,429.38 C340.22,429.63 339.80,429.82 339.43,430.03 C339.05,430.24 338.68,430.43 338.31,430.62 C337.95,430.82 337.62,431.04 337.24,431.20 C336.87,431.36 336.47,431.46 336.09,431.58 C335.70,431.70 335.33,431.82 334.96,431.92 C334.59,432.03 334.22,432.13 333.85,432.23 C333.48,432.33 333.12,432.43 332.75,432.52 C332.39,432.61 332.02,432.71 331.65,432.79 C331.29,432.87 330.91,432.94 330.54,433.02 C330.16,433.09 329.78,433.18 329.40,433.23 C329.02,433.27 328.63,433.27 328.24,433.29 C327.85,433.31 327.45,433.34 327.05,433.35 C326.64,433.36 326.24,433.35 325.82,433.35 C325.41,433.34 324.97,433.37 324.55,433.34 C324.12,433.31 323.69,433.24 323.25,433.18 C322.81,433.12 322.36,433.07 321.90,433.00 C321.43,432.92 320.96,432.85 320.48,432.74 C320.01,432.62 319.52,432.50 319.06,432.33 C318.59,432.16 318.15,431.93 317.69,431.71 C317.23,431.49 316.68,431.32 316.28,431.01 C315.89,430.70 315.63,430.25 315.33,429.85 C315.02,429.46 314.70,429.06 314.45,428.63 C314.20,428.20 313.99,427.73 313.84,427.26 C313.69,426.78 313.64,426.26 313.55,425.77 C313.47,425.28 313.34,424.80 313.33,424.30 C313.32,423.81 313.41,423.30 313.49,422.80 C313.58,422.31 313.73,421.83 313.86,421.36 C313.99,420.89 314.08,420.44 314.28,420.00 C314.49,419.56 314.83,419.15 315.08,418.75 C315.33,418.35 315.55,417.97 315.79,417.60 C316.03,417.23 316.26,416.88 316.52,416.55 C316.78,416.22 317.07,415.91 317.35,415.61 C317.63,415.32 317.92,415.05 318.19,414.77 C318.47,414.50 318.72,414.24 318.99,413.99 C319.25,413.74 319.52,413.50 319.78,413.26 C320.03,413.02 320.29,412.79 320.55,412.57 C320.80,412.35 321.05,412.12 321.31,411.91 C321.57,411.70 321.83,411.50 322.09,411.29 C322.35,411.08 322.60,410.86 322.87,410.67 C323.13,410.47 323.41,410.30 323.69,410.11 C323.97,409.93 324.25,409.75 324.54,409.57 C324.82,409.39 325.12,409.22 325.41,409.05 C325.71,408.87 326.01,408.70 326.33,408.53 C326.64,408.36 326.96,408.18 327.29,408.01 C327.62,407.84 327.95,407.67 328.31,407.50 C328.66,407.32 329.02,407.13 329.40,406.95 C329.78,406.77 330.17,406.59 330.59,406.40 C331.01,406.20 331.45,405.96 331.91,405.76 C332.37,405.57 332.85,405.40 333.35,405.24 C333.86,405.08 334.41,404.88 334.94,404.79 C335.47,404.70 335.99,404.70 336.53,404.70 C337.08,404.70 337.67,404.67 338.19,404.78 C338.71,404.89 339.18,405.13 339.66,405.34 C340.15,405.55 340.66,405.76 341.10,406.06 C341.53,406.36 341.90,406.76 342.26,407.14 C342.63,407.51 343.02,407.89 343.31,408.33 C343.59,408.77 343.78,409.30 343.98,409.79 C344.17,410.29 344.33,410.80 344.47,411.30 C344.61,411.80 344.70,412.32 344.80,412.82 C344.90,413.32 345.00,413.81 345.06,414.30 C345.12,414.79 345.13,415.29 345.16,415.78 C345.18,416.26 345.21,416.74 345.22,417.21 C345.22,417.68 345.20,418.15 345.20,418.62 C345.19,419.08 345.21,419.54 345.17,420.00Z" fill="#cc3030"/>
<path d="M341.49,420.00 C341.44,420.35 341.34,420.70 341.27,421.04 C341.19,421.38 341.13,421.72 341.05,422.05 C340.96,422.39 340.84,422.71 340.74,423.04 C340.64,423.37 340.57,423.71 340.44,424.02 C340.30,424.33 340.12,424.63 339.92,424.91 C339.73,425.19 339.50,425.45 339.28,425.70 C339.06,425.96 338.84,426.21 338.61,426.45 C338.38,426.68 338.14,426.91 337.88,427.12 C337.63,427.32 337.34,427.50 337.07,427.67 C336.80,427.85 336.53,428.01 336.26,428.18 C336.00,428.34 335.75,428.53 335.47,428.67 C335.20,428.81 334.90,428.91 334.61,429.03 C334.33,429.14 334.05,429.26 333.77,429.37 C333.49,429.48 333.20,429.57 332.92,429.67 C332.63,429.76 332.35,429.85 332.06,429.94 C331.78,430.02 331.49,430.11 331.20,430.19 C330.90,430.26 330.61,430.32 330.31,430.38 C330.01,430.44 329.71,430.53 329.40,430.57 C329.09,430.61 328.78,430.61 328.47,430.63 C328.16,430.65 327.84,430.68 327.52,430.69 C327.19,430.69 326.87,430.67 326.54,430.66 C326.21,430.65 325.87,430.66 325.53,430.62 C325.20,430.59 324.87,430.51 324.53,430.45 C324.19,430.38 323.83,430.33 323.48,430.25 C323.13,430.16 322.78,430.07 322.43,429.95 C322.08,429.83 321.72,429.71 321.38,429.55 C321.04,429.40 320.72,429.20 320.39,429.01 C320.06,428.81 319.70,428.63 319.41,428.38 C319.13,428.13 318.91,427.81 318.68,427.51 C318.45,427.20 318.23,426.89 318.05,426.55 C317.87,426.22 317.70,425.87 317.58,425.51 C317.46,425.15 317.39,424.77 317.32,424.40 C317.25,424.03 317.17,423.66 317.14,423.28 C317.12,422.91 317.14,422.53 317.18,422.15 C317.23,421.78 317.31,421.41 317.39,421.05 C317.47,420.69 317.51,420.34 317.64,420.00 C317.76,419.66 317.97,419.33 318.13,419.01 C318.29,418.70 318.42,418.39 318.59,418.09 C318.75,417.80 318.92,417.51 319.10,417.24 C319.28,416.97 319.46,416.70 319.66,416.45 C319.85,416.21 320.07,415.98 320.27,415.74 C320.47,415.51 320.66,415.29 320.86,415.07 C321.06,414.85 321.27,414.65 321.47,414.45 C321.67,414.25 321.87,414.05 322.08,413.86 C322.28,413.66 322.49,413.48 322.70,413.30 C322.91,413.12 323.13,412.95 323.34,412.78 C323.55,412.61 323.76,412.42 323.98,412.26 C324.20,412.10 324.44,411.96 324.68,411.82 C324.91,411.67 325.14,411.52 325.38,411.38 C325.62,411.24 325.87,411.11 326.11,410.97 C326.36,410.84 326.62,410.72 326.88,410.59 C327.14,410.46 327.40,410.33 327.67,410.21 C327.95,410.09 328.23,409.99 328.51,409.88 C328.80,409.76 329.10,409.63 329.40,409.52 C329.70,409.41 330.02,409.33 330.34,409.22 C330.67,409.11 331.01,408.97 331.36,408.87 C331.71,408.77 332.07,408.71 332.44,408.64 C332.82,408.57 333.22,408.47 333.61,408.44 C333.99,408.42 334.37,408.46 334.76,408.49 C335.16,408.53 335.58,408.54 335.96,408.64 C336.34,408.74 336.68,408.92 337.04,409.09 C337.40,409.25 337.77,409.42 338.09,409.64 C338.42,409.86 338.70,410.14 338.99,410.41 C339.27,410.69 339.55,410.97 339.78,411.29 C340.01,411.60 340.20,411.96 340.38,412.32 C340.55,412.67 340.68,413.04 340.81,413.41 C340.94,413.78 341.05,414.15 341.14,414.52 C341.24,414.90 341.33,415.26 341.39,415.64 C341.45,416.01 341.47,416.39 341.50,416.76 C341.53,417.13 341.56,417.49 341.57,417.85 C341.58,418.22 341.55,418.58 341.54,418.94 C341.52,419.30 341.53,419.65 341.49,420.00Z" fill="#a9262c"/>
<path d="M336.77,414.84 C337.02,415.19 337.24,415.58 337.41,415.98 C337.58,416.39 337.71,416.81 337.80,417.25 C337.89,417.69 337.93,418.14 337.94,418.60 C337.94,419.06 337.90,419.53 337.81,419.99 C337.73,420.46 337.60,420.93 337.43,421.39 C337.27,421.85 337.06,422.30 336.81,422.74 C336.57,423.18 336.28,423.61 335.96,424.01 C335.65,424.41 335.29,424.80 334.92,425.15 C334.54,425.51 334.13,425.84 333.70,426.14 C333.28,426.44 332.82,426.71 332.36,426.95 C331.89,427.18 331.41,427.38 330.92,427.54 C330.43,427.70 329.93,427.82 329.44,427.90 C328.95,427.98 328.44,428.02 327.96,428.02 C327.47,428.02 326.98,427.98 326.52,427.90 C326.05,427.82 325.60,427.70 325.17,427.54 C324.74,427.38 324.32,427.18 323.94,426.95 C323.56,426.72 323.21,426.45 322.89,426.15 C322.57,425.85 322.28,425.52 322.03,425.16 C321.78,424.81 321.56,424.42 321.39,424.02 C321.22,423.61 321.09,423.19 321.00,422.75 C320.91,422.31 320.87,421.86 320.86,421.40 C320.86,420.94 320.90,420.47 320.99,420.01 C321.07,419.54 321.20,419.07 321.37,418.61 C321.53,418.15 321.74,417.70 321.99,417.26 C322.23,416.82 322.52,416.39 322.84,415.99 C323.15,415.59 323.51,415.20 323.88,414.85 C324.26,414.49 324.67,414.16 325.10,413.86 C325.52,413.56 325.98,413.29 326.44,413.05 C326.91,412.82 327.39,412.62 327.88,412.46 C328.37,412.30 328.87,412.18 329.36,412.10 C329.85,412.02 330.36,411.98 330.84,411.98 C331.33,411.98 331.82,412.02 332.28,412.10 C332.75,412.18 333.20,412.30 333.63,412.46 C334.06,412.62 334.48,412.82 334.86,413.05 C335.24,413.28 335.59,413.55 335.91,413.85 C336.23,414.15 336.52,414.48 336.77,414.84Z" fill="#7d1f26"/>
<path d="M281.20,437.90 C280.78,435.85 281.28,433.10 281.80,430.70 C282.32,428.30 283.37,425.90 284.30,423.50 C285.23,421.10 286.03,418.45 287.40,416.30 C288.77,414.15 290.78,412.12 292.50,410.60 C294.22,409.08 295.98,408.45 297.70,407.20 C299.42,405.95 301.08,404.63 302.80,403.10 C304.52,401.57 306.28,399.53 308.00,398.00 C309.72,396.47 311.57,395.45 313.10,393.90 C314.63,392.35 315.83,390.42 317.20,388.70 C318.57,386.98 319.75,385.13 321.30,383.60 C322.85,382.07 324.72,380.87 326.50,379.50 C328.28,378.13 330.38,376.43 332.00,375.40 C333.62,374.37 334.30,374.08 336.20,373.30 C338.10,372.52 341.02,371.38 343.40,370.70 C345.78,370.02 348.45,369.70 350.50,369.20 C352.55,368.70 354.15,368.18 355.70,367.70 C357.25,367.22 358.68,366.22 359.80,366.30 C360.92,366.38 361.97,367.03 362.40,368.20 C362.83,369.37 362.32,371.60 362.40,373.30 C362.48,375.00 362.13,376.87 362.90,378.40 C363.67,379.93 365.47,381.12 367.00,382.50 C368.53,383.88 370.57,385.15 372.10,386.70 C373.63,388.25 375.17,390.10 376.20,391.80 C377.23,393.50 378.12,395.18 378.30,396.90 C378.48,398.62 377.92,400.50 377.30,402.10 C376.68,403.70 375.38,405.17 374.60,406.50 C373.82,407.83 372.83,408.47 372.60,410.10 C372.37,411.73 372.42,414.42 373.20,416.30 C373.98,418.18 376.28,419.87 377.30,421.40 C378.32,422.93 379.13,423.95 379.30,425.50 C379.47,427.05 379.15,428.98 378.30,430.70 C377.45,432.42 375.75,434.27 374.20,435.80 C372.65,437.33 370.88,438.62 369.00,439.90 C367.12,441.18 365.28,442.47 362.90,443.50 C360.52,444.53 357.45,445.15 354.70,446.10 C351.95,447.05 349.15,448.27 346.40,449.20 C343.65,450.13 340.93,450.97 338.20,451.70 C335.47,452.43 332.13,453.25 330.00,453.60 C327.87,453.95 327.53,453.85 325.40,453.80 C323.27,453.75 320.10,453.55 317.20,453.30 C314.30,453.05 311.08,452.82 308.00,452.30 C304.92,451.78 301.62,451.07 298.70,450.20 C295.78,449.33 292.90,448.30 290.50,447.10 C288.10,445.90 285.85,444.53 284.30,443.00 C282.75,441.47 281.62,439.95 281.20,437.90Z" fill="none" stroke="#d5848b" stroke-width="1.15" stroke-dasharray="3.8 2.2"/>
<path d="M302.80,433.80 C301.95,431.75 301.62,428.83 301.80,426.60 C301.98,424.37 302.70,422.47 303.90,420.40 C305.10,418.33 307.12,416.05 309.00,414.20 C310.88,412.35 313.37,410.75 315.20,409.30 C317.03,407.85 318.38,406.68 320.00,405.50 C321.62,404.32 323.25,403.30 324.90,402.20 C326.55,401.10 328.25,400.00 329.90,398.90 C331.55,397.80 333.17,396.50 334.80,395.60 C336.43,394.70 338.07,393.92 339.70,393.50 C341.33,393.08 342.95,392.88 344.60,393.10 C346.25,393.32 348.08,393.83 349.60,394.80 C351.12,395.77 352.75,397.40 353.70,398.90 C354.65,400.40 354.90,401.88 355.30,403.80 C355.70,405.72 355.95,407.70 356.10,410.40 C356.25,413.10 356.43,416.65 356.20,420.00 C355.97,423.35 355.82,427.87 354.70,430.50 C353.58,433.13 351.57,434.40 349.50,435.80 C347.43,437.20 344.87,438.13 342.30,438.90 C339.73,439.67 336.20,440.02 334.10,440.40 C332.00,440.78 331.83,441.02 329.70,441.20 C327.57,441.38 324.07,441.53 321.30,441.50 C318.53,441.47 315.50,441.43 313.10,441.00 C310.70,440.57 308.62,440.10 306.90,438.90 C305.18,437.70 303.65,435.85 302.80,433.80Z" fill="none" stroke="#d5848b" stroke-width="1.15" stroke-dasharray="3.8 2.2"/>
<rect x="263.10" y="346.50" width="133.60" height="117.70" fill="none" stroke="#333333" stroke-width="1"/>
<rect x="404.80" y="451.12" width="5.80" height="13.38" fill="#f6ece4"/>
<rect x="404.80" y="438.04" width="5.80" height="13.38" fill="#f1dcd2"/>
<rect x="404.80" y="424.97" width="5.80" height="13.38" fill="#ecc1ae"/>
<rect x="404.80" y="411.89" width="5.80" height="13.38" fill="#e8a18b"/>
<rect x="404.80" y="398.81" width="5.80" height="13.38" fill="#e17c66"/>
<rect x="404.80" y="385.73" width="5.80" height="13.38" fill="#df503d"/>
<rect x="404.80" y="372.66" width="5.80" height="13.38" fill="#cc3030"/>
<rect x="404.80" y="359.58" width="5.80" height="13.38" fill="#a9262c"/>
<rect x="404.80" y="346.50" width="5.80" height="13.38" fill="#7d1f26"/>
<rect x="404.80" y="346.50" width="5.80" height="117.70" fill="none" stroke="#262626" stroke-width="0.8"/>
<line x1="410.60" y1="464.20" x2="413.60" y2="464.20" stroke="#262626" stroke-width="0.8"/>
<text x="416.10" y="466.60" font-size="6.32" text-anchor="start" fill="#262626" stroke="#262626" stroke-width="0.1" textLength="29.58" lengthAdjust="spacingAndGlyphs" >0.000385</text>
<line x1="410.60" y1="451.12" x2="413.60" y2="451.12" stroke="#262626" stroke-width="0.8"/>
<text x="416.10" y="453.52" font-size="6.32" text-anchor="start" fill="#262626" stroke="#262626" stroke-width="0.1" textLength="29.58" lengthAdjust="spacingAndGlyphs" >0.001140</text>
<line x1="410.60" y1="438.04" x2="413.60" y2="438.04" stroke="#262626" stroke-width="0.8"/>
<text x="416.10" y="440.44" font-size="6.32" text-anchor="start" fill="#262626" stroke="#262626" stroke-width="0.1" textLength="29.58" lengthAdjust="spacingAndGlyphs" >0.001853</text>
<line x1="410.60" y1="424.97" x2="413.60" y2="424.97" stroke="#262626" stroke-width="0.8"/>
<text x="416.10" y="427.37" font-size="6.32" text-anchor="start" fill="#262626" stroke="#262626" stroke-width="0.1" textLength="29.58" lengthAdjust="spacingAndGlyphs" >0.002649</text>
<line x1="410.60" y1="411.89" x2="413.60" y2="411.89" stroke="#262626" stroke-width="0.8"/>
<text x="416.10" y="414.29" font-size="6.32" text-anchor="start" fill="#262626" stroke="#262626" stroke-width="0.1" textLength="29.58" lengthAdjust="spacingAndGlyphs" >0.003442</text>
<line x1="410.60" y1="398.81" x2="413.60" y2="398.81" stroke="#262626" stroke-width="0.8"/>
<text x="416.10" y="401.21" font-size="6.32" text-anchor="start" fill="#262626" stroke="#262626" stroke-width="0.1" textLength="29.58" lengthAdjust="spacingAndGlyphs" >0.004245</text>
<line x1="410.60" y1="385.73" x2="413.60" y2="385.73" stroke="#262626" stroke-width="0.8"/>
<text x="416.10" y="388.13" font-size="6.32" text-anchor="start" fill="#262626" stroke="#262626" stroke-width="0.1" textLength="29.58" lengthAdjust="spacingAndGlyphs" >0.005032</text>
<line x1="410.60" y1="372.66" x2="413.60" y2="372.66" stroke="#262626" stroke-width="0.8"/>
<text x="416.10" y="375.06" font-size="6.32" text-anchor="start" fill="#262626" stroke="#262626" stroke-width="0.1" textLength="29.58" lengthAdjust="spacingAndGlyphs" >0.005811</text>
<line x1="410.60" y1="359.58" x2="413.60" y2="359.58" stroke="#262626" stroke-width="0.8"/>
<text x="416.10" y="361.98" font-size="6.32" text-anchor="start" fill="#262626" stroke="#262626" stroke-width="0.1" textLength="29.58" lengthAdjust="spacingAndGlyphs" >0.006620</text>
<line x1="410.60" y1="346.50" x2="413.60" y2="346.50" stroke="#262626" stroke-width="0.8"/>
<text x="416.10" y="348.90" font-size="6.32" text-anchor="start" fill="#262626" stroke="#262626" stroke-width="0.1" textLength="29.58" lengthAdjust="spacingAndGlyphs" >0.007556</text>
<text x="455.00" y="405.35" font-size="8.16" text-anchor="middle" fill="#262626" stroke="#262626" stroke-width="0.1" textLength="30.41" lengthAdjust="spacingAndGlyphs" transform="rotate(-90 455.00 405.35)" >Density</text>
<text x="509.21" y="475.30" font-size="6.32" text-anchor="middle" fill="#262626" stroke="#262626" stroke-width="0.1" textLength="7.89" lengthAdjust="spacingAndGlyphs" >40</text>
<text x="542.32" y="475.30" font-size="6.32" text-anchor="middle" fill="#262626" stroke="#262626" stroke-width="0.1" textLength="7.89" lengthAdjust="spacingAndGlyphs" >60</text>
<text x="575.43" y="475.30" font-size="6.32" text-anchor="middle" fill="#262626" stroke="#262626" stroke-width="0.1" textLength="7.89" lengthAdjust="spacingAndGlyphs" >80</text>
<text x="608.54" y="475.30" font-size="6.32" text-anchor="middle" fill="#262626" stroke="#262626" stroke-width="0.1" textLength="11.83" lengthAdjust="spacingAndGlyphs" >100</text>
<g><text x="519.35" y="484.90" font-size="6.32" fill="#262626" stroke="#262626" stroke-width="0.1" textLength="72.60" lengthAdjust="spacingAndGlyphs">Sensible Heat Flux (10</text><text x="593.35" y="482.37" font-size="3.92" fill="#262626" stroke="#262626" stroke-width="0.1">9</text><text x="597.05" y="484.90" font-size="6.32" fill="#262626" stroke="#262626" stroke-width="0.1">)</text></g>
<text x="487.40" y="466.60" font-size="6.32" text-anchor="end" fill="#262626" stroke="#262626" stroke-width="0.1" textLength="3.94" lengthAdjust="spacingAndGlyphs" >6</text>
<text x="487.40" y="443.06" font-size="6.32" text-anchor="end" fill="#262626" stroke="#262626" stroke-width="0.1" textLength="3.94" lengthAdjust="spacingAndGlyphs" >8</text>
<text x="487.40" y="419.52" font-size="6.32" text-anchor="end" fill="#262626" stroke="#262626" stroke-width="0.1" textLength="7.89" lengthAdjust="spacingAndGlyphs" >10</text>
<text x="487.40" y="395.98" font-size="6.32" text-anchor="end" fill="#262626" stroke="#262626" stroke-width="0.1" textLength="7.89" lengthAdjust="spacingAndGlyphs" >12</text>
<text x="487.40" y="372.44" font-size="6.32" text-anchor="end" fill="#262626" stroke="#262626" stroke-width="0.1" textLength="7.89" lengthAdjust="spacingAndGlyphs" >14</text>
<text x="487.40" y="348.90" font-size="6.32" text-anchor="end" fill="#262626" stroke="#262626" stroke-width="0.1" textLength="7.89" lengthAdjust="spacingAndGlyphs" >16</text>
<g transform="rotate(-90 475.70 405.35)"><text x="438.05" y="405.35" font-size="6.32" fill="#262626" stroke="#262626" stroke-width="0.1" textLength="68.90" lengthAdjust="spacingAndGlyphs">Latent Heat Flux (10</text><text x="508.35" y="402.82" font-size="3.92" fill="#262626" stroke="#262626" stroke-width="0.1">8</text><text x="512.05" y="405.35" font-size="6.32" fill="#262626" stroke="#262626" stroke-width="0.1">)</text></g>
<text x="495.40" y="358.30" font-size="8.40" text-anchor="start" fill="#1a1a1a" stroke="#1a1a1a" stroke-width="0.1" textLength="8.89" lengthAdjust="spacingAndGlyphs" >(i)</text>
<path d="M504.20,435.80 C504.38,433.73 506.10,430.82 507.30,428.60 C508.50,426.38 509.87,424.55 511.40,422.50 C512.93,420.45 514.78,418.37 516.50,416.30 C518.22,414.23 520.15,412.03 521.70,410.10 C523.25,408.17 524.60,406.55 525.80,404.70 C527.00,402.85 527.70,400.55 528.90,399.00 C530.10,397.45 531.47,396.58 533.00,395.40 C534.53,394.22 536.57,393.00 538.10,391.90 C539.63,390.80 540.83,390.18 542.20,388.80 C543.57,387.42 544.75,385.32 546.30,383.60 C547.85,381.88 549.88,379.90 551.50,378.50 C553.12,377.10 554.57,376.23 556.00,375.20 C557.43,374.17 558.55,373.47 560.10,372.30 C561.65,371.13 563.58,369.30 565.30,368.20 C567.02,367.10 568.70,365.95 570.40,365.70 C572.10,365.45 573.78,366.12 575.50,366.70 C577.22,367.28 578.98,368.68 580.70,369.20 C582.42,369.72 583.92,369.88 585.80,369.80 C587.68,369.72 590.12,369.05 592.00,368.70 C593.88,368.35 595.82,367.43 597.10,367.70 C598.38,367.97 599.35,368.85 599.70,370.30 C600.05,371.75 598.77,374.70 599.20,376.40 C599.63,378.10 600.93,379.12 602.30,380.50 C603.67,381.88 606.03,382.98 607.40,384.70 C608.77,386.42 609.57,388.75 610.50,390.80 C611.43,392.85 612.17,395.13 613.00,397.00 C613.83,398.87 614.97,400.17 615.50,402.00 C616.03,403.83 616.28,406.13 616.20,408.00 C616.12,409.87 615.62,411.30 615.00,413.20 C614.38,415.10 613.60,417.35 612.50,419.40 C611.40,421.45 609.93,423.62 608.40,425.50 C606.87,427.38 605.18,428.98 603.30,430.70 C601.42,432.42 599.33,434.27 597.10,435.80 C594.87,437.33 592.47,438.70 589.90,439.90 C587.33,441.10 584.43,442.05 581.70,443.00 C578.97,443.95 576.23,444.92 573.50,445.60 C570.77,446.28 568.03,446.58 565.30,447.10 C562.57,447.62 559.92,448.27 557.10,448.70 C554.28,449.13 551.57,449.53 548.40,449.70 C545.23,449.87 541.35,449.95 538.10,449.70 C534.85,449.45 531.82,448.80 528.90,448.20 C525.98,447.60 523.35,446.70 520.60,446.10 C517.85,445.50 514.80,445.45 512.40,444.60 C510.00,443.75 507.57,442.47 506.20,441.00 C504.83,439.53 504.02,437.87 504.20,435.80Z" fill="#f6ece4"/>
<path d="M515.50,432.70 C514.82,430.82 515.47,428.98 516.50,426.60 C517.53,424.22 519.63,420.97 521.70,418.40 C523.77,415.83 527.02,413.10 528.90,411.20 C530.78,409.30 531.47,408.33 533.00,407.00 C534.53,405.67 536.22,404.87 538.10,403.20 C539.98,401.53 542.25,398.72 544.30,397.00 C546.35,395.28 548.53,394.23 550.40,392.90 C552.27,391.57 554.05,390.20 555.50,389.00 C556.95,387.80 557.47,386.77 559.10,385.70 C560.73,384.63 562.57,383.28 565.30,382.60 C568.03,381.92 572.60,381.60 575.50,381.60 C578.40,381.60 580.63,381.58 582.70,382.60 C584.77,383.62 586.18,385.82 587.90,387.70 C589.62,389.58 591.28,391.67 593.00,393.90 C594.72,396.13 596.78,398.92 598.20,401.10 C599.62,403.28 600.48,404.63 601.50,407.00 C602.52,409.37 604.00,412.38 604.30,415.30 C604.60,418.22 604.32,422.10 603.30,424.50 C602.28,426.90 600.25,427.98 598.20,429.70 C596.15,431.42 593.75,433.43 591.00,434.80 C588.25,436.17 585.13,436.97 581.70,437.90 C578.27,438.83 574.00,439.72 570.40,440.40 C566.80,441.08 563.77,441.40 560.10,442.00 C556.43,442.60 552.07,443.83 548.40,444.00 C544.73,444.17 541.35,443.50 538.10,443.00 C534.85,442.50 531.82,441.85 528.90,441.00 C525.98,440.15 522.83,439.28 520.60,437.90 C518.37,436.52 516.18,434.58 515.50,432.70Z" fill="#f1dcd2"/>
<path d="M523.70,432.70 C522.75,430.98 522.68,429.65 523.20,427.60 C523.72,425.55 525.00,422.97 526.80,420.40 C528.60,417.83 531.72,414.27 534.00,412.20 C536.28,410.13 538.62,409.37 540.50,408.00 C542.38,406.63 543.65,405.15 545.30,404.00 C546.95,402.85 548.45,402.27 550.40,401.10 C552.35,399.93 555.20,398.20 557.00,397.00 C558.80,395.80 559.30,395.10 561.20,393.90 C563.10,392.70 566.02,390.73 568.40,389.80 C570.78,388.87 573.28,388.30 575.50,388.30 C577.72,388.30 579.63,388.70 581.70,389.80 C583.77,390.90 586.18,393.02 587.90,394.90 C589.62,396.78 591.07,398.92 592.00,401.10 C592.93,403.28 593.17,405.63 593.50,408.00 C593.83,410.37 593.82,413.07 594.00,415.30 C594.18,417.53 595.45,419.35 594.60,421.40 C593.75,423.45 591.05,425.72 588.90,427.60 C586.75,429.48 584.62,431.33 581.70,432.70 C578.78,434.07 575.00,434.93 571.40,435.80 C567.80,436.67 563.93,437.03 560.10,437.90 C556.27,438.77 552.07,440.58 548.40,441.00 C544.73,441.42 541.35,440.92 538.10,440.40 C534.85,439.88 531.30,439.18 528.90,437.90 C526.50,436.62 524.65,434.42 523.70,432.70Z" fill="#ecc1ae"/>
<path d="M587.62,421.70 C587.50,422.60 587.08,423.51 586.72,424.37 C586.35,425.23 585.96,426.08 585.45,426.86 C584.95,427.64 584.45,428.43 583.69,429.07 C582.92,429.70 581.74,430.18 580.86,430.68 C579.99,431.18 579.24,431.66 578.43,432.07 C577.62,432.47 576.78,432.81 575.98,433.12 C575.18,433.43 574.37,433.66 573.64,433.91 C572.91,434.16 572.24,434.39 571.58,434.61 C570.93,434.83 570.33,435.04 569.73,435.23 C569.14,435.43 568.58,435.63 568.02,435.78 C567.45,435.94 566.87,436.04 566.33,436.17 C565.79,436.29 565.27,436.41 564.76,436.52 C564.25,436.64 563.76,436.75 563.27,436.86 C562.78,436.97 562.31,437.08 561.84,437.19 C561.36,437.29 560.90,437.40 560.43,437.50 C559.97,437.61 559.51,437.69 559.04,437.82 C558.58,437.95 558.12,438.13 557.65,438.28 C557.18,438.44 556.70,438.60 556.20,438.76 C555.70,438.92 555.20,439.09 554.66,439.26 C554.13,439.44 553.58,439.64 553.01,439.81 C552.43,439.98 551.81,440.21 551.22,440.28 C550.63,440.34 550.07,440.21 549.48,440.17 C548.88,440.14 548.27,440.10 547.64,440.06 C547.00,440.02 546.36,439.98 545.67,439.94 C544.98,439.90 544.23,439.91 543.52,439.81 C542.81,439.71 542.13,439.51 541.40,439.34 C540.67,439.16 539.92,438.97 539.12,438.78 C538.32,438.58 537.38,438.45 536.59,438.16 C535.79,437.86 535.00,437.48 534.35,437.00 C533.70,436.52 533.24,435.87 532.67,435.28 C532.10,434.70 531.38,434.16 530.92,433.49 C530.45,432.82 530.11,432.05 529.89,431.28 C529.66,430.50 529.66,429.64 529.55,428.84 C529.44,428.04 529.19,427.26 529.22,426.46 C529.24,425.65 529.45,424.81 529.70,424.02 C529.94,423.23 530.36,422.45 530.68,421.70 C530.99,420.95 531.23,420.23 531.59,419.55 C531.94,418.86 532.34,418.19 532.79,417.57 C533.24,416.95 533.81,416.39 534.29,415.83 C534.77,415.27 535.23,414.74 535.67,414.23 C536.11,413.71 536.54,413.22 536.96,412.73 C537.38,412.24 537.75,411.74 538.19,411.30 C538.63,410.86 539.15,410.48 539.62,410.09 C540.09,409.70 540.54,409.32 540.99,408.94 C541.44,408.56 541.88,408.19 542.32,407.82 C542.76,407.45 543.18,407.06 543.63,406.72 C544.09,406.39 544.57,406.07 545.08,405.81 C545.58,405.55 546.13,405.38 546.65,405.17 C547.17,404.95 547.68,404.74 548.20,404.53 C548.71,404.32 549.22,404.14 549.72,403.91 C550.23,403.67 550.71,403.40 551.22,403.10 C551.72,402.80 552.22,402.45 552.74,402.10 C553.27,401.76 553.82,401.40 554.39,401.02 C554.97,400.65 555.57,400.18 556.20,399.84 C556.83,399.50 557.50,399.25 558.19,398.96 C558.88,398.67 559.60,398.39 560.36,398.08 C561.13,397.77 561.93,397.43 562.79,397.10 C563.65,396.76 564.56,396.41 565.53,396.08 C566.50,395.74 567.60,395.25 568.61,395.09 C569.62,394.92 570.53,395.09 571.56,395.09 C572.60,395.09 573.79,394.95 574.83,395.09 C575.88,395.23 576.81,395.61 577.83,395.93 C578.84,396.24 579.97,396.51 580.92,396.98 C581.88,397.45 582.74,398.08 583.57,398.73 C584.40,399.39 585.28,400.07 585.91,400.90 C586.54,401.73 587.04,402.70 587.36,403.71 C587.67,404.72 587.71,405.89 587.81,406.96 C587.91,408.03 588.00,409.08 587.96,410.14 C587.92,411.19 587.67,412.28 587.56,413.30 C587.46,414.31 587.33,415.27 587.32,416.21 C587.30,417.16 587.42,418.05 587.47,418.96 C587.52,419.88 587.75,420.80 587.62,421.70Z" fill="#e8a18b"/>
<path d="M582.78,421.70 C582.66,422.46 582.32,423.23 582.01,423.96 C581.70,424.68 581.36,425.40 580.93,426.06 C580.51,426.72 580.10,427.39 579.47,427.94 C578.84,428.48 577.88,428.89 577.16,429.33 C576.44,429.76 575.82,430.18 575.15,430.54 C574.48,430.90 573.79,431.20 573.13,431.48 C572.47,431.75 571.80,431.97 571.19,432.20 C570.58,432.42 570.02,432.64 569.48,432.84 C568.93,433.04 568.42,433.24 567.92,433.42 C567.42,433.60 566.94,433.78 566.46,433.93 C565.98,434.08 565.50,434.19 565.03,434.31 C564.57,434.44 564.12,434.55 563.68,434.66 C563.25,434.78 562.82,434.89 562.40,435.00 C561.98,435.11 561.57,435.21 561.16,435.32 C560.75,435.42 560.34,435.52 559.93,435.62 C559.52,435.73 559.12,435.81 558.71,435.93 C558.30,436.05 557.90,436.21 557.48,436.34 C557.06,436.48 556.64,436.62 556.20,436.76 C555.76,436.91 555.31,437.05 554.84,437.20 C554.37,437.35 553.89,437.51 553.39,437.65 C552.88,437.80 552.34,438.00 551.82,438.05 C551.30,438.10 550.81,438.00 550.28,437.97 C549.75,437.94 549.21,437.91 548.66,437.88 C548.10,437.84 547.53,437.80 546.93,437.75 C546.33,437.71 545.68,437.70 545.06,437.60 C544.45,437.51 543.86,437.33 543.22,437.16 C542.59,437.00 541.95,436.82 541.27,436.63 C540.59,436.44 539.81,436.30 539.13,436.02 C538.46,435.74 537.80,435.40 537.25,434.97 C536.70,434.54 536.31,433.97 535.84,433.46 C535.36,432.94 534.78,432.45 534.39,431.87 C534.01,431.28 533.73,430.62 533.54,429.95 C533.36,429.28 533.36,428.54 533.27,427.84 C533.19,427.15 533.00,426.48 533.03,425.79 C533.06,425.09 533.23,424.37 533.44,423.69 C533.64,423.01 534.00,422.34 534.27,421.70 C534.53,421.06 534.74,420.44 535.04,419.85 C535.34,419.26 535.69,418.68 536.07,418.15 C536.45,417.62 536.92,417.12 537.33,416.64 C537.73,416.16 538.12,415.70 538.50,415.26 C538.88,414.81 539.24,414.38 539.60,413.96 C539.96,413.54 540.28,413.11 540.66,412.73 C541.04,412.35 541.49,412.02 541.89,411.68 C542.29,411.34 542.67,411.00 543.06,410.68 C543.45,410.35 543.83,410.03 544.21,409.71 C544.59,409.39 544.95,409.06 545.35,408.77 C545.74,408.47 546.15,408.20 546.58,407.97 C547.02,407.74 547.49,407.58 547.94,407.39 C548.38,407.20 548.82,407.01 549.26,406.82 C549.70,406.64 550.15,406.47 550.58,406.26 C551.02,406.05 551.44,405.83 551.88,405.57 C552.32,405.32 552.75,405.02 553.21,404.73 C553.67,404.44 554.14,404.14 554.64,403.83 C555.14,403.52 555.65,403.14 556.20,402.86 C556.75,402.57 557.32,402.36 557.91,402.12 C558.51,401.88 559.12,401.66 559.78,401.40 C560.44,401.15 561.12,400.87 561.85,400.60 C562.58,400.34 563.35,400.06 564.17,399.80 C564.99,399.53 565.92,399.15 566.78,399.02 C567.63,398.90 568.40,399.04 569.28,399.05 C570.15,399.07 571.15,398.97 572.03,399.10 C572.91,399.23 573.70,399.55 574.56,399.82 C575.41,400.10 576.35,400.35 577.15,400.75 C577.95,401.15 578.68,401.69 579.38,402.25 C580.08,402.81 580.82,403.39 581.35,404.09 C581.88,404.80 582.30,405.62 582.57,406.47 C582.84,407.33 582.89,408.31 582.99,409.21 C583.09,410.11 583.18,411.00 583.15,411.89 C583.13,412.78 582.93,413.70 582.84,414.56 C582.75,415.42 582.65,416.24 582.63,417.04 C582.61,417.84 582.69,418.60 582.72,419.38 C582.74,420.16 582.90,420.94 582.78,421.70Z" fill="#e17c66"/>
<path d="M578.40,421.70 C578.29,422.34 578.01,422.98 577.75,423.59 C577.49,424.19 577.20,424.79 576.85,425.34 C576.50,425.90 576.16,426.45 575.65,426.91 C575.15,427.37 574.38,427.73 573.80,428.11 C573.22,428.48 572.73,428.84 572.19,429.15 C571.64,429.47 571.09,429.74 570.55,429.99 C570.02,430.23 569.47,430.44 568.97,430.64 C568.48,430.85 568.02,431.05 567.57,431.24 C567.12,431.43 566.69,431.61 566.28,431.78 C565.86,431.94 565.46,432.11 565.06,432.26 C564.65,432.40 564.25,432.52 563.86,432.64 C563.47,432.76 563.09,432.87 562.71,432.98 C562.34,433.09 561.98,433.20 561.61,433.31 C561.25,433.42 560.90,433.53 560.54,433.63 C560.19,433.73 559.83,433.83 559.48,433.93 C559.12,434.02 558.77,434.11 558.41,434.22 C558.05,434.33 557.70,434.47 557.33,434.59 C556.96,434.71 556.59,434.83 556.20,434.96 C555.81,435.08 555.42,435.21 555.01,435.34 C554.60,435.46 554.17,435.59 553.73,435.71 C553.29,435.82 552.81,435.99 552.36,436.03 C551.91,436.08 551.47,435.99 551.01,435.97 C550.54,435.95 550.07,435.94 549.58,435.90 C549.09,435.87 548.59,435.82 548.08,435.77 C547.56,435.72 546.99,435.70 546.46,435.61 C545.93,435.51 545.41,435.35 544.87,435.20 C544.33,435.04 543.79,434.87 543.22,434.68 C542.65,434.50 542.00,434.34 541.44,434.09 C540.88,433.83 540.32,433.52 539.87,433.14 C539.41,432.75 539.09,432.26 538.70,431.80 C538.32,431.35 537.85,430.91 537.54,430.40 C537.23,429.89 537.00,429.32 536.85,428.74 C536.70,428.17 536.70,427.53 536.64,426.94 C536.58,426.35 536.45,425.77 536.48,425.18 C536.51,424.59 536.65,423.97 536.82,423.40 C537.00,422.82 537.29,422.25 537.52,421.70 C537.74,421.15 537.91,420.63 538.17,420.12 C538.42,419.62 538.72,419.13 539.04,418.67 C539.35,418.22 539.73,417.79 540.07,417.38 C540.41,416.96 540.74,416.57 541.06,416.19 C541.38,415.81 541.69,415.44 542.00,415.08 C542.30,414.72 542.58,414.35 542.90,414.02 C543.23,413.70 543.60,413.41 543.94,413.11 C544.28,412.82 544.60,412.53 544.93,412.25 C545.26,411.96 545.59,411.69 545.92,411.42 C546.25,411.15 546.56,410.86 546.90,410.61 C547.23,410.36 547.58,410.12 547.95,409.92 C548.32,409.71 548.72,409.57 549.10,409.40 C549.48,409.23 549.85,409.06 550.23,408.89 C550.60,408.73 550.98,408.57 551.36,408.39 C551.73,408.21 552.10,408.02 552.48,407.81 C552.86,407.60 553.23,407.35 553.63,407.11 C554.02,406.87 554.43,406.62 554.86,406.37 C555.29,406.12 555.73,405.82 556.20,405.58 C556.67,405.35 557.15,405.17 557.66,404.98 C558.17,404.78 558.69,404.61 559.25,404.41 C559.81,404.21 560.39,403.98 561.00,403.78 C561.62,403.57 562.26,403.36 562.95,403.16 C563.63,402.97 564.41,402.67 565.12,402.58 C565.83,402.49 566.48,402.61 567.20,402.64 C567.93,402.66 568.75,402.61 569.49,402.73 C570.22,402.84 570.89,403.11 571.60,403.35 C572.30,403.59 573.07,403.82 573.74,404.16 C574.40,404.51 575.01,404.96 575.59,405.43 C576.17,405.90 576.77,406.39 577.22,406.98 C577.66,407.57 578.01,408.26 578.24,408.97 C578.48,409.68 578.54,410.49 578.63,411.24 C578.72,411.99 578.81,412.73 578.80,413.48 C578.79,414.22 578.63,414.99 578.57,415.71 C578.50,416.43 578.41,417.11 578.38,417.79 C578.36,418.46 578.42,419.10 578.42,419.76 C578.42,420.41 578.51,421.06 578.40,421.70Z" fill="#df503d"/>
<path d="M574.02,421.70 C573.92,422.21 573.70,422.73 573.49,423.21 C573.28,423.70 573.04,424.17 572.76,424.62 C572.48,425.07 572.22,425.51 571.84,425.89 C571.45,426.27 570.88,426.57 570.45,426.89 C570.01,427.20 569.63,427.50 569.22,427.77 C568.81,428.04 568.38,428.28 567.97,428.50 C567.56,428.72 567.14,428.90 566.76,429.09 C566.37,429.28 566.02,429.47 565.66,429.64 C565.31,429.82 564.97,429.98 564.63,430.13 C564.30,430.29 563.98,430.44 563.65,430.58 C563.33,430.72 563.00,430.84 562.69,430.96 C562.37,431.08 562.05,431.19 561.74,431.30 C561.43,431.41 561.13,431.52 560.83,431.62 C560.53,431.73 560.23,431.84 559.93,431.94 C559.63,432.04 559.32,432.13 559.02,432.23 C558.72,432.32 558.41,432.41 558.11,432.51 C557.80,432.62 557.49,432.73 557.17,432.84 C556.86,432.94 556.53,433.04 556.20,433.15 C555.87,433.25 555.52,433.37 555.17,433.47 C554.82,433.57 554.45,433.67 554.07,433.76 C553.70,433.85 553.29,433.98 552.90,434.02 C552.51,434.05 552.13,433.99 551.73,433.98 C551.33,433.96 550.92,433.96 550.50,433.93 C550.08,433.90 549.66,433.84 549.22,433.79 C548.78,433.74 548.31,433.71 547.86,433.61 C547.41,433.52 546.97,433.38 546.52,433.23 C546.07,433.09 545.63,432.91 545.17,432.73 C544.70,432.55 544.19,432.39 543.74,432.15 C543.30,431.91 542.85,431.63 542.49,431.30 C542.13,430.97 541.87,430.54 541.57,430.15 C541.27,429.75 540.92,429.37 540.69,428.93 C540.45,428.50 540.27,428.02 540.16,427.54 C540.05,427.06 540.05,426.53 540.01,426.04 C539.97,425.54 539.90,425.06 539.93,424.57 C539.96,424.08 540.07,423.58 540.21,423.10 C540.35,422.62 540.58,422.15 540.76,421.70 C540.94,421.25 541.09,420.81 541.29,420.40 C541.50,419.98 541.75,419.58 542.00,419.20 C542.25,418.82 542.54,418.46 542.82,418.11 C543.09,417.77 543.36,417.44 543.62,417.12 C543.89,416.80 544.14,416.49 544.39,416.19 C544.64,415.89 544.88,415.59 545.14,415.32 C545.41,415.04 545.71,414.80 545.99,414.55 C546.27,414.30 546.53,414.05 546.81,413.82 C547.08,413.58 547.36,413.36 547.63,413.13 C547.90,412.90 548.16,412.67 548.45,412.46 C548.73,412.25 549.01,412.04 549.31,411.86 C549.62,411.69 549.95,411.56 550.26,411.41 C550.57,411.26 550.88,411.11 551.19,410.97 C551.51,410.82 551.82,410.68 552.13,410.53 C552.45,410.37 552.76,410.22 553.08,410.05 C553.40,409.87 553.71,409.67 554.05,409.48 C554.38,409.29 554.72,409.10 555.08,408.91 C555.44,408.71 555.81,408.49 556.20,408.31 C556.59,408.13 556.99,407.99 557.41,407.84 C557.83,407.69 558.26,407.56 558.72,407.41 C559.18,407.27 559.65,407.09 560.15,406.95 C560.65,406.80 561.17,406.67 561.72,406.53 C562.27,406.40 562.89,406.19 563.46,406.14 C564.02,406.09 564.55,406.19 565.13,406.23 C565.72,406.26 566.36,406.24 566.95,406.35 C567.53,406.46 568.07,406.67 568.64,406.88 C569.20,407.08 569.80,407.29 570.32,407.58 C570.85,407.87 571.33,408.23 571.79,408.62 C572.25,409.00 572.73,409.40 573.09,409.88 C573.44,410.35 573.72,410.91 573.91,411.47 C574.11,412.04 574.18,412.68 574.27,413.27 C574.36,413.87 574.44,414.46 574.44,415.06 C574.45,415.66 574.34,416.27 574.29,416.85 C574.24,417.43 574.17,417.99 574.14,418.54 C574.11,419.08 574.14,419.60 574.12,420.13 C574.10,420.66 574.12,421.19 574.02,421.70Z" fill="#cc3030"/>
<path d="M569.41,421.70 C569.31,422.08 569.17,422.46 569.01,422.82 C568.85,423.18 568.66,423.53 568.46,423.86 C568.26,424.19 568.08,424.52 567.82,424.81 C567.57,425.10 567.20,425.35 566.92,425.60 C566.63,425.85 566.37,426.09 566.10,426.32 C565.82,426.54 565.54,426.74 565.26,426.93 C564.98,427.12 564.69,427.29 564.42,427.46 C564.16,427.63 563.91,427.80 563.66,427.96 C563.40,428.12 563.15,428.26 562.90,428.40 C562.65,428.55 562.41,428.68 562.17,428.82 C561.93,428.95 561.69,429.08 561.45,429.20 C561.21,429.32 560.96,429.42 560.72,429.52 C560.48,429.63 560.24,429.74 560.00,429.85 C559.76,429.96 559.52,430.07 559.28,430.16 C559.04,430.26 558.79,430.34 558.54,430.44 C558.29,430.53 558.04,430.62 557.79,430.71 C557.53,430.81 557.28,430.90 557.01,430.99 C556.75,431.08 556.48,431.16 556.20,431.25 C555.92,431.33 555.64,431.43 555.34,431.51 C555.05,431.58 554.75,431.64 554.44,431.71 C554.12,431.77 553.79,431.87 553.47,431.90 C553.14,431.93 552.83,431.89 552.50,431.88 C552.16,431.87 551.81,431.88 551.47,431.85 C551.12,431.82 550.78,431.76 550.42,431.71 C550.07,431.65 549.69,431.60 549.33,431.51 C548.97,431.42 548.61,431.30 548.26,431.17 C547.90,431.03 547.56,430.86 547.21,430.69 C546.87,430.51 546.50,430.34 546.17,430.12 C545.84,429.90 545.51,429.65 545.25,429.37 C544.99,429.08 544.79,428.74 544.58,428.41 C544.38,428.08 544.15,427.75 544.00,427.39 C543.84,427.03 543.72,426.65 543.64,426.27 C543.57,425.89 543.57,425.48 543.56,425.09 C543.54,424.70 543.52,424.31 543.56,423.93 C543.59,423.55 543.67,423.16 543.77,422.79 C543.87,422.42 544.05,422.05 544.18,421.70 C544.32,421.35 544.43,421.01 544.58,420.68 C544.74,420.36 544.93,420.05 545.12,419.75 C545.31,419.45 545.51,419.16 545.70,418.89 C545.90,418.61 546.12,418.36 546.32,418.10 C546.52,417.85 546.71,417.60 546.91,417.37 C547.10,417.13 547.29,416.89 547.50,416.68 C547.71,416.46 547.94,416.26 548.15,416.06 C548.36,415.86 548.56,415.66 548.78,415.47 C548.99,415.28 549.21,415.11 549.43,414.93 C549.65,414.75 549.86,414.57 550.08,414.40 C550.30,414.23 550.51,414.06 550.75,413.91 C550.98,413.77 551.24,413.66 551.48,413.53 C551.73,413.40 551.97,413.27 552.21,413.15 C552.46,413.02 552.70,412.89 552.95,412.77 C553.20,412.64 553.45,412.53 553.71,412.40 C553.96,412.27 554.22,412.12 554.49,411.98 C554.75,411.85 555.03,411.71 555.31,411.58 C555.60,411.45 555.89,411.31 556.20,411.18 C556.51,411.06 556.82,410.95 557.15,410.85 C557.48,410.75 557.81,410.67 558.16,410.58 C558.51,410.49 558.88,410.37 559.26,410.29 C559.64,410.20 560.02,410.14 560.43,410.08 C560.84,410.01 561.29,409.90 561.71,409.89 C562.13,409.87 562.53,409.95 562.95,410.00 C563.38,410.05 563.85,410.07 564.27,410.17 C564.70,410.27 565.11,410.42 565.52,410.59 C565.93,410.76 566.35,410.94 566.73,411.17 C567.11,411.40 567.46,411.68 567.80,411.97 C568.13,412.26 568.48,412.56 568.74,412.92 C569.00,413.28 569.20,413.69 569.36,414.10 C569.51,414.52 569.60,414.98 569.68,415.41 C569.76,415.85 569.84,416.29 569.86,416.73 C569.88,417.17 569.82,417.63 569.79,418.06 C569.76,418.49 569.71,418.91 569.68,419.32 C569.64,419.74 569.64,420.13 569.59,420.53 C569.55,420.92 569.51,421.32 569.41,421.70Z" fill="#a9262c"/>
<path d="M564.39,415.96 C564.62,416.30 564.82,416.66 564.96,417.05 C565.11,417.43 565.21,417.85 565.27,418.27 C565.33,418.70 565.34,419.15 565.30,419.60 C565.27,420.05 565.18,420.52 565.06,420.99 C564.93,421.46 564.75,421.94 564.54,422.41 C564.33,422.87 564.07,423.34 563.77,423.80 C563.48,424.25 563.14,424.70 562.77,425.13 C562.41,425.55 562.00,425.97 561.58,426.35 C561.15,426.74 560.69,427.10 560.22,427.43 C559.74,427.77 559.24,428.07 558.73,428.34 C558.22,428.61 557.70,428.85 557.17,429.05 C556.65,429.25 556.11,429.41 555.58,429.53 C555.05,429.66 554.52,429.74 554.01,429.78 C553.50,429.82 552.99,429.82 552.51,429.78 C552.02,429.74 551.55,429.66 551.11,429.53 C550.68,429.41 550.26,429.25 549.88,429.05 C549.50,428.85 549.14,428.61 548.83,428.34 C548.52,428.08 548.24,427.77 548.01,427.44 C547.78,427.10 547.58,426.74 547.44,426.35 C547.29,425.97 547.19,425.55 547.13,425.13 C547.07,424.70 547.06,424.25 547.10,423.80 C547.13,423.35 547.22,422.88 547.34,422.41 C547.47,421.94 547.65,421.46 547.86,420.99 C548.07,420.53 548.33,420.06 548.63,419.60 C548.92,419.15 549.26,418.70 549.63,418.27 C549.99,417.85 550.40,417.43 550.82,417.05 C551.25,416.66 551.71,416.30 552.18,415.97 C552.66,415.63 553.16,415.33 553.67,415.06 C554.18,414.79 554.70,414.55 555.23,414.35 C555.75,414.15 556.29,413.99 556.82,413.87 C557.35,413.74 557.88,413.66 558.39,413.62 C558.90,413.58 559.41,413.58 559.89,413.62 C560.38,413.66 560.85,413.74 561.29,413.87 C561.72,413.99 562.14,414.15 562.52,414.35 C562.90,414.55 563.26,414.79 563.57,415.06 C563.88,415.32 564.16,415.63 564.39,415.96Z" fill="#7d1f26"/>
<path d="M504.20,435.80 C504.38,433.73 506.10,430.82 507.30,428.60 C508.50,426.38 509.87,424.55 511.40,422.50 C512.93,420.45 514.78,418.37 516.50,416.30 C518.22,414.23 520.15,412.03 521.70,410.10 C523.25,408.17 524.60,406.55 525.80,404.70 C527.00,402.85 527.70,400.55 528.90,399.00 C530.10,397.45 531.47,396.58 533.00,395.40 C534.53,394.22 536.57,393.00 538.10,391.90 C539.63,390.80 540.83,390.18 542.20,388.80 C543.57,387.42 544.75,385.32 546.30,383.60 C547.85,381.88 549.88,379.90 551.50,378.50 C553.12,377.10 554.57,376.23 556.00,375.20 C557.43,374.17 558.55,373.47 560.10,372.30 C561.65,371.13 563.58,369.30 565.30,368.20 C567.02,367.10 568.70,365.95 570.40,365.70 C572.10,365.45 573.78,366.12 575.50,366.70 C577.22,367.28 578.98,368.68 580.70,369.20 C582.42,369.72 583.92,369.88 585.80,369.80 C587.68,369.72 590.12,369.05 592.00,368.70 C593.88,368.35 595.82,367.43 597.10,367.70 C598.38,367.97 599.35,368.85 599.70,370.30 C600.05,371.75 598.77,374.70 599.20,376.40 C599.63,378.10 600.93,379.12 602.30,380.50 C603.67,381.88 606.03,382.98 607.40,384.70 C608.77,386.42 609.57,388.75 610.50,390.80 C611.43,392.85 612.17,395.13 613.00,397.00 C613.83,398.87 614.97,400.17 615.50,402.00 C616.03,403.83 616.28,406.13 616.20,408.00 C616.12,409.87 615.62,411.30 615.00,413.20 C614.38,415.10 613.60,417.35 612.50,419.40 C611.40,421.45 609.93,423.62 608.40,425.50 C606.87,427.38 605.18,428.98 603.30,430.70 C601.42,432.42 599.33,434.27 597.10,435.80 C594.87,437.33 592.47,438.70 589.90,439.90 C587.33,441.10 584.43,442.05 581.70,443.00 C578.97,443.95 576.23,444.92 573.50,445.60 C570.77,446.28 568.03,446.58 565.30,447.10 C562.57,447.62 559.92,448.27 557.10,448.70 C554.28,449.13 551.57,449.53 548.40,449.70 C545.23,449.87 541.35,449.95 538.10,449.70 C534.85,449.45 531.82,448.80 528.90,448.20 C525.98,447.60 523.35,446.70 520.60,446.10 C517.85,445.50 514.80,445.45 512.40,444.60 C510.00,443.75 507.57,442.47 506.20,441.00 C504.83,439.53 504.02,437.87 504.20,435.80Z" fill="none" stroke="#d5848b" stroke-width="1.15" stroke-dasharray="3.8 2.2"/>
<path d="M529.90,432.70 C528.88,430.63 528.57,427.88 528.90,425.50 C529.23,423.12 530.37,420.78 531.90,418.40 C533.43,416.02 536.03,413.27 538.10,411.20 C540.17,409.13 542.25,407.28 544.30,406.00 C546.35,404.72 548.37,404.58 550.40,403.50 C552.43,402.42 554.25,400.67 556.50,399.50 C558.75,398.33 561.92,397.27 563.90,396.50 C565.88,395.73 566.47,395.17 568.40,394.90 C570.33,394.63 573.28,394.55 575.50,394.90 C577.72,395.25 579.98,396.13 581.70,397.00 C583.42,397.87 584.77,398.90 585.80,400.10 C586.83,401.30 587.50,402.55 587.90,404.20 C588.30,405.85 588.27,408.12 588.20,410.00 C588.13,411.88 587.55,413.42 587.50,415.50 C587.45,417.58 588.35,420.32 587.90,422.50 C587.45,424.68 586.52,426.90 584.80,428.60 C583.08,430.30 580.33,431.50 577.60,432.70 C574.87,433.90 571.48,434.93 568.40,435.80 C565.32,436.67 561.92,437.13 559.10,437.90 C556.28,438.67 554.15,440.07 551.50,440.40 C548.85,440.73 545.95,440.32 543.20,439.90 C540.45,439.48 537.22,439.10 535.00,437.90 C532.78,436.70 530.92,434.77 529.90,432.70Z" fill="none" stroke="#d5848b" stroke-width="1.15" stroke-dasharray="3.8 2.2"/>
<rect x="493.10" y="346.50" width="131.50" height="117.70" fill="none" stroke="#333333" stroke-width="1"/>
<rect x="633.10" y="451.12" width="5.70" height="13.38" fill="#f6ece4"/>
<rect x="633.10" y="438.04" width="5.70" height="13.38" fill="#f1dcd2"/>
<rect x="633.10" y="424.97" width="5.70" height="13.38" fill="#ecc1ae"/>
<rect x="633.10" y="411.89" width="5.70" height="13.38" fill="#e8a18b"/>
<rect x="633.10" y="398.81" width="5.70" height="13.38" fill="#e17c66"/>
<rect x="633.10" y="385.73" width="5.70" height="13.38" fill="#df503d"/>
<rect x="633.10" y="372.66" width="5.70" height="13.38" fill="#cc3030"/>
<rect x="633.10" y="359.58" width="5.70" height="13.38" fill="#a9262c"/>
<rect x="633.10" y="346.50" width="5.70" height="13.38" fill="#7d1f26"/>
<rect x="633.10" y="346.50" width="5.70" height="117.70" fill="none" stroke="#262626" stroke-width="0.8"/>
<line x1="638.80" y1="464.20" x2="641.80" y2="464.20" stroke="#262626" stroke-width="0.8"/>
<text x="644.30" y="466.60" font-size="6.32" text-anchor="start" fill="#262626" stroke="#262626" stroke-width="0.1" textLength="29.58" lengthAdjust="spacingAndGlyphs" >0.000453</text>
<line x1="638.80" y1="451.12" x2="641.80" y2="451.12" stroke="#262626" stroke-width="0.8"/>
<text x="644.30" y="453.52" font-size="6.32" text-anchor="start" fill="#262626" stroke="#262626" stroke-width="0.1" textLength="29.58" lengthAdjust="spacingAndGlyphs" >0.001444</text>
<line x1="638.80" y1="438.04" x2="641.80" y2="438.04" stroke="#262626" stroke-width="0.8"/>
<text x="644.30" y="440.44" font-size="6.32" text-anchor="start" fill="#262626" stroke="#262626" stroke-width="0.1" textLength="29.58" lengthAdjust="spacingAndGlyphs" >0.002373</text>
<line x1="638.80" y1="424.97" x2="641.80" y2="424.97" stroke="#262626" stroke-width="0.8"/>
<text x="644.30" y="427.37" font-size="6.32" text-anchor="start" fill="#262626" stroke="#262626" stroke-width="0.1" textLength="29.58" lengthAdjust="spacingAndGlyphs" >0.003361</text>
<line x1="638.80" y1="411.89" x2="641.80" y2="411.89" stroke="#262626" stroke-width="0.8"/>
<text x="644.30" y="414.29" font-size="6.32" text-anchor="start" fill="#262626" stroke="#262626" stroke-width="0.1" textLength="29.58" lengthAdjust="spacingAndGlyphs" >0.004505</text>
<line x1="638.80" y1="398.81" x2="641.80" y2="398.81" stroke="#262626" stroke-width="0.8"/>
<text x="644.30" y="401.21" font-size="6.32" text-anchor="start" fill="#262626" stroke="#262626" stroke-width="0.1" textLength="29.58" lengthAdjust="spacingAndGlyphs" >0.005757</text>
<line x1="638.80" y1="385.73" x2="641.80" y2="385.73" stroke="#262626" stroke-width="0.8"/>
<text x="644.30" y="388.13" font-size="6.32" text-anchor="start" fill="#262626" stroke="#262626" stroke-width="0.1" textLength="29.58" lengthAdjust="spacingAndGlyphs" >0.007004</text>
<line x1="638.80" y1="372.66" x2="641.80" y2="372.66" stroke="#262626" stroke-width="0.8"/>
<text x="644.30" y="375.06" font-size="6.32" text-anchor="start" fill="#262626" stroke="#262626" stroke-width="0.1" textLength="29.58" lengthAdjust="spacingAndGlyphs" >0.008159</text>
<line x1="638.80" y1="359.58" x2="641.80" y2="359.58" stroke="#262626" stroke-width="0.8"/>
<text x="644.30" y="361.98" font-size="6.32" text-anchor="start" fill="#262626" stroke="#262626" stroke-width="0.1" textLength="29.58" lengthAdjust="spacingAndGlyphs" >0.009155</text>
<line x1="638.80" y1="346.50" x2="641.80" y2="346.50" stroke="#262626" stroke-width="0.8"/>
<text x="644.30" y="348.90" font-size="6.32" text-anchor="start" fill="#262626" stroke="#262626" stroke-width="0.1" textLength="29.58" lengthAdjust="spacingAndGlyphs" >0.009971</text>
<text x="683.00" y="405.35" font-size="8.16" text-anchor="middle" fill="#262626" stroke="#262626" stroke-width="0.1" textLength="30.41" lengthAdjust="spacingAndGlyphs" transform="rotate(-90 683.00 405.35)" >Density</text></svg></body></html>
